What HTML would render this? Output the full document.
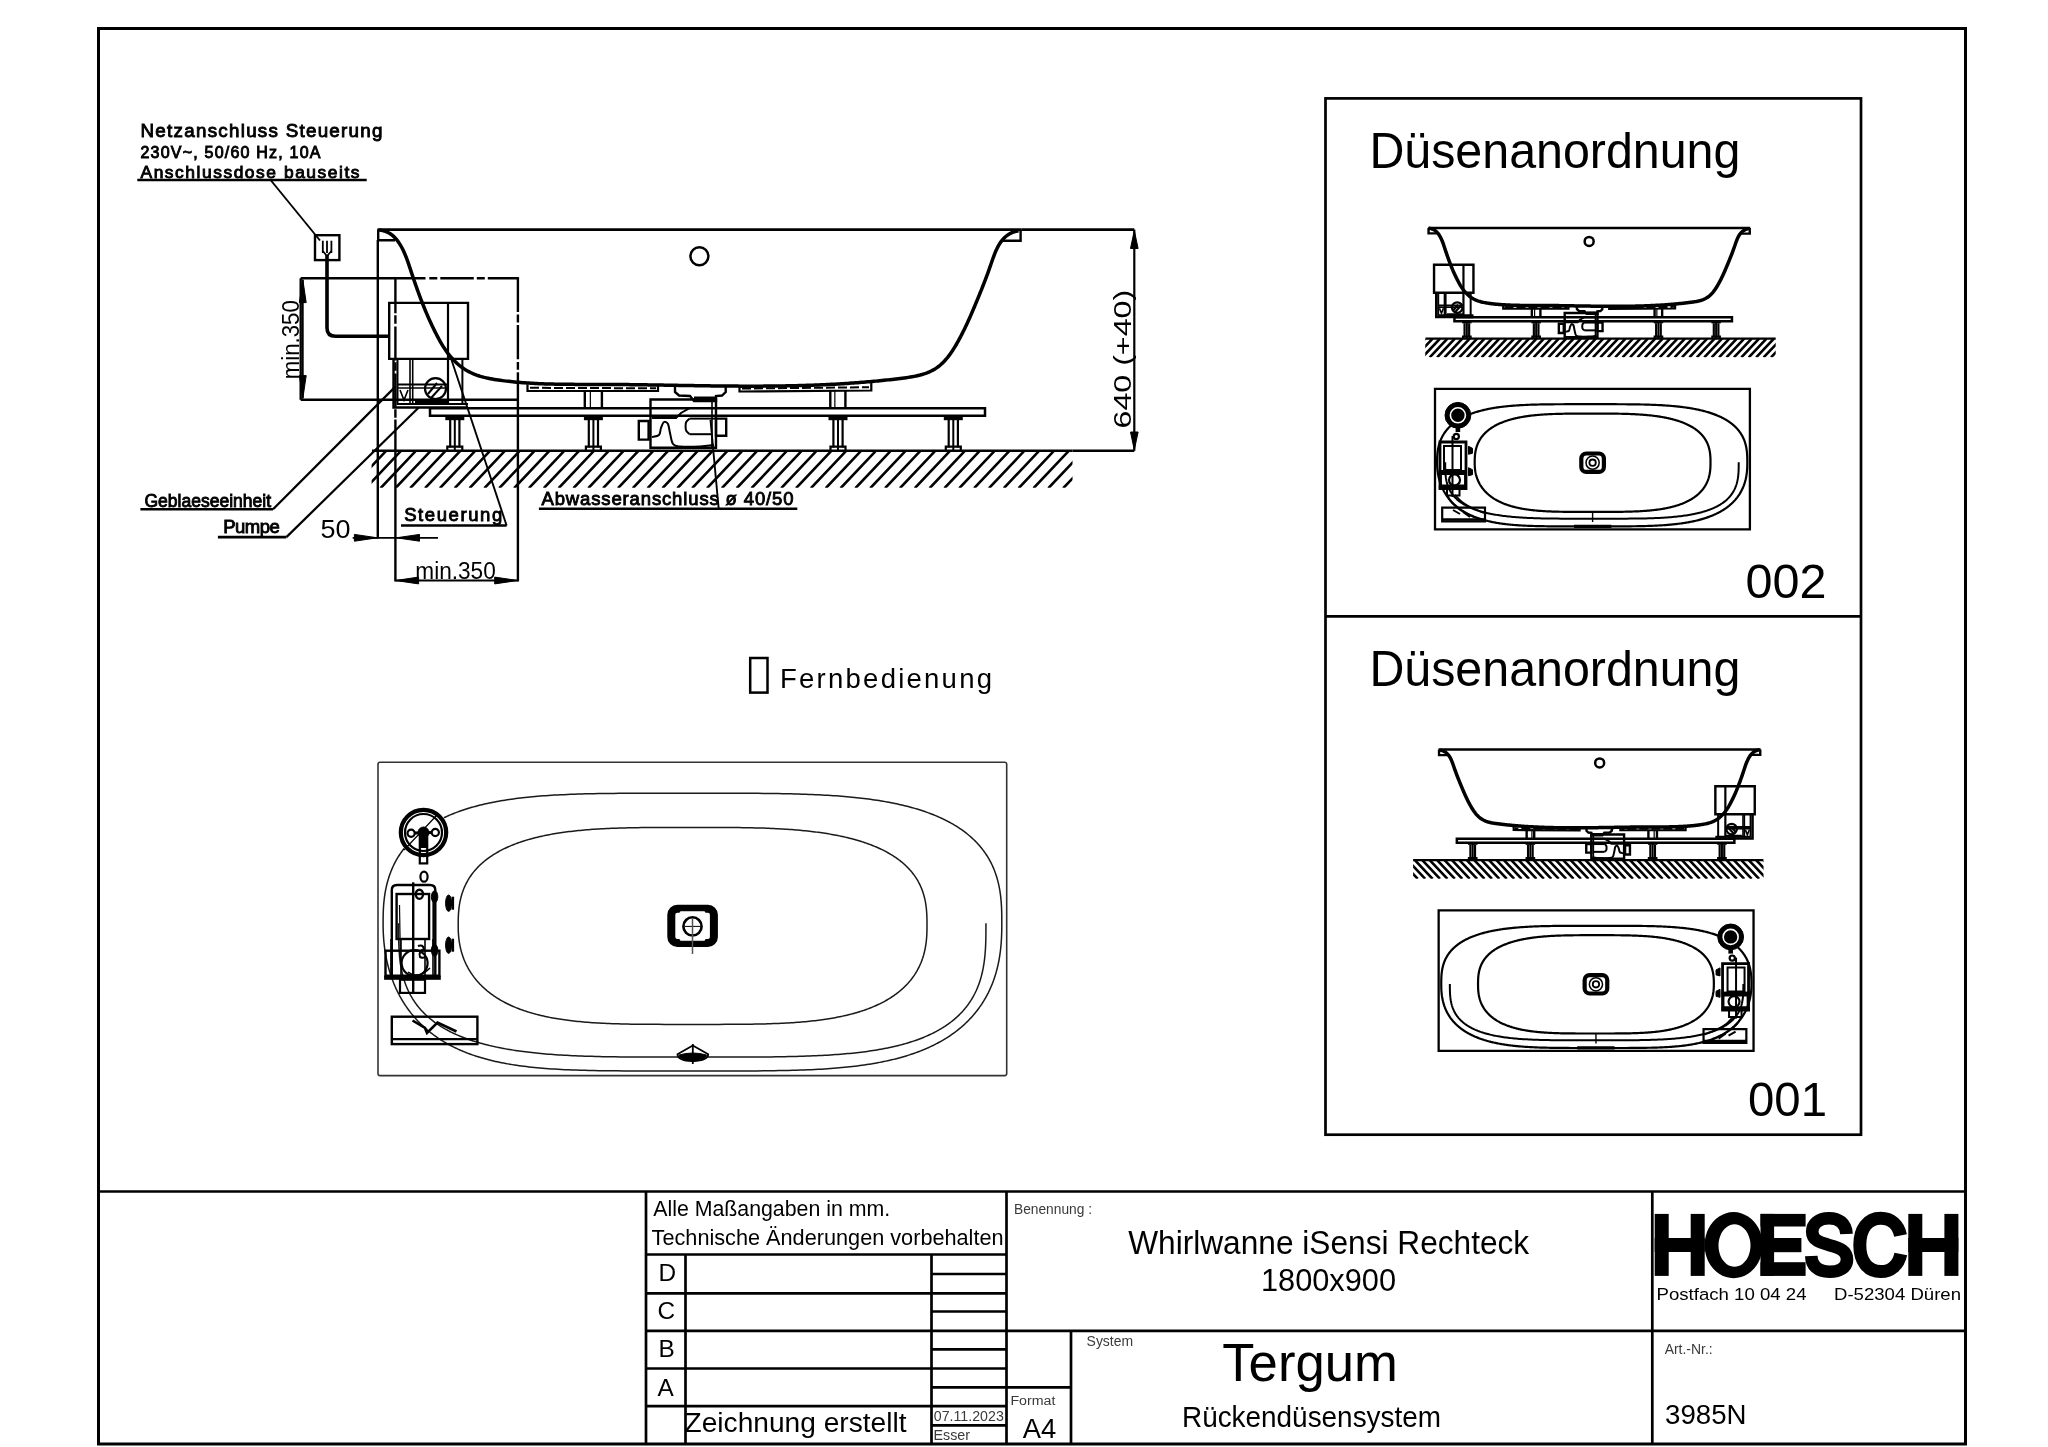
<!DOCTYPE html>
<html><head><meta charset="utf-8"><style>
html,body{margin:0;padding:0;background:#fff;width:2048px;height:1447px;overflow:hidden}
svg{display:block;will-change:transform}
</style></head><body>
<svg width="2048" height="1447" viewBox="0 0 2048 1447" stroke-linecap="butt">
<rect x="0" y="0" width="2048" height="1447" fill="#fff"/>
<rect x="98.5" y="28.5" width="1867" height="1415.5" fill="none" stroke="#000" stroke-width="3" />
<line x1="97" y1="1191.5" x2="1967" y2="1191.5" stroke="#000" stroke-width="2.7" />
<line x1="646" y1="1191.5" x2="646" y2="1444" stroke="#000" stroke-width="2.7" />
<line x1="1006.5" y1="1191.5" x2="1006.5" y2="1444" stroke="#000" stroke-width="2.7" />
<line x1="1652.3" y1="1191.5" x2="1652.3" y2="1444" stroke="#000" stroke-width="2.7" />
<line x1="646" y1="1254.5" x2="1006.5" y2="1254.5" stroke="#000" stroke-width="2.7" />
<line x1="685.5" y1="1254.5" x2="685.5" y2="1444" stroke="#000" stroke-width="2.7" />
<line x1="931.5" y1="1254.5" x2="931.5" y2="1444" stroke="#000" stroke-width="2.7" />
<line x1="646" y1="1293.4" x2="1006.5" y2="1293.4" stroke="#000" stroke-width="2.7" />
<line x1="646" y1="1330.8" x2="1006.5" y2="1330.8" stroke="#000" stroke-width="2.7" />
<line x1="646" y1="1368.5" x2="1006.5" y2="1368.5" stroke="#000" stroke-width="2.7" />
<line x1="646" y1="1406.2" x2="1006.5" y2="1406.2" stroke="#000" stroke-width="2.7" />
<line x1="931.5" y1="1274" x2="1006.5" y2="1274" stroke="#000" stroke-width="2.7" />
<line x1="931.5" y1="1311.5" x2="1006.5" y2="1311.5" stroke="#000" stroke-width="2.7" />
<line x1="931.5" y1="1349.4" x2="1006.5" y2="1349.4" stroke="#000" stroke-width="2.7" />
<line x1="931.5" y1="1387.4" x2="1006.5" y2="1387.4" stroke="#000" stroke-width="2.7" />
<line x1="931.5" y1="1425.3" x2="1006.5" y2="1425.3" stroke="#000" stroke-width="2.7" />
<line x1="1006.5" y1="1330.8" x2="1967" y2="1330.8" stroke="#000" stroke-width="2.7" />
<line x1="1071" y1="1330.8" x2="1071" y2="1444" stroke="#000" stroke-width="2.7" />
<line x1="1006.5" y1="1387.4" x2="1071" y2="1387.4" stroke="#000" stroke-width="2.7" />
<text x="653.2" y="1216" style="font-family:&quot;Liberation Sans&quot;" font-size="22.19" fill="#000" textLength="237" lengthAdjust="spacingAndGlyphs" >Alle Maßangaben in mm.</text>
<text x="651.6" y="1244.6" style="font-family:&quot;Liberation Sans&quot;" font-size="22.4" fill="#000" textLength="352" lengthAdjust="spacingAndGlyphs" >Technische Änderungen vorbehalten</text>
<text x="658.5" y="1281.2" style="font-family:&quot;Liberation Sans&quot;" font-size="24.37" fill="#000" >D</text>
<text x="657.5" y="1318.6" style="font-family:&quot;Liberation Sans&quot;" font-size="24.37" fill="#000" >C</text>
<text x="658.5" y="1357.4" style="font-family:&quot;Liberation Sans&quot;" font-size="24.37" fill="#000" >B</text>
<text x="657.6" y="1395.5" style="font-family:&quot;Liberation Sans&quot;" font-size="24.37" fill="#000" >A</text>
<text x="684.5" y="1432" style="font-family:&quot;Liberation Sans&quot;" font-size="27.48" fill="#000" textLength="222" lengthAdjust="spacingAndGlyphs" >Zeichnung erstellt</text>
<text x="933.8" y="1421" style="font-family:&quot;Liberation Sans&quot;" font-size="14.1" fill="#3a3a3a" textLength="70" lengthAdjust="spacingAndGlyphs" >07.11.2023</text>
<text x="933.5" y="1440.3" style="font-family:&quot;Liberation Sans&quot;" font-size="14.1" fill="#3a3a3a" textLength="36.5" lengthAdjust="spacingAndGlyphs" >Esser</text>
<text x="1010.4" y="1405.2" style="font-family:&quot;Liberation Sans&quot;" font-size="13.69" fill="#3a3a3a" textLength="45" lengthAdjust="spacingAndGlyphs" >Format</text>
<text x="1022.8" y="1438" style="font-family:&quot;Liberation Sans&quot;" font-size="26.96" fill="#000" textLength="33.5" lengthAdjust="spacingAndGlyphs" >A4</text>
<text x="1014" y="1213.7" style="font-family:&quot;Liberation Sans&quot;" font-size="14" fill="#3a3a3a" textLength="78" lengthAdjust="spacingAndGlyphs" >Benennung :</text>
<text x="1128.2" y="1254.3" style="font-family:&quot;Liberation Sans&quot;" font-size="32.77" fill="#000" textLength="401" lengthAdjust="spacingAndGlyphs" >Whirlwanne iSensi Rechteck</text>
<text x="1261" y="1291.3" style="font-family:&quot;Liberation Sans&quot;" font-size="31.63" fill="#000" textLength="135" lengthAdjust="spacingAndGlyphs" >1800x900</text>
<text x="1086.6" y="1345.6" style="font-family:&quot;Liberation Sans&quot;" font-size="14" fill="#3a3a3a" textLength="46.5" lengthAdjust="spacingAndGlyphs" >System</text>
<text x="1222.3" y="1381.2" style="font-family:&quot;Liberation Sans&quot;" font-size="53.92" fill="#000" textLength="175.5" lengthAdjust="spacingAndGlyphs" >Tergum</text>
<text x="1182" y="1426.7" style="font-family:&quot;Liberation Sans&quot;" font-size="28.72" fill="#000" textLength="259" lengthAdjust="spacingAndGlyphs" >Rückendüsensystem</text>
<text x="1656.5" y="1300.3" style="font-family:&quot;Liberation Sans&quot;" font-size="16.59" fill="#000" textLength="150" lengthAdjust="spacingAndGlyphs" >Postfach 10 04 24</text>
<text x="1834" y="1300.3" style="font-family:&quot;Liberation Sans&quot;" font-size="16.59" fill="#000" textLength="127" lengthAdjust="spacingAndGlyphs" >D-52304 Düren</text>
<text x="1664.7" y="1354.1" style="font-family:&quot;Liberation Sans&quot;" font-size="14" fill="#3a3a3a" textLength="48" lengthAdjust="spacingAndGlyphs" >Art.-Nr.:</text>
<text x="1665" y="1423.7" style="font-family:&quot;Liberation Sans&quot;" font-size="28" fill="#000" textLength="81.5" lengthAdjust="spacingAndGlyphs" >3985N</text>
<rect x="1654.7" y="1213.9" width="14" height="62" fill="#000"/>
<rect x="1690.7" y="1213.9" width="14" height="62" fill="#000"/>
<rect x="1654.7" y="1238" width="50" height="14" fill="#000"/>
<path fill-rule="evenodd" d="M1733.6,1212 A29,33.1 0 1 0 1733.61,1212 Z M1734.5,1224.3 A16,21.25 0 1 1 1734.49,1224.3 Z" fill="#000"/>
<rect x="1760.5" y="1213.9" width="13.6" height="62" fill="#000"/>
<rect x="1760.5" y="1213.9" width="45.1" height="12.6" fill="#000"/>
<rect x="1760.5" y="1238" width="40.9" height="14.2" fill="#000"/>
<rect x="1760.5" y="1262.2" width="45.1" height="13.7" fill="#000"/>
<path d="M1846.5,1234 C1846,1223 1838.5,1218.2 1829,1218.2 C1818.5,1218.2 1812.2,1224 1812.2,1231.5 C1812.2,1240.5 1820,1242.5 1829.5,1245.2 C1840,1248 1847,1251 1847,1259.5 C1847,1267.5 1840,1271.8 1829.5,1271.8 C1817.5,1271.8 1811.5,1265.5 1811.3,1256" fill="none" stroke="#000" stroke-width="12.6" />
<path d="M1900.5,1235.5 C1898.5,1225 1891,1218.3 1880.8,1218.3 C1867.5,1218.3 1859.8,1229 1859.8,1245 C1859.8,1261 1867.5,1271.6 1880.8,1271.6 C1891,1271.6 1898.5,1265 1900.8,1254" fill="none" stroke="#000" stroke-width="13" />
<rect x="1908.3" y="1213.9" width="14" height="62" fill="#000"/>
<rect x="1944.4" y="1213.9" width="14" height="62" fill="#000"/>
<rect x="1908.3" y="1238" width="50" height="14" fill="#000"/>
<rect x="1325.5" y="98.4" width="535.5" height="1036.3" fill="none" stroke="#000" stroke-width="2.7" />
<line x1="1325.5" y1="616.4" x2="1861" y2="616.4" stroke="#000" stroke-width="2.7" />
<text x="1369.4" y="168.1" style="font-family:&quot;Liberation Sans&quot;" font-size="50.29" fill="#000" textLength="371" lengthAdjust="spacingAndGlyphs" >Düsenanordnung</text>
<text x="1369.4" y="685.9" style="font-family:&quot;Liberation Sans&quot;" font-size="50.29" fill="#000" textLength="371" lengthAdjust="spacingAndGlyphs" >Düsenanordnung</text>
<text x="1745.5" y="597.5" style="font-family:&quot;Liberation Sans&quot;" font-size="48.74" fill="#000" textLength="81" lengthAdjust="spacingAndGlyphs" >002</text>
<text x="1748" y="1116" style="font-family:&quot;Liberation Sans&quot;" font-size="48.74" fill="#000" textLength="79" lengthAdjust="spacingAndGlyphs" >001</text>
<line x1="377.5" y1="229.6" x2="1021.5" y2="229.6" stroke="#000" stroke-width="2.6" />
<polyline points="378.2,229.6 378.2,240.2 395,240.2" fill="none" stroke="#000" stroke-width="2.4" />
<polyline points="1002,240.8 1020.6,240.8 1020.6,229.6" fill="none" stroke="#000" stroke-width="2.4" />
<path d="M379.19,230.10 L381.39,230.38 L383.46,230.83 L385.42,231.43 L387.25,232.17 L388.98,233.05 L390.61,234.06 L392.14,235.18 L393.58,236.41 L394.93,237.74 L396.21,239.16 L397.42,240.65 L398.56,242.22 L399.64,243.84 L400.67,245.52 L401.64,247.26 L402.57,249.04 L403.45,250.86 L404.30,252.72 L405.10,254.61 L405.88,256.53 L406.63,258.47 L407.35,260.44 L408.05,262.42 L408.74,264.41 L409.41,266.40 L410.07,268.40 L410.73,270.39 L411.39,272.38 L412.05,274.36 L412.71,276.33 L413.37,278.28 L414.03,280.23 L414.70,282.17 L415.37,284.11 L416.05,286.03 L416.72,287.95 L417.41,289.86 L418.10,291.76 L418.79,293.66 L419.49,295.55 L420.19,297.43 L420.91,299.31 L421.63,301.18 L422.36,303.05 L423.09,304.91 L423.84,306.76 L424.59,308.62 L425.35,310.47 L426.13,312.31 L426.91,314.15 L427.71,315.99 L428.51,317.83 L429.33,319.66 L430.16,321.49 L431.00,323.32 L431.86,325.15 L432.73,326.98 L433.61,328.80 L434.51,330.63 L435.42,332.45 L436.35,334.27 L437.30,336.10 L438.26,337.92 L439.25,339.73 L440.25,341.53 L441.29,343.32 L442.34,345.09 L443.43,346.84 L444.55,348.57 L445.70,350.27 L446.88,351.94 L448.10,353.59 L449.36,355.20 L450.67,356.77 L452.01,358.30 L453.39,359.79 L454.81,361.23 L456.27,362.63 L457.77,363.98 L459.31,365.28 L460.89,366.52 L462.50,367.71 L464.15,368.85 L465.83,369.93 L467.54,370.94 L469.29,371.89 L471.08,372.78 L472.89,373.61 L474.73,374.37 L476.60,375.08 L478.50,375.73 L480.42,376.34 L482.36,376.89 L484.31,377.41 L486.29,377.88 L488.28,378.32 L490.28,378.72 L492.29,379.09 L494.31,379.44 L496.34,379.76 L498.37,380.06 L500.41,380.35 L502.44,380.62 L504.48,380.88 L506.51,381.12 L508.55,381.36 L510.58,381.58 L512.61,381.79 L514.65,381.99 L516.68,382.18 L518.71,382.36 L520.74,382.53 L522.78,382.69 L524.81,382.84 L526.84,382.99 L528.87,383.12 L530.90,383.24 L532.93,383.36 L534.97,383.47 L537.00,383.57 L539.03,383.66 L541.06,383.74 L543.09,383.82 L545.12,383.89 L547.15,383.96 L549.18,384.02 L551.21,384.07 L553.24,384.12 L555.26,384.16 L557.29,384.20 L559.32,384.24 L561.35,384.26 L563.38,384.29 L565.41,384.31 L567.44,384.33 L569.47,384.35 L571.49,384.36 L573.52,384.37 L575.55,384.38 L577.58,384.38 L579.61,384.39 L581.63,384.39 L583.66,384.39 L585.69,384.40 L587.72,384.40 L589.75,384.40 L591.77,384.40 L593.80,384.40 L595.83,384.40 L597.86,384.40 L599.88,384.41 L601.91,384.41 L603.94,384.42 L605.97,384.43 L608.00,384.44 L610.02,384.45 L612.05,384.47 L614.08,384.48 L616.11,384.50 L618.14,384.51 L620.16,384.53 L622.19,384.55 L624.22,384.57 L626.25,384.59 L628.27,384.62 L630.30,384.64 L632.33,384.67 L634.36,384.69 L636.39,384.72 L638.41,384.75 L640.44,384.77 L642.47,384.80 L644.50,384.83 L646.53,384.86 L648.55,384.89 L650.58,384.92 L652.61,384.95 L654.64,384.99 L656.67,385.02 L658.70,385.05 L660.72,385.08 L662.75,385.12 L664.78,385.15 L666.81,385.19 L668.84,385.22 L670.86,385.25 L672.89,385.29 L674.92,385.32 L676.95,385.35 L678.98,385.39 L681.01,385.42 L683.03,385.46 L685.06,385.49 L687.09,385.52 L689.12,385.55 L691.15,385.59 L693.18,385.62 L695.20,385.65 L697.23,385.68 L699.26,385.71 L701.29,385.74 L703.32,385.77 L705.35,385.80 L707.38,385.83 L709.40,385.85 L711.43,385.88 L713.46,385.90 L715.49,385.93 L717.52,385.95 L719.55,385.97 L721.58,386.00 L723.61,386.02 L725.63,386.03 L727.66,386.05 L729.69,386.07 L731.72,386.08 L733.75,386.10 L735.78,386.11 L737.81,386.12 L739.84,386.13 L741.86,386.14 L743.89,386.15 L745.92,386.15 L747.95,386.16 L749.98,386.16 L752.01,386.16 L754.04,386.16 L756.07,386.15 L758.10,386.15 L760.13,386.14 L762.15,386.13 L764.18,386.12 L766.21,386.11 L768.24,386.09 L770.27,386.08 L772.30,386.06 L774.33,386.03 L776.36,386.01 L778.39,385.98 L780.42,385.96 L782.45,385.92 L784.48,385.89 L786.51,385.85 L788.54,385.82 L790.56,385.77 L792.59,385.73 L794.62,385.68 L796.65,385.64 L798.68,385.58 L800.71,385.53 L802.74,385.47 L804.77,385.41 L806.80,385.35 L808.83,385.28 L810.86,385.21 L812.89,385.14 L814.92,385.06 L816.95,384.98 L818.98,384.90 L821.01,384.82 L823.04,384.73 L825.07,384.64 L827.10,384.54 L829.13,384.44 L831.16,384.34 L833.19,384.24 L835.22,384.13 L837.25,384.01 L839.28,383.90 L841.31,383.78 L843.34,383.65 L845.37,383.52 L847.40,383.39 L849.43,383.26 L851.46,383.12 L853.49,382.97 L855.52,382.83 L857.55,382.67 L859.58,382.52 L861.61,382.36 L863.64,382.20 L865.67,382.03 L867.70,381.85 L869.73,381.68 L871.76,381.50 L873.79,381.31 L875.83,381.12 L877.86,380.93 L879.89,380.73 L881.92,380.52 L883.95,380.31 L885.98,380.10 L888.01,379.88 L890.04,379.66 L892.07,379.43 L894.10,379.20 L896.13,378.96 L898.16,378.72 L900.20,378.47 L902.23,378.22 L904.25,377.96 L906.28,377.68 L908.30,377.39 L910.30,377.07 L912.30,376.73 L914.28,376.36 L916.25,375.96 L918.20,375.52 L920.13,375.04 L922.04,374.51 L923.92,373.93 L925.77,373.30 L927.60,372.60 L929.39,371.85 L931.15,371.03 L932.87,370.14 L934.56,369.17 L936.20,368.13 L937.80,367.00 L939.36,365.79 L940.88,364.50 L942.35,363.14 L943.78,361.71 L945.17,360.21 L946.52,358.65 L947.84,357.04 L949.12,355.39 L950.37,353.69 L951.58,351.95 L952.76,350.18 L953.91,348.39 L955.03,346.57 L956.13,344.74 L957.19,342.89 L958.23,341.04 L959.25,339.19 L960.24,337.35 L961.21,335.50 L962.16,333.66 L963.08,331.82 L963.99,329.99 L964.89,328.16 L965.76,326.32 L966.62,324.50 L967.47,322.67 L968.31,320.84 L969.13,319.01 L969.94,317.18 L970.74,315.36 L971.54,313.53 L972.32,311.70 L973.10,309.87 L973.88,308.03 L974.65,306.20 L975.42,304.36 L976.19,302.52 L976.96,300.68 L977.72,298.83 L978.48,296.98 L979.24,295.13 L980.00,293.26 L980.76,291.40 L981.51,289.53 L982.26,287.65 L983.00,285.76 L983.74,283.87 L984.48,281.97 L985.21,280.07 L985.93,278.15 L986.65,276.22 L987.37,274.29 L988.08,272.35 L988.78,270.39 L989.48,268.43 L990.17,266.45 L990.85,264.46 L991.53,262.47 L992.22,260.48 L992.92,258.50 L993.64,256.54 L994.38,254.59 L995.15,252.67 L995.95,250.79 L996.80,248.95 L997.69,247.16 L998.64,245.42 L999.65,243.74 L1000.72,242.13 L1001.86,240.59 L1003.08,239.14 L1004.38,237.77 L1005.77,236.49 L1007.26,235.32 L1008.85,234.25 L1010.54,233.30 L1012.35,232.46 L1014.28,231.76 L1016.34,231.18 L1018.52,230.75" fill="none" stroke="#000" stroke-width="3.5" />
<polyline points="527.5,384.5 527.5,391 658,391 658,385.5" fill="none" stroke="#000" stroke-width="2.2" />
<polyline points="739.5,385.5 739.5,391.5 871.3,390.5 871.3,383" fill="none" stroke="#000" stroke-width="2.2" />
<line x1="530" y1="387.8" x2="656" y2="388.3" stroke="#000" stroke-width="2" stroke-dasharray="9 3"/>
<line x1="742" y1="388.6" x2="869" y2="387.2" stroke="#000" stroke-width="2" stroke-dasharray="9 3"/>
<polyline points="675,386.5 675,392 679,395.5 690,396 694,401 716,401 716,396 722,395.5 725.7,392 725.7,386.5" fill="none" stroke="#000" stroke-width="2.4" />
<polygon points="694,396.5 715,396.5 715,402 694,402" fill="#000"/>
<line x1="584.8" y1="391" x2="584.8" y2="408" stroke="#000" stroke-width="2.4" />
<line x1="601.9" y1="391" x2="601.9" y2="408" stroke="#000" stroke-width="2.4" />
<line x1="590.35" y1="391" x2="590.35" y2="408" stroke="#000" stroke-width="1.2" />
<line x1="830.3" y1="391" x2="830.3" y2="408" stroke="#000" stroke-width="2.4" />
<line x1="845.4" y1="391" x2="845.4" y2="408" stroke="#000" stroke-width="2.4" />
<line x1="834.85" y1="391" x2="834.85" y2="408" stroke="#000" stroke-width="1.2" />
<polygon points="430,408.2 985,408.2 985,415.8 430,415.8" fill="none" stroke="#000" stroke-width="2.5" />
<polygon points="445.3,416 464.3,416 464.3,420.2 445.3,420.2" fill="#000"/>
<line x1="450.2" y1="420" x2="450.2" y2="447.5" stroke="#000" stroke-width="2.2" />
<line x1="459.4" y1="420" x2="459.4" y2="447.5" stroke="#000" stroke-width="2.2" />
<line x1="454.8" y1="416" x2="454.8" y2="452" stroke="#000" stroke-width="2" />
<polyline points="447.3,450.8 447.3,446.6 462.3,446.6 462.3,450.8" fill="none" stroke="#000" stroke-width="2.2" />
<polygon points="583.9,416 602.9,416 602.9,420.2 583.9,420.2" fill="#000"/>
<line x1="588.8" y1="420" x2="588.8" y2="447.5" stroke="#000" stroke-width="2.2" />
<line x1="598" y1="420" x2="598" y2="447.5" stroke="#000" stroke-width="2.2" />
<line x1="593.4" y1="416" x2="593.4" y2="452" stroke="#000" stroke-width="2" />
<polyline points="585.9,450.8 585.9,446.6 600.9,446.6 600.9,450.8" fill="none" stroke="#000" stroke-width="2.2" />
<polygon points="828.5,416 847.5,416 847.5,420.2 828.5,420.2" fill="#000"/>
<line x1="833.4" y1="420" x2="833.4" y2="447.5" stroke="#000" stroke-width="2.2" />
<line x1="842.6" y1="420" x2="842.6" y2="447.5" stroke="#000" stroke-width="2.2" />
<line x1="838" y1="416" x2="838" y2="452" stroke="#000" stroke-width="2" />
<polyline points="830.5,450.8 830.5,446.6 845.5,446.6 845.5,450.8" fill="none" stroke="#000" stroke-width="2.2" />
<polygon points="943.8,416 962.8,416 962.8,420.2 943.8,420.2" fill="#000"/>
<line x1="948.7" y1="420" x2="948.7" y2="447.5" stroke="#000" stroke-width="2.2" />
<line x1="957.9" y1="420" x2="957.9" y2="447.5" stroke="#000" stroke-width="2.2" />
<line x1="953.3" y1="416" x2="953.3" y2="452" stroke="#000" stroke-width="2" />
<polyline points="945.8,450.8 945.8,446.6 960.8,446.6 960.8,450.8" fill="none" stroke="#000" stroke-width="2.2" />
<polygon points="650.5,399.5 716,399.5 716,447.7 650.5,447.7" fill="none" stroke="#000" stroke-width="2.4" />
<polygon points="638.8,421 648.6,421 648.6,439.6 638.8,439.6" fill="none" stroke="#000" stroke-width="2.4" />
<polygon points="716,418.6 726.2,418.6 726.2,435.7 716,435.7" fill="none" stroke="#000" stroke-width="2.4" />
<path d="M652,437 C653.17,436.67 657.5,436.5 659,435 C660.5,433.5 660.17,430.17 661,428 C661.83,425.83 662.83,422.67 664,422 C665.17,421.33 667,422.17 668,424 C669,425.83 669.17,429.67 670,433 C670.83,436.33 671.33,441.75 673,444 C674.67,446.25 675.5,446.08 680,446.5 C684.5,446.92 694.33,446.75 700,446.5 C705.67,446.25 711.67,445.25 714,445" fill="none" stroke="#000" stroke-width="2" />
<polyline points="652,418 676,418 681,413 690,408 712,408" fill="none" stroke="#000" stroke-width="2" />
<polyline points="716,418.6 689.5,418.6" fill="none" stroke="#000" stroke-width="2" />
<path d="M689.5,418.6 C688.95,419.17 686.85,420.7 686.2,422 C685.55,423.3 685.6,424.93 685.6,426.4 C685.6,427.87 685.55,429.5 686.2,430.8 C686.85,432.1 688.95,433.63 689.5,434.2" fill="none" stroke="#000" stroke-width="2" />
<polyline points="689.5,434.2 711,434.2" fill="none" stroke="#000" stroke-width="2" />
<line x1="712" y1="401" x2="712" y2="447" stroke="#000" stroke-width="1.6" />
<polygon points="389.2,302.9 468,302.9 468,358.9 389.2,358.9" fill="none" stroke="#000" stroke-width="2.4" />
<line x1="448" y1="303" x2="448" y2="359" stroke="#000" stroke-width="2.2" />
<polyline points="393.5,359 393.5,407.5 468,407.5" fill="none" stroke="#000" stroke-width="2.4" />
<line x1="397.5" y1="359" x2="397.5" y2="405" stroke="#000" stroke-width="2" />
<line x1="410" y1="359" x2="410" y2="405" stroke="#000" stroke-width="1.6" />
<line x1="412.7" y1="359" x2="412.7" y2="405" stroke="#000" stroke-width="1.6" />
<line x1="448" y1="359" x2="448" y2="404" stroke="#000" stroke-width="2.2" />
<line x1="462.4" y1="359" x2="462.4" y2="405" stroke="#000" stroke-width="2" />
<line x1="397.5" y1="384.5" x2="448" y2="384.5" stroke="#000" stroke-width="2" />
<line x1="397.5" y1="388" x2="448" y2="388" stroke="#000" stroke-width="1.6" />
<line x1="397.5" y1="404" x2="468" y2="404" stroke="#000" stroke-width="2.2" />
<circle cx="435.5" cy="388.6" r="10.5" fill="none" stroke="#000" stroke-width="2.2"/>
<line x1="428" y1="394" x2="437" y2="383" stroke="#000" stroke-width="2" />
<line x1="431" y1="398" x2="442" y2="386" stroke="#000" stroke-width="2" />
<polyline points="400,390 404,400 408,390" fill="none" stroke="#000" stroke-width="1.6" />
<polygon points="415,400 448,400 448,404 415,404" fill="#000"/>
<line x1="372" y1="450.8" x2="1072.5" y2="450.8" stroke="#000" stroke-width="2.4" />
<clipPath id="hcmain"><rect x="371.6" y="451.7" width="700.9" height="36.1"/></clipPath>
<path clip-path="url(#hcmain)" d="M356.68,450.7L321.18,488.2M371.52,450.7L336.02,488.2M386.36,450.7L350.86,488.2M401.2,450.7L365.7,488.2M416.04,450.7L380.54,488.2M430.88,450.7L395.38,488.2M445.72,450.7L410.22,488.2M460.56,450.7L425.06,488.2M475.4,450.7L439.9,488.2M490.24,450.7L454.74,488.2M505.08,450.7L469.58,488.2M519.92,450.7L484.42,488.2M534.76,450.7L499.26,488.2M549.6,450.7L514.1,488.2M564.44,450.7L528.94,488.2M579.28,450.7L543.78,488.2M594.12,450.7L558.62,488.2M608.96,450.7L573.46,488.2M623.8,450.7L588.3,488.2M638.64,450.7L603.14,488.2M653.48,450.7L617.98,488.2M668.32,450.7L632.82,488.2M683.16,450.7L647.66,488.2M698,450.7L662.5,488.2M712.84,450.7L677.34,488.2M727.68,450.7L692.18,488.2M742.52,450.7L707.02,488.2M757.36,450.7L721.86,488.2M772.2,450.7L736.7,488.2M787.04,450.7L751.54,488.2M801.88,450.7L766.38,488.2M816.72,450.7L781.22,488.2M831.56,450.7L796.06,488.2M846.4,450.7L810.9,488.2M861.24,450.7L825.74,488.2M876.08,450.7L840.58,488.2M890.92,450.7L855.42,488.2M905.76,450.7L870.26,488.2M920.6,450.7L885.1,488.2M935.44,450.7L899.94,488.2M950.28,450.7L914.78,488.2M965.12,450.7L929.62,488.2M979.96,450.7L944.46,488.2M994.8,450.7L959.3,488.2M1009.64,450.7L974.14,488.2M1024.48,450.7L988.98,488.2M1039.32,450.7L1003.82,488.2M1054.16,450.7L1018.66,488.2M1069,450.7L1033.5,488.2M1083.84,450.7L1048.34,488.2M1098.68,450.7L1063.18,488.2" stroke="#000" stroke-width="2.6" fill="none"/>
<circle cx="699.4" cy="256.3" r="9" fill="none" stroke="#000" stroke-width="2.5"/>
<line x1="1021.5" y1="229.6" x2="1134.3" y2="229.6" stroke="#000" stroke-width="2.6" />
<line x1="1072.5" y1="450.8" x2="1134.3" y2="450.8" stroke="#000" stroke-width="2.4" />
<line x1="1134.3" y1="229.6" x2="1134.3" y2="450.8" stroke="#000" stroke-width="2.2" />
<polygon points="1134.3,230.5 1138.1,248.5 1130.5,248.5" fill="#000" stroke="#000" stroke-width="1"/>
<polygon points="1134.3,450 1130.5,432 1138.1,432" fill="#000" stroke="#000" stroke-width="1"/>
<text transform="translate(1131.2,428.4) rotate(-90)" font-family="Liberation Sans" font-size="23.5" textLength="138.5" lengthAdjust="spacingAndGlyphs">640 (+40)</text>
<line x1="377.8" y1="240" x2="377.8" y2="538.5" stroke="#000" stroke-width="2.4" />
<line x1="300.7" y1="278.3" x2="425.5" y2="278.3" stroke="#000" stroke-width="2.4" />
<line x1="429.3" y1="278.3" x2="517.9" y2="278.3" stroke="#000" stroke-width="2.4" stroke-dasharray="8 3 33.5 3"/>
<line x1="300.7" y1="278.3" x2="300.7" y2="399.8" stroke="#000" stroke-width="2.4" />
<line x1="300.7" y1="399.8" x2="517.7" y2="399.8" stroke="#000" stroke-width="2.4" />
<line x1="395.4" y1="277.1" x2="395.4" y2="313.3" stroke="#000" stroke-width="2.4" />
<line x1="395.4" y1="315.2" x2="395.4" y2="417.8" stroke="#000" stroke-width="2.4" stroke-dasharray="8.6 2.6 34 1.8"/>
<line x1="395.4" y1="419.5" x2="395.4" y2="581.5" stroke="#000" stroke-width="2.4" />
<line x1="517.9" y1="277.1" x2="517.9" y2="312" stroke="#000" stroke-width="2.4" />
<line x1="517.9" y1="314.6" x2="517.9" y2="369.7" stroke="#000" stroke-width="2.4" stroke-dasharray="8 2.5 34.2 2.6"/>
<line x1="517.9" y1="372.3" x2="517.9" y2="581.5" stroke="#000" stroke-width="2.4" />
<line x1="302.8" y1="280" x2="302.8" y2="398" stroke="#000" stroke-width="1.8" />
<polygon points="302.8,279.6 306.2,302.6 299.4,302.6" fill="#000" stroke="#000" stroke-width="1"/>
<polygon points="302.8,398.6 299.4,375.6 306.2,375.6" fill="#000" stroke="#000" stroke-width="1"/>
<text transform="translate(299.4,379.2) rotate(-90)" font-family="Liberation Sans" font-size="23.5" textLength="79" lengthAdjust="spacingAndGlyphs">min.350</text>
<rect x="315" y="235.2" width="24.4" height="24.9" fill="none" stroke="#000" stroke-width="2.4" />
<line x1="322.8" y1="240.7" x2="322.8" y2="253" stroke="#000" stroke-width="1.8" />
<line x1="327" y1="240.7" x2="327" y2="253" stroke="#000" stroke-width="1.8" />
<line x1="331.4" y1="240.7" x2="331.4" y2="253" stroke="#000" stroke-width="1.8" />
<polyline points="322.8,251 327,256 331.4,251" fill="none" stroke="#000" stroke-width="1.8" />
<path d="M327,255 L327,328 Q327,336.2 335.5,336.2 L388,336.2" fill="none" stroke="#000" stroke-width="3.6" />
<line x1="271" y1="180.5" x2="320" y2="240.5" stroke="#000" stroke-width="1.9" />
<text x="140.5" y="137" style="font-family:&quot;Liberation Sans&quot;" font-size="18.8" fill="#000" textLength="242" stroke="#000" stroke-width="0.9" lengthAdjust="spacing">Netzanschluss Steuerung</text>
<text x="140.5" y="157.7" style="font-family:&quot;Liberation Sans&quot;" font-size="16" fill="#000" textLength="180" stroke="#000" stroke-width="0.9" lengthAdjust="spacing">230V~, 50/60 Hz, 10A</text>
<text x="140.5" y="178.4" style="font-family:&quot;Liberation Sans&quot;" font-size="17.4" fill="#000" textLength="219" stroke="#000" stroke-width="0.9" lengthAdjust="spacing">Anschlussdose bauseits</text>
<line x1="137.3" y1="180" x2="366.7" y2="180" stroke="#000" stroke-width="2.6" />
<text x="144.5" y="506.9" style="font-family:&quot;Liberation Sans&quot;" font-size="18.5" fill="#000" textLength="126.5" lengthAdjust="spacingAndGlyphs" stroke="#000" stroke-width="0.9">Geblaeseeinheit</text>
<line x1="140.4" y1="509.3" x2="273" y2="509.3" stroke="#000" stroke-width="2.6" />
<line x1="273" y1="509.3" x2="395.4" y2="386.6" stroke="#000" stroke-width="2.2" />
<text x="223.2" y="533.2" style="font-family:&quot;Liberation Sans&quot;" font-size="18.5" fill="#000" textLength="56.5" stroke="#000" stroke-width="0.9" lengthAdjust="spacing">Pumpe</text>
<line x1="217.9" y1="537.1" x2="286.4" y2="537.1" stroke="#000" stroke-width="2.6" />
<line x1="286.4" y1="537.1" x2="419" y2="407.3" stroke="#000" stroke-width="2.2" />
<text x="320.6" y="537.7" style="font-family:&quot;Liberation Sans&quot;" font-size="25" fill="#000" textLength="30" lengthAdjust="spacingAndGlyphs" >50</text>
<line x1="352.7" y1="537.8" x2="438" y2="537.8" stroke="#000" stroke-width="1.8" />
<polygon points="377.4,537.8 354.4,541.2 354.4,534.4" fill="#000" stroke="#000" stroke-width="1"/>
<polygon points="396.5,537.8 419.5,534.4 419.5,541.2" fill="#000" stroke="#000" stroke-width="1"/>
<text x="404.2" y="520.9" style="font-family:&quot;Liberation Sans&quot;" font-size="18.5" fill="#000" textLength="98" stroke="#000" stroke-width="0.9" lengthAdjust="spacing">Steuerung</text>
<line x1="401" y1="525.5" x2="506.6" y2="525.5" stroke="#000" stroke-width="2.6" />
<line x1="506.6" y1="525.5" x2="450.7" y2="357.5" stroke="#000" stroke-width="1.9" />
<text x="415.3" y="579.3" style="font-family:&quot;Liberation Sans&quot;" font-size="23.5" fill="#000" textLength="80.5" lengthAdjust="spacingAndGlyphs" >min.350</text>
<line x1="395.4" y1="580.5" x2="517.9" y2="580.5" stroke="#000" stroke-width="1.8" />
<polygon points="395.6,580.5 418.6,577.1 418.6,583.9" fill="#000" stroke="#000" stroke-width="1"/>
<polygon points="517.7,580.5 494.7,583.9 494.7,577.1" fill="#000" stroke="#000" stroke-width="1"/>
<text x="541.5" y="505.3" style="font-family:&quot;Liberation Sans&quot;" font-size="18.5" fill="#000" textLength="252" stroke="#000" stroke-width="0.9" lengthAdjust="spacing">Abwasseranschluss ø 40/50</text>
<line x1="538.9" y1="508.8" x2="797.3" y2="508.8" stroke="#000" stroke-width="2.6" />
<line x1="718.7" y1="508.8" x2="710.5" y2="420" stroke="#000" stroke-width="1.9" />
<rect x="378" y="762.3" width="628.7" height="313.3" rx="2" fill="none" stroke="#333" stroke-width="1.6" />
<path d="M383.10,923.20 L383.11,920.27 L383.12,918.10 L383.15,916.15 L383.19,914.32 L383.24,912.59 L383.31,910.93 L383.38,909.32 L383.47,907.75 L383.57,906.23 L383.67,904.74 L383.80,903.28 L383.93,901.85 L384.07,900.45 L384.23,899.06 L384.39,897.70 L384.57,896.36 L384.76,895.04 L384.96,893.73 L385.18,892.44 L385.40,891.16 L385.64,889.90 L385.89,888.65 L386.15,887.42 L386.42,886.20 L386.70,884.99 L386.99,883.79 L387.30,882.60 L387.62,881.43 L387.95,880.26 L388.29,879.11 L388.64,877.97 L389.00,876.83 L389.38,875.71 L389.77,874.59 L390.17,873.49 L390.58,872.39 L391.00,871.31 L391.44,870.23 L391.89,869.16 L392.35,868.10 L392.82,867.04 L393.30,866.00 L393.79,864.96 L394.30,863.93 L394.82,862.91 L395.35,861.90 L395.89,860.90 L396.45,859.90 L397.02,858.91 L397.59,857.93 L398.19,856.96 L398.79,855.99 L399.41,855.03 L400.03,854.08 L400.67,853.14 L401.33,852.20 L401.99,851.28 L402.67,850.35 L403.36,849.44 L404.06,848.53 L404.78,847.64 L405.50,846.74 L406.24,845.86 L407.00,844.98 L407.76,844.11 L408.54,843.25 L409.33,842.39 L410.14,841.54 L410.95,840.70 L411.78,839.87 L412.63,839.04 L413.48,838.22 L414.35,837.41 L415.24,836.60 L416.13,835.80 L417.04,835.01 L417.96,834.23 L418.90,833.45 L419.85,832.68 L420.81,831.92 L421.79,831.16 L422.78,830.41 L423.79,829.67 L424.81,828.93 L425.84,828.21 L426.89,827.49 L427.95,826.77 L429.02,826.07 L430.11,825.37 L431.22,824.68 L432.34,823.99 L433.47,823.32 L434.62,822.65 L435.78,821.98 L436.96,821.33 L438.16,820.68 L439.37,820.04 L440.59,819.41 L441.83,818.78 L443.09,818.16 L444.36,817.55 L445.65,816.95 L446.96,816.35 L448.28,815.76 L449.62,815.18 L450.98,814.60 L452.35,814.03 L453.74,813.47 L455.15,812.92 L456.57,812.38 L458.01,811.84 L459.47,811.31 L460.95,810.78 L462.45,810.27 L463.97,809.76 L465.51,809.26 L467.06,808.77 L468.64,808.28 L470.23,807.80 L471.85,807.33 L473.49,806.87 L475.14,806.41 L476.82,805.96 L478.53,805.52 L480.25,805.09 L482.00,804.66 L483.77,804.25 L485.56,803.84 L487.38,803.43 L489.22,803.04 L491.09,802.65 L492.98,802.27 L494.90,801.90 L496.85,801.54 L498.83,801.18 L500.83,800.83 L502.86,800.49 L504.93,800.15 L507.02,799.83 L509.15,799.51 L511.31,799.20 L513.51,798.90 L515.74,798.60 L518.00,798.32 L520.31,798.04 L522.65,797.76 L525.04,797.50 L527.47,797.24 L529.94,797.00 L532.45,796.76 L535.02,796.52 L537.64,796.30 L540.31,796.08 L543.03,795.87 L545.82,795.67 L548.67,795.48 L551.58,795.29 L554.56,795.11 L557.62,794.94 L560.76,794.78 L563.98,794.63 L567.30,794.48 L570.71,794.34 L574.24,794.21 L577.88,794.09 L581.65,793.98 L585.56,793.87 L589.64,793.77 L593.90,793.68 L598.36,793.60 L603.07,793.52 L608.05,793.45 L613.36,793.39 L619.09,793.34 L625.33,793.30 L632.25,793.26 L640.13,793.24 L649.51,793.22 L661.83,793.20 L692.45,793.20 L717.96,793.20 L729.19,793.21 L737.93,793.23 L745.36,793.26 L751.95,793.29 L757.93,793.33 L763.46,793.38 L768.62,793.43 L773.49,793.50 L778.10,793.57 L782.49,793.64 L786.69,793.73 L790.73,793.82 L794.62,793.92 L798.38,794.02 L802.02,794.14 L805.55,794.26 L808.97,794.39 L812.31,794.52 L815.56,794.67 L818.72,794.82 L821.82,794.97 L824.84,795.14 L827.79,795.31 L830.69,795.49 L833.52,795.68 L836.30,795.87 L839.03,796.07 L841.70,796.28 L844.33,796.50 L846.91,796.72 L849.45,796.95 L851.94,797.19 L854.39,797.43 L856.81,797.68 L859.18,797.94 L861.52,798.21 L863.82,798.48 L866.09,798.77 L868.33,799.05 L870.53,799.35 L872.70,799.65 L874.85,799.96 L876.96,800.28 L879.04,800.60 L881.10,800.94 L883.12,801.28 L885.13,801.62 L887.10,801.98 L889.05,802.34 L890.97,802.70 L892.87,803.08 L894.75,803.46 L896.60,803.85 L898.43,804.25 L900.23,804.65 L902.02,805.06 L903.78,805.48 L905.52,805.91 L907.24,806.34 L908.94,806.78 L910.62,807.23 L912.27,807.68 L913.91,808.14 L915.53,808.61 L917.13,809.08 L918.71,809.57 L920.27,810.06 L921.81,810.55 L923.33,811.06 L924.84,811.57 L926.33,812.09 L927.80,812.61 L929.25,813.15 L930.68,813.68 L932.10,814.23 L933.50,814.79 L934.88,815.35 L936.25,815.91 L937.60,816.49 L938.93,817.07 L940.25,817.66 L941.55,818.26 L942.84,818.86 L944.11,819.47 L945.36,820.09 L946.60,820.72 L947.82,821.35 L949.03,821.99 L950.22,822.63 L951.40,823.29 L952.56,823.95 L953.70,824.62 L954.83,825.29 L955.95,825.97 L957.05,826.66 L958.14,827.36 L959.21,828.06 L960.27,828.77 L961.31,829.49 L962.34,830.22 L963.36,830.95 L964.36,831.69 L965.34,832.44 L966.32,833.19 L967.27,833.96 L968.22,834.72 L969.15,835.50 L970.06,836.29 L970.97,837.08 L971.86,837.88 L972.73,838.68 L973.59,839.50 L974.44,840.32 L975.28,841.15 L976.10,841.98 L976.90,842.83 L977.70,843.68 L978.48,844.54 L979.24,845.40 L980.00,846.28 L980.74,847.16 L981.47,848.05 L982.18,848.95 L982.88,849.86 L983.57,850.77 L984.24,851.70 L984.91,852.63 L985.55,853.57 L986.19,854.51 L986.81,855.47 L987.42,856.44 L988.02,857.41 L988.60,858.39 L989.17,859.38 L989.73,860.38 L990.28,861.39 L990.81,862.41 L991.33,863.44 L991.84,864.48 L992.33,865.53 L992.81,866.58 L993.28,867.65 L993.74,868.73 L994.18,869.82 L994.61,870.92 L995.03,872.03 L995.43,873.15 L995.83,874.29 L996.21,875.43 L996.57,876.59 L996.93,877.76 L997.27,878.95 L997.60,880.15 L997.92,881.36 L998.22,882.59 L998.52,883.83 L998.80,885.09 L999.06,886.36 L999.32,887.66 L999.56,888.97 L999.79,890.30 L1000.01,891.66 L1000.21,893.03 L1000.40,894.43 L1000.58,895.86 L1000.75,897.31 L1000.91,898.80 L1001.05,900.31 L1001.18,901.87 L1001.30,903.47 L1001.40,905.11 L1001.50,906.82 L1001.58,908.58 L1001.65,910.43 L1001.70,912.37 L1001.74,914.45 L1001.78,916.72 L1001.79,919.32 L1001.80,923.20 L1001.79,926.04 L1001.78,928.26 L1001.75,930.30 L1001.71,932.22 L1001.65,934.07 L1001.59,935.85 L1001.51,937.58 L1001.42,939.27 L1001.32,940.92 L1001.21,942.55 L1001.09,944.14 L1000.95,945.71 L1000.80,947.26 L1000.64,948.78 L1000.47,950.29 L1000.29,951.77 L1000.10,953.24 L999.89,954.70 L999.67,956.14 L999.44,957.56 L999.20,958.97 L998.95,960.37 L998.68,961.75 L998.40,963.12 L998.11,964.48 L997.81,965.83 L997.50,967.17 L997.17,968.50 L996.83,969.81 L996.48,971.12 L996.12,972.41 L995.75,973.70 L995.36,974.98 L994.97,976.24 L994.56,977.50 L994.13,978.75 L993.70,979.99 L993.26,981.22 L992.80,982.44 L992.33,983.65 L991.84,984.85 L991.35,986.05 L990.84,987.23 L990.32,988.41 L989.79,989.58 L989.25,990.74 L988.69,991.89 L988.13,993.04 L987.54,994.18 L986.95,995.30 L986.35,996.43 L985.73,997.54 L985.10,998.64 L984.46,999.74 L983.80,1000.83 L983.13,1001.91 L982.45,1002.98 L981.76,1004.04 L981.05,1005.10 L980.33,1006.15 L979.60,1007.19 L978.86,1008.22 L978.10,1009.25 L977.33,1010.27 L976.55,1011.28 L975.75,1012.28 L974.94,1013.27 L974.12,1014.26 L973.28,1015.23 L972.43,1016.20 L971.57,1017.17 L970.70,1018.12 L969.81,1019.07 L968.90,1020.00 L967.99,1020.93 L967.06,1021.86 L966.12,1022.77 L965.16,1023.68 L964.19,1024.58 L963.21,1025.47 L962.21,1026.35 L961.19,1027.22 L960.17,1028.09 L959.13,1028.95 L958.07,1029.80 L957.00,1030.64 L955.92,1031.47 L954.82,1032.30 L953.71,1033.12 L952.58,1033.92 L951.44,1034.73 L950.28,1035.52 L949.11,1036.30 L947.92,1037.08 L946.72,1037.85 L945.50,1038.61 L944.27,1039.36 L943.02,1040.10 L941.75,1040.84 L940.47,1041.56 L939.17,1042.28 L937.86,1042.99 L936.53,1043.69 L935.18,1044.39 L933.81,1045.07 L932.43,1045.75 L931.04,1046.41 L929.62,1047.07 L928.19,1047.72 L926.74,1048.36 L925.27,1049.00 L923.78,1049.62 L922.27,1050.24 L920.75,1050.84 L919.21,1051.44 L917.64,1052.03 L916.06,1052.61 L914.46,1053.19 L912.84,1053.75 L911.19,1054.30 L909.53,1054.85 L907.85,1055.39 L906.14,1055.92 L904.41,1056.44 L902.66,1056.95 L900.89,1057.45 L899.09,1057.94 L897.27,1058.43 L895.42,1058.90 L893.56,1059.37 L891.66,1059.82 L889.74,1060.27 L887.79,1060.71 L885.82,1061.14 L883.82,1061.56 L881.79,1061.98 L879.73,1062.38 L877.64,1062.77 L875.52,1063.16 L873.37,1063.53 L871.18,1063.90 L868.96,1064.26 L866.71,1064.61 L864.42,1064.95 L862.09,1065.28 L859.72,1065.60 L857.31,1065.91 L854.86,1066.21 L852.37,1066.51 L849.83,1066.79 L847.24,1067.07 L844.61,1067.33 L841.92,1067.59 L839.17,1067.84 L836.37,1068.07 L833.51,1068.30 L830.58,1068.52 L827.58,1068.73 L824.51,1068.93 L821.36,1069.13 L818.13,1069.31 L814.80,1069.48 L811.38,1069.65 L807.86,1069.80 L804.21,1069.95 L800.44,1070.08 L796.53,1070.21 L792.47,1070.32 L788.22,1070.43 L783.78,1070.53 L779.10,1070.62 L774.15,1070.70 L768.88,1070.77 L763.22,1070.83 L757.06,1070.88 L750.24,1070.92 L742.50,1070.96 L733.32,1070.98 L721.35,1071.00 L692.45,1071.00 L655.72,1070.99 L642.30,1070.98 L632.28,1070.95 L623.97,1070.92 L616.75,1070.87 L610.30,1070.81 L604.41,1070.74 L598.97,1070.67 L593.90,1070.58 L589.13,1070.48 L584.62,1070.37 L580.34,1070.25 L576.25,1070.12 L572.33,1069.97 L568.57,1069.82 L564.94,1069.66 L561.45,1069.49 L558.06,1069.31 L554.79,1069.11 L551.61,1068.91 L548.52,1068.70 L545.52,1068.47 L542.59,1068.24 L539.74,1067.99 L536.95,1067.74 L534.23,1067.47 L531.58,1067.20 L528.98,1066.91 L526.43,1066.62 L523.94,1066.31 L521.50,1065.99 L519.10,1065.67 L516.75,1065.33 L514.45,1064.98 L512.19,1064.63 L509.96,1064.26 L507.78,1063.88 L505.63,1063.49 L503.52,1063.10 L501.45,1062.69 L499.41,1062.27 L497.40,1061.85 L495.42,1061.41 L493.47,1060.96 L491.56,1060.51 L489.67,1060.04 L487.81,1059.56 L485.98,1059.08 L484.17,1058.58 L482.39,1058.07 L480.64,1057.56 L478.91,1057.03 L477.20,1056.50 L475.52,1055.96 L473.86,1055.40 L472.23,1054.84 L470.62,1054.27 L469.02,1053.68 L467.45,1053.09 L465.90,1052.49 L464.38,1051.88 L462.87,1051.26 L461.38,1050.63 L459.91,1049.99 L458.46,1049.34 L457.03,1048.69 L455.62,1048.02 L454.22,1047.35 L452.84,1046.66 L451.49,1045.97 L450.15,1045.27 L448.82,1044.55 L447.51,1043.83 L446.22,1043.10 L444.95,1042.37 L443.69,1041.62 L442.45,1040.86 L441.23,1040.10 L440.02,1039.33 L438.83,1038.55 L437.65,1037.76 L436.49,1036.96 L435.34,1036.15 L434.21,1035.34 L433.09,1034.51 L431.99,1033.68 L430.90,1032.84 L429.82,1031.99 L428.77,1031.13 L427.72,1030.27 L426.69,1029.39 L425.67,1028.51 L424.67,1027.62 L423.68,1026.73 L422.70,1025.82 L421.74,1024.91 L420.79,1023.99 L419.85,1023.06 L418.93,1022.12 L418.02,1021.18 L417.12,1020.23 L416.24,1019.27 L415.37,1018.30 L414.51,1017.33 L413.67,1016.35 L412.83,1015.36 L412.01,1014.36 L411.21,1013.36 L410.41,1012.34 L409.63,1011.33 L408.86,1010.30 L408.10,1009.27 L407.35,1008.23 L406.62,1007.18 L405.90,1006.13 L405.19,1005.07 L404.49,1004.00 L403.80,1002.93 L403.13,1001.85 L402.47,1000.76 L401.82,999.67 L401.18,998.57 L400.55,997.46 L399.93,996.35 L399.33,995.23 L398.74,994.10 L398.15,992.97 L397.58,991.83 L397.03,990.68 L396.48,989.53 L395.94,988.37 L395.42,987.21 L394.91,986.04 L394.40,984.86 L393.91,983.68 L393.43,982.49 L392.97,981.30 L392.51,980.10 L392.06,978.89 L391.63,977.68 L391.20,976.46 L390.79,975.24 L390.39,974.01 L390.00,972.77 L389.62,971.53 L389.25,970.28 L388.89,969.03 L388.54,967.77 L388.21,966.51 L387.88,965.24 L387.57,963.96 L387.26,962.68 L386.97,961.39 L386.69,960.09 L386.42,958.79 L386.16,957.49 L385.91,956.18 L385.67,954.86 L385.44,953.53 L385.22,952.20 L385.01,950.86 L384.82,949.52 L384.63,948.16 L384.46,946.80 L384.29,945.44 L384.14,944.06 L384.00,942.68 L383.86,941.29 L383.74,939.88 L383.63,938.47 L383.53,937.05 L383.44,935.61 L383.36,934.17 L383.29,932.70 L383.23,931.22 L383.18,929.72 L383.15,928.19 L383.12,926.62 L383.11,925.00Z" fill="none" stroke="#1a1a1a" stroke-width="1.5" />
<path d="M985.95,923.20 L985.94,928.88 L985.93,932.21 L985.90,935.00 L985.86,937.50 L985.81,939.79 L985.75,941.93 L985.68,943.96 L985.60,945.89 L985.50,947.74 L985.40,949.52 L985.28,951.24 L985.15,952.91 L985.02,954.53 L984.87,956.11 L984.71,957.65 L984.54,959.16 L984.35,960.63 L984.16,962.07 L983.96,963.49 L983.74,964.88 L983.51,966.24 L983.27,967.58 L983.03,968.90 L982.77,970.19 L982.49,971.47 L982.21,972.73 L981.92,973.97 L981.61,975.19 L981.30,976.39 L980.97,977.58 L980.63,978.75 L980.28,979.91 L979.92,981.06 L979.55,982.18 L979.16,983.30 L978.77,984.40 L978.36,985.49 L977.94,986.57 L977.51,987.63 L977.07,988.69 L976.62,989.73 L976.16,990.76 L975.68,991.77 L975.19,992.78 L974.70,993.78 L974.19,994.76 L973.67,995.74 L973.13,996.71 L972.59,997.66 L972.03,998.61 L971.46,999.54 L970.89,1000.47 L970.29,1001.39 L969.69,1002.29 L969.08,1003.19 L968.45,1004.08 L967.81,1004.96 L967.16,1005.83 L966.50,1006.70 L965.83,1007.55 L965.14,1008.40 L964.44,1009.23 L963.73,1010.06 L963.01,1010.88 L962.27,1011.70 L961.53,1012.50 L960.77,1013.30 L960.00,1014.08 L959.21,1014.86 L958.42,1015.64 L957.61,1016.40 L956.79,1017.16 L955.95,1017.90 L955.10,1018.65 L954.25,1019.38 L953.37,1020.10 L952.49,1020.82 L951.59,1021.53 L950.68,1022.23 L949.76,1022.93 L948.82,1023.62 L947.87,1024.30 L946.91,1024.97 L945.93,1025.64 L944.94,1026.29 L943.93,1026.95 L942.92,1027.59 L941.89,1028.23 L940.84,1028.85 L939.78,1029.48 L938.71,1030.09 L937.62,1030.70 L936.52,1031.30 L935.40,1031.89 L934.27,1032.48 L933.13,1033.06 L931.97,1033.63 L930.80,1034.19 L929.61,1034.75 L928.40,1035.30 L927.18,1035.85 L925.95,1036.38 L924.70,1036.91 L923.43,1037.44 L922.15,1037.95 L920.85,1038.46 L919.54,1038.96 L918.21,1039.46 L916.86,1039.94 L915.50,1040.43 L914.11,1040.90 L912.72,1041.37 L911.30,1041.83 L909.87,1042.28 L908.41,1042.73 L906.94,1043.17 L905.46,1043.60 L903.95,1044.03 L902.42,1044.44 L900.88,1044.86 L899.31,1045.26 L897.72,1045.66 L896.12,1046.05 L894.49,1046.44 L892.84,1046.81 L891.17,1047.18 L889.48,1047.55 L887.77,1047.91 L886.03,1048.26 L884.27,1048.60 L882.48,1048.94 L880.67,1049.27 L878.84,1049.59 L876.98,1049.91 L875.09,1050.22 L873.18,1050.52 L871.24,1050.81 L869.27,1051.10 L867.27,1051.39 L865.24,1051.66 L863.17,1051.93 L861.08,1052.19 L858.95,1052.45 L856.79,1052.69 L854.59,1052.94 L852.36,1053.17 L850.09,1053.40 L847.77,1053.62 L845.42,1053.83 L843.02,1054.04 L840.57,1054.24 L838.08,1054.44 L835.54,1054.62 L832.94,1054.80 L830.29,1054.98 L827.58,1055.14 L824.81,1055.30 L821.97,1055.45 L819.07,1055.60 L816.08,1055.74 L813.02,1055.87 L809.87,1056.00 L806.63,1056.12 L803.28,1056.23 L799.83,1056.34 L796.25,1056.43 L792.54,1056.53 L788.67,1056.61 L784.64,1056.69 L780.41,1056.76 L775.96,1056.82 L771.25,1056.88 L766.23,1056.93 L760.83,1056.98 L754.94,1057.02 L748.43,1057.05 L741.02,1057.07 L732.20,1057.09 L720.68,1057.10 L692.45,1057.10 L668.22,1057.10 L657.55,1057.09 L649.25,1057.07 L642.19,1057.05 L635.92,1057.02 L630.24,1056.98 L624.98,1056.94 L620.08,1056.89 L615.46,1056.83 L611.08,1056.77 L606.91,1056.70 L602.91,1056.63 L599.08,1056.54 L595.38,1056.46 L591.81,1056.36 L588.35,1056.26 L585.00,1056.15 L581.75,1056.03 L578.58,1055.91 L575.49,1055.78 L572.48,1055.65 L569.55,1055.51 L566.67,1055.36 L563.87,1055.20 L561.12,1055.04 L558.42,1054.88 L555.78,1054.70 L553.19,1054.52 L550.65,1054.33 L548.16,1054.14 L545.70,1053.94 L543.29,1053.73 L540.92,1053.52 L538.59,1053.30 L536.30,1053.07 L534.04,1052.83 L531.82,1052.59 L529.63,1052.35 L527.48,1052.09 L525.35,1051.83 L523.26,1051.57 L521.20,1051.29 L519.16,1051.01 L517.16,1050.73 L515.18,1050.43 L513.23,1050.13 L511.30,1049.83 L509.40,1049.51 L507.52,1049.19 L505.67,1048.87 L503.84,1048.53 L502.04,1048.19 L500.26,1047.85 L498.50,1047.49 L496.76,1047.13 L495.04,1046.77 L493.35,1046.39 L491.67,1046.01 L490.02,1045.63 L488.39,1045.23 L486.77,1044.83 L485.18,1044.43 L483.61,1044.01 L482.05,1043.59 L480.51,1043.17 L478.99,1042.73 L477.49,1042.29 L476.01,1041.84 L474.55,1041.39 L473.10,1040.93 L471.67,1040.46 L470.25,1039.99 L468.86,1039.51 L467.48,1039.02 L466.12,1038.52 L464.77,1038.02 L463.44,1037.51 L462.12,1037.00 L460.83,1036.48 L459.54,1035.95 L458.28,1035.41 L457.02,1034.87 L455.79,1034.32 L454.57,1033.76 L453.36,1033.20 L452.17,1032.63 L450.99,1032.05 L449.83,1031.46 L448.69,1030.87 L447.55,1030.27 L446.44,1029.67 L445.33,1029.05 L444.24,1028.43 L443.17,1027.80 L442.11,1027.17 L441.06,1026.53 L440.03,1025.88 L439.01,1025.22 L438.01,1024.55 L437.01,1023.88 L436.04,1023.20 L435.07,1022.52 L434.12,1021.82 L433.19,1021.12 L432.26,1020.41 L431.35,1019.69 L430.45,1018.97 L429.57,1018.24 L428.70,1017.50 L427.84,1016.75 L427.00,1015.99 L426.17,1015.23 L425.35,1014.46 L424.54,1013.67 L423.75,1012.89 L422.97,1012.09 L422.20,1011.28 L421.45,1010.47 L420.71,1009.65 L419.98,1008.82 L419.26,1007.98 L418.56,1007.13 L417.87,1006.27 L417.19,1005.41 L416.52,1004.53 L415.87,1003.65 L415.23,1002.76 L414.60,1001.85 L413.98,1000.94 L413.38,1000.02 L412.79,999.08 L412.21,998.14 L411.64,997.19 L411.09,996.23 L410.55,995.25 L410.02,994.27 L409.50,993.27 L408.99,992.26 L408.50,991.25 L408.02,990.21 L407.55,989.17 L407.09,988.12 L406.64,987.05 L406.21,985.97 L405.79,984.87 L405.38,983.77 L404.98,982.64 L404.60,981.51 L404.23,980.35 L403.86,979.18 L403.51,978.00 L403.18,976.80 L402.85,975.58 L402.54,974.34 L402.24,973.08 L401.95,971.81 L401.67,970.51 L401.40,969.19 L401.15,967.84 L400.91,966.48 L400.68,965.08 L400.46,963.66 L400.25,962.20 L400.06,960.72 L399.88,959.20 L399.71,957.64 L399.55,956.04 L399.40,954.39 L399.26,952.69 L399.14,950.94 L399.03,949.12 L398.93,947.23 L398.84,945.25 L398.76,943.16 L398.70,940.95 L398.64,938.57 L398.60,935.97 L398.57,933.03 L398.56,929.48 L398.55,923.20" fill="none" stroke="#1a1a1a" stroke-width="1.5" />
<path d="M458.20,925.30 L458.21,922.92 L458.22,921.21 L458.25,919.68 L458.28,918.25 L458.33,916.91 L458.38,915.62 L458.45,914.38 L458.53,913.17 L458.61,912.00 L458.71,910.86 L458.82,909.74 L458.93,908.64 L459.06,907.57 L459.20,906.51 L459.35,905.48 L459.51,904.45 L459.67,903.44 L459.85,902.45 L460.04,901.47 L460.24,900.50 L460.45,899.54 L460.67,898.60 L460.90,897.66 L461.14,896.74 L461.39,895.82 L461.65,894.92 L461.92,894.02 L462.20,893.13 L462.50,892.26 L462.80,891.39 L463.11,890.52 L463.43,889.67 L463.77,888.82 L464.11,887.98 L464.46,887.15 L464.83,886.33 L465.20,885.51 L465.58,884.70 L465.98,883.89 L466.39,883.10 L466.80,882.31 L467.23,881.52 L467.66,880.75 L468.11,879.98 L468.57,879.21 L469.04,878.45 L469.51,877.70 L470.00,876.95 L470.50,876.21 L471.01,875.48 L471.53,874.75 L472.06,874.03 L472.61,873.31 L473.16,872.60 L473.72,871.90 L474.30,871.20 L474.88,870.50 L475.47,869.82 L476.08,869.13 L476.70,868.46 L477.32,867.79 L477.96,867.12 L478.61,866.46 L479.27,865.81 L479.94,865.16 L480.62,864.51 L481.31,863.88 L482.01,863.24 L482.73,862.62 L483.45,861.99 L484.19,861.38 L484.94,860.77 L485.69,860.16 L486.46,859.56 L487.24,858.97 L488.03,858.38 L488.84,857.80 L489.65,857.22 L490.48,856.64 L491.31,856.08 L492.16,855.52 L493.02,854.96 L493.89,854.41 L494.77,853.86 L495.67,853.32 L496.57,852.79 L497.49,852.26 L498.42,851.73 L499.36,851.21 L500.31,850.70 L501.28,850.19 L502.26,849.69 L503.24,849.19 L504.25,848.70 L505.26,848.22 L506.28,847.74 L507.32,847.26 L508.37,846.79 L509.44,846.33 L510.51,845.87 L511.60,845.41 L512.70,844.97 L513.82,844.52 L514.94,844.09 L516.08,843.65 L517.24,843.23 L518.40,842.81 L519.59,842.39 L520.78,841.98 L521.99,841.58 L523.21,841.18 L524.45,840.79 L525.70,840.40 L526.96,840.02 L528.24,839.64 L529.53,839.27 L530.84,838.91 L532.17,838.55 L533.51,838.19 L534.86,837.84 L536.23,837.50 L537.62,837.16 L539.02,836.83 L540.44,836.51 L541.87,836.19 L543.33,835.87 L544.80,835.56 L546.28,835.26 L547.79,834.96 L549.31,834.67 L550.85,834.38 L552.41,834.10 L553.99,833.83 L555.59,833.56 L557.21,833.29 L558.85,833.04 L560.51,832.78 L562.20,832.54 L563.90,832.30 L565.63,832.06 L567.38,831.83 L569.16,831.61 L570.96,831.39 L572.78,831.18 L574.64,830.97 L576.51,830.77 L578.42,830.58 L580.36,830.39 L582.33,830.20 L584.33,830.03 L586.36,829.85 L588.42,829.69 L590.52,829.53 L592.66,829.37 L594.84,829.22 L597.06,829.08 L599.33,828.94 L601.64,828.81 L603.99,828.69 L606.40,828.57 L608.87,828.45 L611.40,828.35 L613.99,828.24 L616.64,828.15 L619.38,828.06 L622.19,827.97 L625.10,827.89 L628.11,827.82 L631.22,827.75 L634.47,827.69 L637.86,827.64 L641.41,827.59 L645.17,827.54 L649.16,827.51 L653.46,827.47 L658.14,827.45 L663.36,827.43 L669.41,827.41 L676.99,827.40 L692.60,827.40 L705.84,827.40 L712.76,827.41 L718.37,827.43 L723.28,827.45 L727.72,827.47 L731.82,827.50 L735.65,827.54 L739.28,827.58 L742.72,827.63 L746.02,827.68 L749.19,827.74 L752.24,827.81 L755.19,827.88 L758.06,827.95 L760.84,828.03 L763.54,828.12 L766.18,828.21 L768.75,828.31 L771.26,828.42 L773.72,828.52 L776.13,828.64 L778.49,828.76 L780.81,828.89 L783.08,829.02 L785.31,829.16 L787.50,829.30 L789.66,829.45 L791.78,829.60 L793.87,829.76 L795.92,829.93 L797.95,830.10 L799.94,830.28 L801.91,830.46 L803.85,830.65 L805.76,830.84 L807.64,831.04 L809.50,831.24 L811.34,831.45 L813.15,831.67 L814.94,831.89 L816.71,832.12 L818.45,832.35 L820.17,832.59 L821.88,832.83 L823.56,833.08 L825.22,833.33 L826.86,833.59 L828.49,833.86 L830.09,834.13 L831.68,834.41 L833.25,834.69 L834.80,834.97 L836.33,835.27 L837.85,835.57 L839.35,835.87 L840.83,836.18 L842.30,836.49 L843.75,836.81 L845.18,837.14 L846.60,837.47 L848.00,837.81 L849.39,838.15 L850.76,838.50 L852.12,838.85 L853.46,839.21 L854.79,839.57 L856.10,839.94 L857.40,840.32 L858.69,840.70 L859.96,841.08 L861.22,841.47 L862.46,841.87 L863.69,842.27 L864.91,842.68 L866.11,843.09 L867.30,843.51 L868.47,843.93 L869.64,844.36 L870.79,844.80 L871.92,845.24 L873.05,845.68 L874.16,846.13 L875.26,846.59 L876.34,847.05 L877.41,847.52 L878.47,847.99 L879.52,848.47 L880.56,848.95 L881.58,849.44 L882.59,849.93 L883.59,850.43 L884.58,850.94 L885.55,851.45 L886.51,851.96 L887.47,852.48 L888.40,853.01 L889.33,853.54 L890.24,854.08 L891.15,854.62 L892.04,855.17 L892.92,855.72 L893.78,856.28 L894.64,856.84 L895.48,857.41 L896.32,857.99 L897.14,858.57 L897.95,859.15 L898.75,859.74 L899.53,860.34 L900.31,860.94 L901.07,861.55 L901.82,862.17 L902.56,862.79 L903.29,863.41 L904.01,864.04 L904.72,864.68 L905.41,865.32 L906.10,865.97 L906.77,866.62 L907.43,867.28 L908.08,867.94 L908.72,868.61 L909.35,869.29 L909.97,869.97 L910.57,870.66 L911.17,871.36 L911.75,872.06 L912.32,872.76 L912.88,873.47 L913.43,874.19 L913.97,874.92 L914.50,875.65 L915.02,876.39 L915.52,877.13 L916.02,877.88 L916.50,878.64 L916.98,879.40 L917.44,880.17 L917.89,880.95 L918.33,881.74 L918.76,882.53 L919.18,883.33 L919.58,884.13 L919.98,884.95 L920.36,885.77 L920.74,886.60 L921.10,887.44 L921.45,888.28 L921.80,889.14 L922.13,890.00 L922.45,890.87 L922.76,891.75 L923.05,892.65 L923.34,893.55 L923.62,894.46 L923.88,895.38 L924.14,896.31 L924.38,897.26 L924.61,898.21 L924.84,899.18 L925.05,900.16 L925.25,901.16 L925.44,902.17 L925.61,903.20 L925.78,904.24 L925.94,905.31 L926.09,906.39 L926.22,907.49 L926.35,908.62 L926.46,909.78 L926.56,910.96 L926.65,912.18 L926.73,913.43 L926.81,914.74 L926.86,916.09 L926.91,917.52 L926.95,919.04 L926.98,920.69 L926.99,922.57 L927.00,925.30 L927.00,927.37 L926.98,928.94 L926.96,930.36 L926.92,931.71 L926.88,932.98 L926.83,934.22 L926.76,935.41 L926.69,936.57 L926.61,937.71 L926.52,938.82 L926.42,939.91 L926.31,940.98 L926.18,942.04 L926.05,943.08 L925.91,944.10 L925.76,945.11 L925.60,946.11 L925.44,947.10 L925.26,948.07 L925.07,949.04 L924.87,949.99 L924.66,950.93 L924.44,951.87 L924.22,952.79 L923.98,953.71 L923.73,954.62 L923.48,955.52 L923.21,956.41 L922.93,957.30 L922.65,958.18 L922.35,959.05 L922.05,959.91 L921.73,960.77 L921.41,961.62 L921.07,962.46 L920.73,963.30 L920.37,964.13 L920.01,964.95 L919.63,965.77 L919.25,966.58 L918.86,967.38 L918.45,968.18 L918.04,968.97 L917.61,969.76 L917.18,970.54 L916.74,971.32 L916.28,972.09 L915.82,972.85 L915.34,973.61 L914.86,974.36 L914.37,975.11 L913.86,975.85 L913.35,976.58 L912.82,977.31 L912.29,978.04 L911.75,978.76 L911.19,979.47 L910.63,980.18 L910.05,980.88 L909.47,981.58 L908.87,982.27 L908.26,982.96 L907.65,983.64 L907.02,984.31 L906.38,984.98 L905.74,985.65 L905.08,986.31 L904.41,986.96 L903.73,987.61 L903.04,988.25 L902.34,988.89 L901.63,989.52 L900.91,990.15 L900.17,990.77 L899.43,991.39 L898.68,992.00 L897.91,992.60 L897.14,993.20 L896.35,993.80 L895.55,994.39 L894.74,994.97 L893.92,995.55 L893.09,996.12 L892.25,996.69 L891.40,997.25 L890.53,997.81 L889.65,998.36 L888.77,998.91 L887.87,999.45 L886.96,999.98 L886.03,1000.51 L885.10,1001.03 L884.15,1001.55 L883.19,1002.06 L882.22,1002.57 L881.24,1003.07 L880.25,1003.57 L879.24,1004.06 L878.22,1004.54 L877.19,1005.02 L876.15,1005.50 L875.09,1005.97 L874.02,1006.43 L872.94,1006.88 L871.84,1007.34 L870.73,1007.78 L869.61,1008.22 L868.48,1008.66 L867.33,1009.08 L866.17,1009.51 L864.99,1009.92 L863.80,1010.34 L862.60,1010.74 L861.38,1011.14 L860.14,1011.54 L858.90,1011.92 L857.63,1012.31 L856.36,1012.68 L855.06,1013.06 L853.75,1013.42 L852.43,1013.78 L851.09,1014.13 L849.73,1014.48 L848.36,1014.82 L846.97,1015.16 L845.56,1015.49 L844.14,1015.81 L842.69,1016.13 L841.23,1016.45 L839.75,1016.75 L838.25,1017.05 L836.74,1017.35 L835.20,1017.64 L833.64,1017.92 L832.07,1018.20 L830.47,1018.47 L828.85,1018.73 L827.20,1018.99 L825.54,1019.25 L823.85,1019.49 L822.14,1019.73 L820.40,1019.97 L818.63,1020.20 L816.84,1020.42 L815.03,1020.64 L813.18,1020.85 L811.30,1021.06 L809.40,1021.25 L807.46,1021.45 L805.49,1021.63 L803.49,1021.82 L801.45,1021.99 L799.37,1022.16 L797.25,1022.32 L795.09,1022.48 L792.89,1022.63 L790.64,1022.77 L788.34,1022.91 L785.99,1023.04 L783.58,1023.17 L781.12,1023.29 L778.59,1023.40 L776.00,1023.51 L773.33,1023.61 L770.58,1023.71 L767.74,1023.80 L764.80,1023.88 L761.75,1023.96 L758.59,1024.03 L755.28,1024.09 L751.82,1024.15 L748.17,1024.20 L744.31,1024.25 L740.18,1024.29 L735.72,1024.32 L730.82,1024.35 L725.32,1024.37 L718.88,1024.39 L710.67,1024.40 L692.60,1024.40 L673.27,1024.40 L664.76,1024.39 L658.14,1024.37 L652.51,1024.35 L647.52,1024.32 L642.98,1024.28 L638.79,1024.24 L634.88,1024.19 L631.20,1024.13 L627.70,1024.06 L624.38,1023.99 L621.19,1023.92 L618.13,1023.83 L615.18,1023.74 L612.33,1023.65 L609.58,1023.54 L606.90,1023.43 L604.31,1023.31 L601.78,1023.19 L599.32,1023.06 L596.92,1022.92 L594.58,1022.78 L592.29,1022.63 L590.05,1022.47 L587.85,1022.31 L585.71,1022.14 L583.60,1021.96 L581.54,1021.78 L579.51,1021.59 L577.52,1021.39 L575.56,1021.19 L573.64,1020.98 L571.75,1020.76 L569.89,1020.54 L568.06,1020.31 L566.26,1020.08 L564.49,1019.83 L562.75,1019.59 L561.03,1019.33 L559.33,1019.07 L557.66,1018.80 L556.02,1018.53 L554.40,1018.25 L552.79,1017.96 L551.22,1017.67 L549.66,1017.37 L548.12,1017.06 L546.61,1016.75 L545.11,1016.43 L543.63,1016.10 L542.18,1015.77 L540.74,1015.43 L539.32,1015.09 L537.91,1014.74 L536.53,1014.38 L535.16,1014.02 L533.81,1013.65 L532.47,1013.27 L531.15,1012.89 L529.85,1012.51 L528.56,1012.11 L527.29,1011.71 L526.04,1011.31 L524.80,1010.89 L523.57,1010.48 L522.36,1010.05 L521.16,1009.62 L519.98,1009.19 L518.81,1008.75 L517.66,1008.30 L516.51,1007.84 L515.39,1007.38 L514.27,1006.92 L513.17,1006.45 L512.09,1005.97 L511.01,1005.49 L509.95,1005.00 L508.90,1004.50 L507.87,1004.00 L506.85,1003.50 L505.83,1002.98 L504.84,1002.47 L503.85,1001.94 L502.88,1001.42 L501.91,1000.88 L500.96,1000.34 L500.03,999.80 L499.10,999.24 L498.19,998.69 L497.28,998.13 L496.39,997.56 L495.51,996.98 L494.64,996.41 L493.79,995.82 L492.94,995.23 L492.11,994.64 L491.28,994.04 L490.47,993.43 L489.67,992.82 L488.88,992.21 L488.10,991.59 L487.33,990.96 L486.57,990.33 L485.82,989.69 L485.09,989.05 L484.36,988.40 L483.65,987.75 L482.94,987.09 L482.25,986.43 L481.56,985.76 L480.89,985.09 L480.23,984.41 L479.57,983.73 L478.93,983.04 L478.30,982.35 L477.68,981.65 L477.06,980.95 L476.46,980.25 L475.87,979.53 L475.29,978.82 L474.72,978.10 L474.16,977.37 L473.61,976.64 L473.07,975.90 L472.53,975.16 L472.01,974.42 L471.50,973.67 L471.00,972.91 L470.51,972.15 L470.03,971.39 L469.56,970.62 L469.09,969.84 L468.64,969.07 L468.20,968.28 L467.77,967.50 L467.34,966.70 L466.93,965.91 L466.53,965.10 L466.13,964.30 L465.75,963.49 L465.38,962.67 L465.01,961.85 L464.66,961.02 L464.31,960.19 L463.97,959.36 L463.65,958.52 L463.33,957.67 L463.02,956.82 L462.73,955.97 L462.44,955.11 L462.16,954.24 L461.89,953.37 L461.63,952.49 L461.38,951.61 L461.14,950.73 L460.91,949.83 L460.69,948.93 L460.48,948.03 L460.27,947.12 L460.08,946.20 L459.90,945.28 L459.72,944.35 L459.56,943.41 L459.40,942.47 L459.26,941.52 L459.12,940.56 L458.99,939.59 L458.88,938.61 L458.77,937.63 L458.67,936.63 L458.58,935.62 L458.50,934.59 L458.43,933.55 L458.37,932.50 L458.32,931.42 L458.28,930.32 L458.24,929.19 L458.22,928.01 L458.20,926.76Z" fill="none" stroke="#1a1a1a" stroke-width="1.5" />
<rect x="671.3" y="908.7" width="42.6" height="34.3" rx="6" fill="none" stroke="#000" stroke-width="8" />
<polygon points="680.5,911.2 704.5,911.2 708.6,918 708.6,934 704.5,940.8 680.5,940.8 676.4,934 676.4,918" fill="#fff" stroke="#fff" stroke-width="0.1" />
<circle cx="692.5" cy="926.4" r="9.1" fill="none" stroke="#000" stroke-width="2.6"/>
<line x1="684.5" y1="926.4" x2="700.7" y2="926.4" stroke="#000" stroke-width="1" />
<line x1="692.5" y1="918.5" x2="692.5" y2="954" stroke="#555" stroke-width="1.5" />
<path d="M677.5,1054.2 L692.8,1045.5 L708.2,1054.2 Q708,1060.5 692.8,1061.2 Q677.5,1060.5 677.5,1054.2 Z" fill="none" stroke="#000" stroke-width="1.8" />
<path d="M679,1055 Q692.8,1051 706.5,1055 Q705,1060.5 692.8,1061 Q680,1060.5 679,1055 Z" fill="#000" stroke="#000" stroke-width="1" />
<line x1="692.8" y1="1044" x2="692.8" y2="1064" stroke="#000" stroke-width="1.8" />
<circle cx="423.5" cy="832.5" r="24.9" fill="#fff" stroke="#fff" stroke-width="1"/>
<circle cx="423.5" cy="832.5" r="22.7" fill="none" stroke="#000" stroke-width="4.2"/>
<circle cx="423.5" cy="832.5" r="18.5" fill="none" stroke="#000" stroke-width="2.2"/>
<circle cx="411.1" cy="833.2" r="3.6" fill="none" stroke="#000" stroke-width="2.2"/>
<circle cx="435.3" cy="832.5" r="3.6" fill="none" stroke="#000" stroke-width="2.2"/>
<circle cx="423.5" cy="832.5" r="5.5" fill="#000" stroke="#000" stroke-width="1"/>
<line x1="414.7" y1="833" x2="432" y2="832.6" stroke="#000" stroke-width="3" />
<rect x="419.8" y="836" width="7.4" height="27.4" fill="none" stroke="#000" stroke-width="2.2" />
<rect x="420" y="836" width="7" height="12" fill="#000"/>
<line x1="419.8" y1="855" x2="427.2" y2="855" stroke="#000" stroke-width="2" />
<line x1="404" y1="850" x2="437" y2="815" stroke="#000" stroke-width="1.2" />
<ellipse cx="424" cy="876.7" rx="3.6" ry="5" fill="none" stroke="#000" stroke-width="2.2"/>
<path d="M391.8,979 L391.8,890 Q391.8,885 397,885 L430,885 Q435.3,885 435.3,890 L435.3,979" fill="none" stroke="#000" stroke-width="2.4" />
<rect x="396.6" y="894" width="32.5" height="45" fill="none" stroke="#000" stroke-width="2.4" />
<line x1="413.2" y1="882.3" x2="413.2" y2="993.6" stroke="#000" stroke-width="2.4" />
<rect x="385.5" y="950.7" width="53.9" height="25" fill="none" stroke="#000" stroke-width="2.4" />
<line x1="391" y1="939" x2="391" y2="975" stroke="#000" stroke-width="1.6" />
<line x1="401" y1="939" x2="401" y2="975" stroke="#000" stroke-width="1.6" />
<line x1="425" y1="939" x2="425" y2="975" stroke="#000" stroke-width="1.6" />
<line x1="433" y1="939" x2="433" y2="975" stroke="#000" stroke-width="1.6" />
<rect x="384.1" y="975.6" width="56.7" height="4.2" fill="#000"/>
<rect x="400" y="979.7" width="25" height="13.2" fill="none" stroke="#000" stroke-width="2.2" />
<circle cx="414.6" cy="963.1" r="13" fill="none" stroke="#000" stroke-width="2.2"/>
<path d="M418,946 q5,-2 6,3 q-6,3 -4,8 q4,2 6,-1" fill="none" stroke="#000" stroke-width="2" />
<path d="M408,972 q10,8 22,-4" fill="none" stroke="#000" stroke-width="1.6" />
<ellipse cx="434.6" cy="896.8" rx="3.2" ry="6" fill="#000" stroke="#000" stroke-width="1"/>
<ellipse cx="434.6" cy="950.3" rx="3.2" ry="6" fill="#000" stroke="#000" stroke-width="1"/>
<line x1="433.5" y1="900" x2="433.5" y2="948" stroke="#000" stroke-width="2.2" />
<ellipse cx="419.4" cy="894.3" rx="3.6" ry="4.6" fill="none" stroke="#000" stroke-width="2.4"/>
<line x1="399.5" y1="905" x2="400.5" y2="965" stroke="#000" stroke-width="1.2" />
<ellipse cx="448.6" cy="903.2" rx="3" ry="8.2" fill="#000" stroke="#000" stroke-width="1"/>
<line x1="452.8" y1="896.7" x2="452.8" y2="909.7" stroke="#000" stroke-width="2.6" />
<ellipse cx="448.6" cy="945.2" rx="3" ry="8.2" fill="#000" stroke="#000" stroke-width="1"/>
<line x1="452.8" y1="938.7" x2="452.8" y2="951.7" stroke="#000" stroke-width="2.6" />
<rect x="391.8" y="1016.7" width="85.6" height="27.4" fill="none" stroke="#000" stroke-width="2.4" />
<line x1="391.8" y1="1039.2" x2="477.4" y2="1039.2" stroke="#000" stroke-width="2.2" />
<polyline points="412.5,1020.5 425,1028 427,1033 437.5,1022.5 456.5,1031.5" fill="none" stroke="#000" stroke-width="2.6" />
<rect x="750.2" y="658" width="17.3" height="34.6" fill="none" stroke="#000" stroke-width="2.5" />
<text x="780" y="688.2" style="font-family:&quot;Liberation Sans&quot;" font-size="27.5" fill="#000" textLength="212" lengthAdjust="spacing">Fernbedienung</text>
<line x1="1428.2" y1="228.05" x2="1750.2" y2="228.05" stroke="#000" stroke-width="2.6" />
<polyline points="1428.55,228.05 1428.55,233.35 1436.95,233.35" fill="none" stroke="#000" stroke-width="2.4" />
<polyline points="1740.45,233.65 1749.75,233.65 1749.75,228.05" fill="none" stroke="#000" stroke-width="2.4" />
<path d="M1429.05,228.30 L1430.15,228.44 L1431.18,228.66 L1432.16,228.96 L1433.08,229.34 L1433.94,229.78 L1434.75,230.28 L1435.52,230.84 L1436.24,231.46 L1436.92,232.12 L1437.56,232.83 L1438.16,233.58 L1438.73,234.36 L1439.27,235.17 L1439.78,236.01 L1440.27,236.88 L1440.73,237.77 L1441.18,238.68 L1441.60,239.61 L1442.00,240.55 L1442.39,241.51 L1442.76,242.49 L1443.12,243.47 L1443.48,244.46 L1443.82,245.45 L1444.16,246.45 L1444.49,247.45 L1444.82,248.45 L1445.15,249.44 L1445.47,250.43 L1445.80,251.41 L1446.14,252.39 L1446.47,253.37 L1446.80,254.34 L1447.14,255.30 L1447.47,256.27 L1447.81,257.22 L1448.15,258.18 L1448.50,259.13 L1448.84,260.08 L1449.19,261.02 L1449.55,261.96 L1449.90,262.90 L1450.26,263.84 L1450.63,264.77 L1451.00,265.70 L1451.37,266.63 L1451.75,267.56 L1452.13,268.48 L1452.51,269.41 L1452.91,270.33 L1453.30,271.25 L1453.71,272.16 L1454.11,273.08 L1454.53,274.00 L1454.95,274.91 L1455.38,275.82 L1455.81,276.74 L1456.26,277.65 L1456.71,278.56 L1457.16,279.48 L1457.63,280.39 L1458.10,281.30 L1458.58,282.21 L1459.07,283.11 L1459.58,284.01 L1460.09,284.91 L1460.62,285.79 L1461.17,286.67 L1461.72,287.53 L1462.30,288.38 L1462.89,289.22 L1463.50,290.04 L1464.13,290.85 L1464.78,291.63 L1465.45,292.40 L1466.14,293.14 L1466.86,293.87 L1467.59,294.56 L1468.34,295.24 L1469.11,295.89 L1469.89,296.51 L1470.70,297.11 L1471.52,297.67 L1472.36,298.21 L1473.22,298.72 L1474.10,299.20 L1474.99,299.64 L1475.90,300.05 L1476.82,300.44 L1477.75,300.79 L1478.70,301.12 L1479.66,301.42 L1480.63,301.70 L1481.61,301.95 L1482.59,302.19 L1483.59,302.41 L1484.59,302.61 L1485.60,302.80 L1486.61,302.97 L1487.62,303.13 L1488.64,303.28 L1489.65,303.42 L1490.67,303.56 L1491.69,303.69 L1492.71,303.81 L1493.72,303.93 L1494.74,304.04 L1495.76,304.15 L1496.77,304.25 L1497.79,304.34 L1498.81,304.43 L1499.82,304.52 L1500.84,304.60 L1501.85,304.67 L1502.87,304.74 L1503.89,304.81 L1504.90,304.87 L1505.92,304.93 L1506.93,304.98 L1507.95,305.03 L1508.96,305.08 L1509.98,305.12 L1510.99,305.16 L1512.01,305.20 L1513.02,305.23 L1514.04,305.26 L1515.05,305.29 L1516.07,305.31 L1517.08,305.33 L1518.10,305.35 L1519.11,305.37 L1520.13,305.38 L1521.14,305.40 L1522.15,305.41 L1523.17,305.42 L1524.18,305.42 L1525.20,305.43 L1526.21,305.43 L1527.23,305.44 L1528.24,305.44 L1529.25,305.44 L1530.27,305.45 L1531.28,305.45 L1532.30,305.45 L1533.31,305.45 L1534.32,305.45 L1535.34,305.45 L1536.35,305.45 L1537.36,305.45 L1538.38,305.45 L1539.39,305.45 L1540.41,305.46 L1541.42,305.46 L1542.43,305.47 L1543.45,305.47 L1544.46,305.48 L1545.48,305.48 L1546.49,305.49 L1547.50,305.50 L1548.52,305.51 L1549.53,305.52 L1550.55,305.53 L1551.56,305.54 L1552.57,305.55 L1553.59,305.56 L1554.60,305.57 L1555.62,305.58 L1556.63,305.60 L1557.64,305.61 L1558.66,305.62 L1559.67,305.64 L1560.69,305.65 L1561.70,305.67 L1562.71,305.68 L1563.73,305.70 L1564.74,305.71 L1565.76,305.73 L1566.77,305.74 L1567.78,305.76 L1568.80,305.78 L1569.81,305.79 L1570.83,305.81 L1571.84,305.83 L1572.85,305.84 L1573.87,305.86 L1574.88,305.88 L1575.90,305.89 L1576.91,305.91 L1577.92,305.93 L1578.94,305.94 L1579.95,305.96 L1580.97,305.98 L1581.98,305.99 L1583.00,306.01 L1584.01,306.03 L1585.02,306.04 L1586.04,306.06 L1587.05,306.08 L1588.07,306.09 L1589.08,306.11 L1590.10,306.12 L1591.11,306.14 L1592.12,306.15 L1593.14,306.16 L1594.15,306.18 L1595.17,306.19 L1596.18,306.20 L1597.20,306.21 L1598.21,306.23 L1599.22,306.24 L1600.24,306.25 L1601.25,306.26 L1602.27,306.27 L1603.28,306.28 L1604.30,306.28 L1605.31,306.29 L1606.32,306.30 L1607.34,306.31 L1608.35,306.31 L1609.37,306.32 L1610.38,306.32 L1611.40,306.32 L1612.41,306.33 L1613.43,306.33 L1614.44,306.33 L1615.45,306.33 L1616.47,306.33 L1617.48,306.33 L1618.50,306.32 L1619.51,306.32 L1620.53,306.32 L1621.54,306.31 L1622.56,306.30 L1623.57,306.30 L1624.59,306.29 L1625.60,306.28 L1626.61,306.27 L1627.63,306.26 L1628.64,306.24 L1629.66,306.23 L1630.67,306.21 L1631.69,306.20 L1632.70,306.18 L1633.72,306.16 L1634.73,306.14 L1635.75,306.12 L1636.76,306.09 L1637.78,306.07 L1638.79,306.04 L1639.81,306.01 L1640.82,305.99 L1641.84,305.96 L1642.85,305.92 L1643.87,305.89 L1644.88,305.86 L1645.90,305.82 L1646.91,305.78 L1647.92,305.74 L1648.94,305.70 L1649.95,305.66 L1650.97,305.61 L1651.98,305.57 L1653.00,305.52 L1654.01,305.47 L1655.03,305.42 L1656.04,305.37 L1657.06,305.31 L1658.07,305.26 L1659.09,305.20 L1660.10,305.14 L1661.12,305.08 L1662.13,305.01 L1663.15,304.95 L1664.16,304.88 L1665.18,304.81 L1666.20,304.74 L1667.21,304.66 L1668.23,304.59 L1669.24,304.51 L1670.26,304.43 L1671.27,304.35 L1672.29,304.26 L1673.30,304.18 L1674.32,304.09 L1675.33,304.00 L1676.35,303.91 L1677.36,303.81 L1678.38,303.71 L1679.39,303.61 L1680.41,303.51 L1681.42,303.41 L1682.44,303.30 L1683.45,303.19 L1684.47,303.08 L1685.49,302.97 L1686.50,302.85 L1687.52,302.73 L1688.53,302.61 L1689.55,302.49 L1690.56,302.36 L1691.58,302.23 L1692.59,302.09 L1693.60,301.94 L1694.60,301.79 L1695.60,301.62 L1696.59,301.43 L1697.58,301.23 L1698.55,301.01 L1699.51,300.77 L1700.47,300.50 L1701.41,300.21 L1702.34,299.90 L1703.25,299.55 L1704.15,299.18 L1705.02,298.77 L1705.89,298.32 L1706.73,297.84 L1707.55,297.32 L1708.35,296.75 L1709.13,296.15 L1709.89,295.50 L1710.62,294.82 L1711.34,294.10 L1712.04,293.35 L1712.71,292.58 L1713.37,291.77 L1714.01,290.94 L1714.63,290.09 L1715.24,289.23 L1715.83,288.34 L1716.41,287.44 L1716.97,286.54 L1717.51,285.62 L1718.05,284.70 L1718.57,283.77 L1719.07,282.85 L1719.57,281.92 L1720.05,281.00 L1720.53,280.08 L1720.99,279.16 L1721.45,278.24 L1721.89,277.33 L1722.33,276.41 L1722.76,275.50 L1723.19,274.58 L1723.60,273.67 L1724.01,272.76 L1724.42,271.84 L1724.82,270.93 L1725.22,270.01 L1725.61,269.10 L1726.00,268.18 L1726.39,267.27 L1726.78,266.35 L1727.16,265.43 L1727.54,264.51 L1727.93,263.59 L1728.31,262.67 L1728.69,261.74 L1729.07,260.81 L1729.45,259.88 L1729.83,258.95 L1730.20,258.01 L1730.58,257.07 L1730.95,256.13 L1731.32,255.19 L1731.69,254.24 L1732.05,253.28 L1732.42,252.32 L1732.78,251.36 L1733.13,250.39 L1733.49,249.42 L1733.84,248.45 L1734.19,247.46 L1734.53,246.48 L1734.88,245.48 L1735.22,244.49 L1735.56,243.49 L1735.91,242.50 L1736.27,241.52 L1736.64,240.55 L1737.02,239.59 L1737.43,238.65 L1737.85,237.73 L1738.30,236.83 L1738.77,235.96 L1739.27,235.12 L1739.81,234.32 L1740.38,233.55 L1740.99,232.82 L1741.64,232.13 L1742.34,231.50 L1743.08,230.91 L1743.87,230.38 L1744.72,229.90 L1745.63,229.48 L1746.59,229.13 L1747.62,228.84 L1748.71,228.62" fill="none" stroke="#000" stroke-width="3.5" />
<polyline points="1503.2,305.5 1503.2,308.75 1568.45,308.75 1568.45,306" fill="none" stroke="#000" stroke-width="2.2" />
<polyline points="1609.2,306 1609.2,309 1675.1,308.5 1675.1,304.75" fill="none" stroke="#000" stroke-width="2.2" />
<line x1="1504.45" y1="307.15" x2="1567.45" y2="307.4" stroke="#000" stroke-width="2" stroke-dasharray="9 3"/>
<line x1="1610.45" y1="307.55" x2="1673.95" y2="306.85" stroke="#000" stroke-width="2" stroke-dasharray="9 3"/>
<polyline points="1576.95,306.5 1576.95,309.25 1578.95,311 1584.45,311.25 1586.45,313.75 1597.45,313.75 1597.45,311.25 1600.45,311 1602.3,309.25 1602.3,306.5" fill="none" stroke="#000" stroke-width="2.4" />
<polygon points="1586.45,311.5 1596.95,311.5 1596.95,314.25 1586.45,314.25" fill="#000"/>
<line x1="1531.85" y1="308.75" x2="1531.85" y2="317.25" stroke="#000" stroke-width="2.4" />
<line x1="1540.4" y1="308.75" x2="1540.4" y2="317.25" stroke="#000" stroke-width="2.4" />
<line x1="1534.62" y1="308.75" x2="1534.62" y2="317.25" stroke="#000" stroke-width="1.2" />
<line x1="1654.6" y1="308.75" x2="1654.6" y2="317.25" stroke="#000" stroke-width="2.4" />
<line x1="1662.15" y1="308.75" x2="1662.15" y2="317.25" stroke="#000" stroke-width="2.4" />
<line x1="1656.88" y1="308.75" x2="1656.88" y2="317.25" stroke="#000" stroke-width="1.2" />
<polygon points="1454.45,317.35 1731.95,317.35 1731.95,321.15 1454.45,321.15" fill="none" stroke="#000" stroke-width="2.5" />
<polygon points="1462.1,321.25 1471.6,321.25 1471.6,323.35 1462.1,323.35" fill="#000"/>
<line x1="1464.55" y1="323.25" x2="1464.55" y2="337" stroke="#000" stroke-width="2.2" />
<line x1="1469.15" y1="323.25" x2="1469.15" y2="337" stroke="#000" stroke-width="2.2" />
<line x1="1466.85" y1="321.25" x2="1466.85" y2="339.25" stroke="#000" stroke-width="2" />
<polyline points="1463.1,338.65 1463.1,336.55 1470.6,336.55 1470.6,338.65" fill="none" stroke="#000" stroke-width="2.2" />
<polygon points="1531.4,321.25 1540.9,321.25 1540.9,323.35 1531.4,323.35" fill="#000"/>
<line x1="1533.85" y1="323.25" x2="1533.85" y2="337" stroke="#000" stroke-width="2.2" />
<line x1="1538.45" y1="323.25" x2="1538.45" y2="337" stroke="#000" stroke-width="2.2" />
<line x1="1536.15" y1="321.25" x2="1536.15" y2="339.25" stroke="#000" stroke-width="2" />
<polyline points="1532.4,338.65 1532.4,336.55 1539.9,336.55 1539.9,338.65" fill="none" stroke="#000" stroke-width="2.2" />
<polygon points="1653.7,321.25 1663.2,321.25 1663.2,323.35 1653.7,323.35" fill="#000"/>
<line x1="1656.15" y1="323.25" x2="1656.15" y2="337" stroke="#000" stroke-width="2.2" />
<line x1="1660.75" y1="323.25" x2="1660.75" y2="337" stroke="#000" stroke-width="2.2" />
<line x1="1658.45" y1="321.25" x2="1658.45" y2="339.25" stroke="#000" stroke-width="2" />
<polyline points="1654.7,338.65 1654.7,336.55 1662.2,336.55 1662.2,338.65" fill="none" stroke="#000" stroke-width="2.2" />
<polygon points="1711.35,321.25 1720.85,321.25 1720.85,323.35 1711.35,323.35" fill="#000"/>
<line x1="1713.8" y1="323.25" x2="1713.8" y2="337" stroke="#000" stroke-width="2.2" />
<line x1="1718.4" y1="323.25" x2="1718.4" y2="337" stroke="#000" stroke-width="2.2" />
<line x1="1716.1" y1="321.25" x2="1716.1" y2="339.25" stroke="#000" stroke-width="2" />
<polyline points="1712.35,338.65 1712.35,336.55 1719.85,336.55 1719.85,338.65" fill="none" stroke="#000" stroke-width="2.2" />
<polygon points="1564.7,313 1597.45,313 1597.45,337.1 1564.7,337.1" fill="none" stroke="#000" stroke-width="2.4" />
<polygon points="1558.85,323.75 1563.75,323.75 1563.75,333.05 1558.85,333.05" fill="none" stroke="#000" stroke-width="2.4" />
<polygon points="1597.45,322.55 1602.55,322.55 1602.55,331.1 1597.45,331.1" fill="none" stroke="#000" stroke-width="2.4" />
<path d="M1565.45,331.75 C1566.03,331.58 1568.2,331.5 1568.95,330.75 C1569.7,330 1569.53,328.33 1569.95,327.25 C1570.37,326.17 1570.87,324.58 1571.45,324.25 C1572.03,323.92 1572.95,324.33 1573.45,325.25 C1573.95,326.17 1574.03,328.08 1574.45,329.75 C1574.87,331.42 1575.12,334.12 1575.95,335.25 C1576.78,336.38 1577.2,336.29 1579.45,336.5 C1581.7,336.71 1586.62,336.62 1589.45,336.5 C1592.28,336.38 1595.28,335.88 1596.45,335.75" fill="none" stroke="#000" stroke-width="2" />
<polyline points="1565.45,322.25 1577.45,322.25 1579.95,319.75 1584.45,317.25 1595.45,317.25" fill="none" stroke="#000" stroke-width="2" />
<polyline points="1597.45,322.55 1584.2,322.55" fill="none" stroke="#000" stroke-width="2" />
<path d="M1584.2,322.55 C1583.93,322.83 1582.88,323.6 1582.55,324.25 C1582.23,324.9 1582.25,325.72 1582.25,326.45 C1582.25,327.18 1582.23,328 1582.55,328.65 C1582.88,329.3 1583.93,330.07 1584.2,330.35" fill="none" stroke="#000" stroke-width="2" />
<polyline points="1584.2,330.35 1594.95,330.35" fill="none" stroke="#000" stroke-width="2" />
<line x1="1595.45" y1="313.75" x2="1595.45" y2="336.75" stroke="#000" stroke-width="1.6" />
<polygon points="1434.05,264.7 1473.45,264.7 1473.45,292.7 1434.05,292.7" fill="none" stroke="#000" stroke-width="2.4" />
<line x1="1463.45" y1="264.75" x2="1463.45" y2="292.75" stroke="#000" stroke-width="2.2" />
<polyline points="1436.2,292.75 1436.2,317 1473.45,317" fill="none" stroke="#000" stroke-width="2.4" />
<line x1="1438.2" y1="292.75" x2="1438.2" y2="315.75" stroke="#000" stroke-width="2" />
<line x1="1444.45" y1="292.75" x2="1444.45" y2="315.75" stroke="#000" stroke-width="1.6" />
<line x1="1445.8" y1="292.75" x2="1445.8" y2="315.75" stroke="#000" stroke-width="1.6" />
<line x1="1463.45" y1="292.75" x2="1463.45" y2="315.25" stroke="#000" stroke-width="2.2" />
<line x1="1470.65" y1="292.75" x2="1470.65" y2="315.75" stroke="#000" stroke-width="2" />
<line x1="1438.2" y1="305.5" x2="1463.45" y2="305.5" stroke="#000" stroke-width="2" />
<line x1="1438.2" y1="307.25" x2="1463.45" y2="307.25" stroke="#000" stroke-width="1.6" />
<line x1="1438.2" y1="315.25" x2="1473.45" y2="315.25" stroke="#000" stroke-width="2.2" />
<circle cx="1457.2" cy="307.55" r="5.25" fill="none" stroke="#000" stroke-width="2.2"/>
<line x1="1453.45" y1="310.25" x2="1457.95" y2="304.75" stroke="#000" stroke-width="2" />
<line x1="1454.95" y1="312.25" x2="1460.45" y2="306.25" stroke="#000" stroke-width="2" />
<polyline points="1439.45,308.25 1441.45,313.25 1443.45,308.25" fill="none" stroke="#000" stroke-width="1.6" />
<polygon points="1446.95,313.25 1463.45,313.25 1463.45,315.25 1446.95,315.25" fill="#000"/>
<line x1="1425.45" y1="338.65" x2="1775.7" y2="338.65" stroke="#000" stroke-width="2.4" />
<clipPath id="hc002"><rect x="1425.25" y="339.1" width="350.45" height="18.05"/></clipPath>
<path clip-path="url(#hc002)" d="M1417.79,338.6L1400.04,357.35M1425.21,338.6L1407.46,357.35M1432.63,338.6L1414.88,357.35M1440.05,338.6L1422.3,357.35M1447.47,338.6L1429.72,357.35M1454.89,338.6L1437.14,357.35M1462.31,338.6L1444.56,357.35M1469.73,338.6L1451.98,357.35M1477.15,338.6L1459.4,357.35M1484.57,338.6L1466.82,357.35M1491.99,338.6L1474.24,357.35M1499.41,338.6L1481.66,357.35M1506.83,338.6L1489.08,357.35M1514.25,338.6L1496.5,357.35M1521.67,338.6L1503.92,357.35M1529.09,338.6L1511.34,357.35M1536.51,338.6L1518.76,357.35M1543.93,338.6L1526.18,357.35M1551.35,338.6L1533.6,357.35M1558.77,338.6L1541.02,357.35M1566.19,338.6L1548.44,357.35M1573.61,338.6L1555.86,357.35M1581.03,338.6L1563.28,357.35M1588.45,338.6L1570.7,357.35M1595.87,338.6L1578.12,357.35M1603.29,338.6L1585.54,357.35M1610.71,338.6L1592.96,357.35M1618.13,338.6L1600.38,357.35M1625.55,338.6L1607.8,357.35M1632.97,338.6L1615.22,357.35M1640.39,338.6L1622.64,357.35M1647.81,338.6L1630.06,357.35M1655.23,338.6L1637.48,357.35M1662.65,338.6L1644.9,357.35M1670.07,338.6L1652.32,357.35M1677.49,338.6L1659.74,357.35M1684.91,338.6L1667.16,357.35M1692.33,338.6L1674.58,357.35M1699.75,338.6L1682,357.35M1707.17,338.6L1689.42,357.35M1714.59,338.6L1696.84,357.35M1722.01,338.6L1704.26,357.35M1729.43,338.6L1711.68,357.35M1736.85,338.6L1719.1,357.35M1744.27,338.6L1726.52,357.35M1751.69,338.6L1733.94,357.35M1759.11,338.6L1741.36,357.35M1766.53,338.6L1748.78,357.35M1773.95,338.6L1756.2,357.35M1781.37,338.6L1763.62,357.35M1788.79,338.6L1771.04,357.35" stroke="#000" stroke-width="2.6" fill="none"/>
<circle cx="1589.15" cy="241.4" r="4.5" fill="none" stroke="#000" stroke-width="2.5"/>
<line x1="1760.6" y1="749.55" x2="1438.6" y2="749.55" stroke="#000" stroke-width="2.6" />
<polyline points="1760.25,749.55 1760.25,754.85 1751.85,754.85" fill="none" stroke="#000" stroke-width="2.4" />
<polyline points="1448.35,755.15 1439.05,755.15 1439.05,749.55" fill="none" stroke="#000" stroke-width="2.4" />
<path d="M1759.75,749.80 L1758.65,749.94 L1757.62,750.16 L1756.64,750.46 L1755.72,750.84 L1754.86,751.28 L1754.05,751.78 L1753.28,752.34 L1752.56,752.96 L1751.88,753.62 L1751.24,754.33 L1750.64,755.08 L1750.07,755.86 L1749.53,756.67 L1749.02,757.51 L1748.53,758.38 L1748.07,759.27 L1747.62,760.18 L1747.20,761.11 L1746.80,762.05 L1746.41,763.01 L1746.04,763.99 L1745.68,764.97 L1745.32,765.96 L1744.98,766.95 L1744.64,767.95 L1744.31,768.95 L1743.98,769.95 L1743.65,770.94 L1743.33,771.93 L1743.00,772.91 L1742.66,773.89 L1742.33,774.87 L1742.00,775.84 L1741.66,776.80 L1741.33,777.77 L1740.99,778.72 L1740.65,779.68 L1740.30,780.63 L1739.96,781.58 L1739.61,782.52 L1739.25,783.46 L1738.90,784.40 L1738.54,785.34 L1738.17,786.27 L1737.80,787.20 L1737.43,788.13 L1737.05,789.06 L1736.67,789.98 L1736.29,790.91 L1735.89,791.83 L1735.50,792.75 L1735.09,793.66 L1734.69,794.58 L1734.27,795.50 L1733.85,796.41 L1733.42,797.32 L1732.99,798.24 L1732.54,799.15 L1732.09,800.06 L1731.64,800.98 L1731.17,801.89 L1730.70,802.80 L1730.22,803.71 L1729.73,804.61 L1729.22,805.51 L1728.71,806.41 L1728.18,807.29 L1727.63,808.17 L1727.08,809.03 L1726.50,809.88 L1725.91,810.72 L1725.30,811.54 L1724.67,812.35 L1724.02,813.13 L1723.35,813.90 L1722.66,814.64 L1721.94,815.37 L1721.21,816.06 L1720.46,816.74 L1719.69,817.39 L1718.91,818.01 L1718.10,818.61 L1717.28,819.17 L1716.44,819.71 L1715.58,820.22 L1714.70,820.70 L1713.81,821.14 L1712.90,821.55 L1711.98,821.94 L1711.05,822.29 L1710.10,822.62 L1709.14,822.92 L1708.17,823.20 L1707.19,823.45 L1706.21,823.69 L1705.21,823.91 L1704.21,824.11 L1703.20,824.30 L1702.19,824.47 L1701.18,824.63 L1700.16,824.78 L1699.15,824.92 L1698.13,825.06 L1697.11,825.19 L1696.09,825.31 L1695.08,825.43 L1694.06,825.54 L1693.04,825.65 L1692.03,825.75 L1691.01,825.84 L1689.99,825.93 L1688.98,826.02 L1687.96,826.10 L1686.95,826.17 L1685.93,826.24 L1684.91,826.31 L1683.90,826.37 L1682.88,826.43 L1681.87,826.48 L1680.85,826.53 L1679.84,826.58 L1678.82,826.62 L1677.81,826.66 L1676.79,826.70 L1675.78,826.73 L1674.76,826.76 L1673.75,826.79 L1672.73,826.81 L1671.72,826.83 L1670.70,826.85 L1669.69,826.87 L1668.67,826.88 L1667.66,826.90 L1666.65,826.91 L1665.63,826.92 L1664.62,826.92 L1663.60,826.93 L1662.59,826.93 L1661.57,826.94 L1660.56,826.94 L1659.55,826.94 L1658.53,826.95 L1657.52,826.95 L1656.50,826.95 L1655.49,826.95 L1654.48,826.95 L1653.46,826.95 L1652.45,826.95 L1651.44,826.95 L1650.42,826.95 L1649.41,826.95 L1648.39,826.96 L1647.38,826.96 L1646.37,826.97 L1645.35,826.97 L1644.34,826.98 L1643.32,826.98 L1642.31,826.99 L1641.30,827.00 L1640.28,827.01 L1639.27,827.02 L1638.25,827.03 L1637.24,827.04 L1636.23,827.05 L1635.21,827.06 L1634.20,827.07 L1633.18,827.08 L1632.17,827.10 L1631.16,827.11 L1630.14,827.12 L1629.13,827.14 L1628.11,827.15 L1627.10,827.17 L1626.09,827.18 L1625.07,827.20 L1624.06,827.21 L1623.04,827.23 L1622.03,827.24 L1621.02,827.26 L1620.00,827.28 L1618.99,827.29 L1617.97,827.31 L1616.96,827.33 L1615.95,827.34 L1614.93,827.36 L1613.92,827.38 L1612.90,827.39 L1611.89,827.41 L1610.88,827.43 L1609.86,827.44 L1608.85,827.46 L1607.83,827.48 L1606.82,827.49 L1605.80,827.51 L1604.79,827.53 L1603.78,827.54 L1602.76,827.56 L1601.75,827.58 L1600.73,827.59 L1599.72,827.61 L1598.70,827.62 L1597.69,827.64 L1596.68,827.65 L1595.66,827.66 L1594.65,827.68 L1593.63,827.69 L1592.62,827.70 L1591.60,827.71 L1590.59,827.73 L1589.58,827.74 L1588.56,827.75 L1587.55,827.76 L1586.53,827.77 L1585.52,827.78 L1584.50,827.78 L1583.49,827.79 L1582.48,827.80 L1581.46,827.81 L1580.45,827.81 L1579.43,827.82 L1578.42,827.82 L1577.40,827.82 L1576.39,827.83 L1575.37,827.83 L1574.36,827.83 L1573.35,827.83 L1572.33,827.83 L1571.32,827.83 L1570.30,827.82 L1569.29,827.82 L1568.27,827.82 L1567.26,827.81 L1566.24,827.80 L1565.23,827.80 L1564.21,827.79 L1563.20,827.78 L1562.19,827.77 L1561.17,827.76 L1560.16,827.74 L1559.14,827.73 L1558.13,827.71 L1557.11,827.70 L1556.10,827.68 L1555.08,827.66 L1554.07,827.64 L1553.05,827.62 L1552.04,827.59 L1551.02,827.57 L1550.01,827.54 L1548.99,827.51 L1547.98,827.49 L1546.96,827.46 L1545.95,827.42 L1544.93,827.39 L1543.92,827.36 L1542.90,827.32 L1541.89,827.28 L1540.88,827.24 L1539.86,827.20 L1538.85,827.16 L1537.83,827.11 L1536.82,827.07 L1535.80,827.02 L1534.79,826.97 L1533.77,826.92 L1532.76,826.87 L1531.74,826.81 L1530.73,826.76 L1529.71,826.70 L1528.70,826.64 L1527.68,826.58 L1526.67,826.51 L1525.65,826.45 L1524.64,826.38 L1523.62,826.31 L1522.60,826.24 L1521.59,826.16 L1520.57,826.09 L1519.56,826.01 L1518.54,825.93 L1517.53,825.85 L1516.51,825.76 L1515.50,825.68 L1514.48,825.59 L1513.47,825.50 L1512.45,825.41 L1511.44,825.31 L1510.42,825.21 L1509.41,825.11 L1508.39,825.01 L1507.38,824.91 L1506.36,824.80 L1505.35,824.69 L1504.33,824.58 L1503.31,824.47 L1502.30,824.35 L1501.28,824.23 L1500.27,824.11 L1499.25,823.99 L1498.24,823.86 L1497.22,823.73 L1496.21,823.59 L1495.20,823.44 L1494.20,823.29 L1493.20,823.12 L1492.21,822.93 L1491.22,822.73 L1490.25,822.51 L1489.29,822.27 L1488.33,822.00 L1487.39,821.71 L1486.46,821.40 L1485.55,821.05 L1484.65,820.68 L1483.78,820.27 L1482.91,819.82 L1482.07,819.34 L1481.25,818.82 L1480.45,818.25 L1479.67,817.65 L1478.91,817.00 L1478.18,816.32 L1477.46,815.60 L1476.76,814.85 L1476.09,814.08 L1475.43,813.27 L1474.79,812.44 L1474.17,811.59 L1473.56,810.73 L1472.97,809.84 L1472.39,808.94 L1471.83,808.04 L1471.29,807.12 L1470.75,806.20 L1470.23,805.27 L1469.73,804.35 L1469.23,803.42 L1468.75,802.50 L1468.27,801.58 L1467.81,800.66 L1467.35,799.74 L1466.91,798.83 L1466.47,797.91 L1466.04,797.00 L1465.61,796.08 L1465.20,795.17 L1464.79,794.26 L1464.38,793.34 L1463.98,792.43 L1463.58,791.51 L1463.19,790.60 L1462.80,789.68 L1462.41,788.77 L1462.02,787.85 L1461.64,786.93 L1461.26,786.01 L1460.87,785.09 L1460.49,784.17 L1460.11,783.24 L1459.73,782.31 L1459.35,781.38 L1458.97,780.45 L1458.60,779.51 L1458.22,778.57 L1457.85,777.63 L1457.48,776.69 L1457.11,775.74 L1456.75,774.78 L1456.38,773.82 L1456.02,772.86 L1455.67,771.89 L1455.31,770.92 L1454.96,769.95 L1454.61,768.96 L1454.27,767.98 L1453.92,766.98 L1453.58,765.99 L1453.24,764.99 L1452.89,764.00 L1452.53,763.02 L1452.16,762.05 L1451.78,761.09 L1451.37,760.15 L1450.95,759.23 L1450.50,758.33 L1450.03,757.46 L1449.53,756.62 L1448.99,755.82 L1448.42,755.05 L1447.81,754.32 L1447.16,753.63 L1446.46,753.00 L1445.72,752.41 L1444.93,751.88 L1444.08,751.40 L1443.17,750.98 L1442.21,750.63 L1441.18,750.34 L1440.09,750.12" fill="none" stroke="#000" stroke-width="3.5" />
<polyline points="1685.6,827 1685.6,830.25 1620.35,830.25 1620.35,827.5" fill="none" stroke="#000" stroke-width="2.2" />
<polyline points="1579.6,827.5 1579.6,830.5 1513.7,830 1513.7,826.25" fill="none" stroke="#000" stroke-width="2.2" />
<line x1="1684.35" y1="828.65" x2="1621.35" y2="828.9" stroke="#000" stroke-width="2" stroke-dasharray="9 3"/>
<line x1="1578.35" y1="829.05" x2="1514.85" y2="828.35" stroke="#000" stroke-width="2" stroke-dasharray="9 3"/>
<polyline points="1611.85,828 1611.85,830.75 1609.85,832.5 1604.35,832.75 1602.35,835.25 1591.35,835.25 1591.35,832.75 1588.35,832.5 1586.5,830.75 1586.5,828" fill="none" stroke="#000" stroke-width="2.4" />
<polygon points="1602.35,833 1591.85,833 1591.85,835.75 1602.35,835.75" fill="#000"/>
<line x1="1656.95" y1="830.25" x2="1656.95" y2="838.75" stroke="#000" stroke-width="2.4" />
<line x1="1648.4" y1="830.25" x2="1648.4" y2="838.75" stroke="#000" stroke-width="2.4" />
<line x1="1654.17" y1="830.25" x2="1654.17" y2="838.75" stroke="#000" stroke-width="1.2" />
<line x1="1534.2" y1="830.25" x2="1534.2" y2="838.75" stroke="#000" stroke-width="2.4" />
<line x1="1526.65" y1="830.25" x2="1526.65" y2="838.75" stroke="#000" stroke-width="2.4" />
<line x1="1531.92" y1="830.25" x2="1531.92" y2="838.75" stroke="#000" stroke-width="1.2" />
<polygon points="1734.35,838.85 1456.85,838.85 1456.85,842.65 1734.35,842.65" fill="none" stroke="#000" stroke-width="2.5" />
<polygon points="1726.7,842.75 1717.2,842.75 1717.2,844.85 1726.7,844.85" fill="#000"/>
<line x1="1724.25" y1="844.75" x2="1724.25" y2="858.5" stroke="#000" stroke-width="2.2" />
<line x1="1719.65" y1="844.75" x2="1719.65" y2="858.5" stroke="#000" stroke-width="2.2" />
<line x1="1721.95" y1="842.75" x2="1721.95" y2="860.75" stroke="#000" stroke-width="2" />
<polyline points="1725.7,860.15 1725.7,858.05 1718.2,858.05 1718.2,860.15" fill="none" stroke="#000" stroke-width="2.2" />
<polygon points="1657.4,842.75 1647.9,842.75 1647.9,844.85 1657.4,844.85" fill="#000"/>
<line x1="1654.95" y1="844.75" x2="1654.95" y2="858.5" stroke="#000" stroke-width="2.2" />
<line x1="1650.35" y1="844.75" x2="1650.35" y2="858.5" stroke="#000" stroke-width="2.2" />
<line x1="1652.65" y1="842.75" x2="1652.65" y2="860.75" stroke="#000" stroke-width="2" />
<polyline points="1656.4,860.15 1656.4,858.05 1648.9,858.05 1648.9,860.15" fill="none" stroke="#000" stroke-width="2.2" />
<polygon points="1535.1,842.75 1525.6,842.75 1525.6,844.85 1535.1,844.85" fill="#000"/>
<line x1="1532.65" y1="844.75" x2="1532.65" y2="858.5" stroke="#000" stroke-width="2.2" />
<line x1="1528.05" y1="844.75" x2="1528.05" y2="858.5" stroke="#000" stroke-width="2.2" />
<line x1="1530.35" y1="842.75" x2="1530.35" y2="860.75" stroke="#000" stroke-width="2" />
<polyline points="1534.1,860.15 1534.1,858.05 1526.6,858.05 1526.6,860.15" fill="none" stroke="#000" stroke-width="2.2" />
<polygon points="1477.45,842.75 1467.95,842.75 1467.95,844.85 1477.45,844.85" fill="#000"/>
<line x1="1475" y1="844.75" x2="1475" y2="858.5" stroke="#000" stroke-width="2.2" />
<line x1="1470.4" y1="844.75" x2="1470.4" y2="858.5" stroke="#000" stroke-width="2.2" />
<line x1="1472.7" y1="842.75" x2="1472.7" y2="860.75" stroke="#000" stroke-width="2" />
<polyline points="1476.45,860.15 1476.45,858.05 1468.95,858.05 1468.95,860.15" fill="none" stroke="#000" stroke-width="2.2" />
<polygon points="1624.1,834.5 1591.35,834.5 1591.35,858.6 1624.1,858.6" fill="none" stroke="#000" stroke-width="2.4" />
<polygon points="1629.95,845.25 1625.05,845.25 1625.05,854.55 1629.95,854.55" fill="none" stroke="#000" stroke-width="2.4" />
<polygon points="1591.35,844.05 1586.25,844.05 1586.25,852.6 1591.35,852.6" fill="none" stroke="#000" stroke-width="2.4" />
<path d="M1623.35,853.25 C1622.77,853.08 1620.6,853 1619.85,852.25 C1619.1,851.5 1619.27,849.83 1618.85,848.75 C1618.43,847.67 1617.93,846.08 1617.35,845.75 C1616.77,845.42 1615.85,845.83 1615.35,846.75 C1614.85,847.67 1614.77,849.58 1614.35,851.25 C1613.93,852.92 1613.68,855.62 1612.85,856.75 C1612.02,857.88 1611.6,857.79 1609.35,858 C1607.1,858.21 1602.18,858.12 1599.35,858 C1596.52,857.88 1593.52,857.38 1592.35,857.25" fill="none" stroke="#000" stroke-width="2" />
<polyline points="1623.35,843.75 1611.35,843.75 1608.85,841.25 1604.35,838.75 1593.35,838.75" fill="none" stroke="#000" stroke-width="2" />
<polyline points="1591.35,844.05 1604.6,844.05" fill="none" stroke="#000" stroke-width="2" />
<path d="M1604.6,844.05 C1604.88,844.33 1605.92,845.1 1606.25,845.75 C1606.58,846.4 1606.55,847.22 1606.55,847.95 C1606.55,848.68 1606.58,849.5 1606.25,850.15 C1605.92,850.8 1604.88,851.57 1604.6,851.85" fill="none" stroke="#000" stroke-width="2" />
<polyline points="1604.6,851.85 1593.85,851.85" fill="none" stroke="#000" stroke-width="2" />
<line x1="1593.35" y1="835.25" x2="1593.35" y2="858.25" stroke="#000" stroke-width="1.6" />
<polygon points="1754.75,786.2 1715.35,786.2 1715.35,814.2 1754.75,814.2" fill="none" stroke="#000" stroke-width="2.4" />
<line x1="1725.35" y1="786.25" x2="1725.35" y2="814.25" stroke="#000" stroke-width="2.2" />
<polyline points="1752.6,814.25 1752.6,838.5 1715.35,838.5" fill="none" stroke="#000" stroke-width="2.4" />
<line x1="1750.6" y1="814.25" x2="1750.6" y2="837.25" stroke="#000" stroke-width="2" />
<line x1="1744.35" y1="814.25" x2="1744.35" y2="837.25" stroke="#000" stroke-width="1.6" />
<line x1="1743" y1="814.25" x2="1743" y2="837.25" stroke="#000" stroke-width="1.6" />
<line x1="1725.35" y1="814.25" x2="1725.35" y2="836.75" stroke="#000" stroke-width="2.2" />
<line x1="1718.15" y1="814.25" x2="1718.15" y2="837.25" stroke="#000" stroke-width="2" />
<line x1="1750.6" y1="827" x2="1725.35" y2="827" stroke="#000" stroke-width="2" />
<line x1="1750.6" y1="828.75" x2="1725.35" y2="828.75" stroke="#000" stroke-width="1.6" />
<line x1="1750.6" y1="836.75" x2="1715.35" y2="836.75" stroke="#000" stroke-width="2.2" />
<circle cx="1731.6" cy="829.05" r="5.25" fill="none" stroke="#000" stroke-width="2.2"/>
<line x1="1735.35" y1="831.75" x2="1730.85" y2="826.25" stroke="#000" stroke-width="2" />
<line x1="1733.85" y1="833.75" x2="1728.35" y2="827.75" stroke="#000" stroke-width="2" />
<polyline points="1749.35,829.75 1747.35,834.75 1745.35,829.75" fill="none" stroke="#000" stroke-width="1.6" />
<polygon points="1741.85,834.75 1725.35,834.75 1725.35,836.75 1741.85,836.75" fill="#000"/>
<line x1="1763.35" y1="860.15" x2="1413.1" y2="860.15" stroke="#000" stroke-width="2.4" />
<clipPath id="hc001"><rect x="1413.1" y="860.6" width="350.45" height="18.05"/></clipPath>
<path clip-path="url(#hc001)" d="M1771.01,860.1L1788.76,878.85M1763.59,860.1L1781.34,878.85M1756.17,860.1L1773.92,878.85M1748.75,860.1L1766.5,878.85M1741.33,860.1L1759.08,878.85M1733.91,860.1L1751.66,878.85M1726.49,860.1L1744.24,878.85M1719.07,860.1L1736.82,878.85M1711.65,860.1L1729.4,878.85M1704.23,860.1L1721.98,878.85M1696.81,860.1L1714.56,878.85M1689.39,860.1L1707.14,878.85M1681.97,860.1L1699.72,878.85M1674.55,860.1L1692.3,878.85M1667.13,860.1L1684.88,878.85M1659.71,860.1L1677.46,878.85M1652.29,860.1L1670.04,878.85M1644.87,860.1L1662.62,878.85M1637.45,860.1L1655.2,878.85M1630.03,860.1L1647.78,878.85M1622.61,860.1L1640.36,878.85M1615.19,860.1L1632.94,878.85M1607.77,860.1L1625.52,878.85M1600.35,860.1L1618.1,878.85M1592.93,860.1L1610.68,878.85M1585.51,860.1L1603.26,878.85M1578.09,860.1L1595.84,878.85M1570.67,860.1L1588.42,878.85M1563.25,860.1L1581,878.85M1555.83,860.1L1573.58,878.85M1548.41,860.1L1566.16,878.85M1540.99,860.1L1558.74,878.85M1533.57,860.1L1551.32,878.85M1526.15,860.1L1543.9,878.85M1518.73,860.1L1536.48,878.85M1511.31,860.1L1529.06,878.85M1503.89,860.1L1521.64,878.85M1496.47,860.1L1514.22,878.85M1489.05,860.1L1506.8,878.85M1481.63,860.1L1499.38,878.85M1474.21,860.1L1491.96,878.85M1466.79,860.1L1484.54,878.85M1459.37,860.1L1477.12,878.85M1451.95,860.1L1469.7,878.85M1444.53,860.1L1462.28,878.85M1437.11,860.1L1454.86,878.85M1429.69,860.1L1447.44,878.85M1422.27,860.1L1440.02,878.85M1414.85,860.1L1432.6,878.85M1407.43,860.1L1425.18,878.85M1400.01,860.1L1417.76,878.85" stroke="#000" stroke-width="2.6" fill="none"/>
<circle cx="1599.65" cy="762.9" r="4.5" fill="none" stroke="#000" stroke-width="2.5"/>
<polygon points="1435,388.8 1749.9,388.8 1749.9,529.3 1435,529.3" fill="none" stroke="#000" stroke-width="2.3" />
<path d="M1437.10,462.30 L1437.10,460.99 L1437.11,460.02 L1437.13,459.15 L1437.15,458.33 L1437.17,457.56 L1437.20,456.81 L1437.24,456.10 L1437.28,455.40 L1437.33,454.72 L1437.39,454.05 L1437.45,453.40 L1437.52,452.76 L1437.59,452.13 L1437.67,451.51 L1437.75,450.90 L1437.84,450.30 L1437.93,449.71 L1438.03,449.13 L1438.14,448.55 L1438.25,447.98 L1438.37,447.42 L1438.50,446.86 L1438.63,446.31 L1438.76,445.76 L1438.90,445.22 L1439.05,444.69 L1439.21,444.16 L1439.36,443.63 L1439.53,443.11 L1439.70,442.60 L1439.88,442.08 L1440.06,441.58 L1440.25,441.07 L1440.44,440.58 L1440.64,440.08 L1440.85,439.59 L1441.06,439.11 L1441.28,438.63 L1441.51,438.15 L1441.74,437.67 L1441.97,437.20 L1442.21,436.74 L1442.46,436.27 L1442.72,435.81 L1442.98,435.36 L1443.24,434.90 L1443.51,434.46 L1443.79,434.01 L1444.08,433.57 L1444.37,433.13 L1444.66,432.70 L1444.97,432.26 L1445.28,431.84 L1445.59,431.41 L1445.91,430.99 L1446.24,430.57 L1446.57,430.16 L1446.91,429.74 L1447.26,429.34 L1447.61,428.93 L1447.97,428.53 L1448.33,428.13 L1448.70,427.73 L1449.08,427.34 L1449.47,426.95 L1449.86,426.57 L1450.25,426.18 L1450.66,425.81 L1451.07,425.43 L1451.48,425.06 L1451.90,424.69 L1452.33,424.32 L1452.77,423.96 L1453.21,423.60 L1453.66,423.24 L1454.12,422.89 L1454.58,422.54 L1455.05,422.19 L1455.53,421.84 L1456.01,421.50 L1456.50,421.16 L1457.00,420.83 L1457.50,420.50 L1458.01,420.17 L1458.53,419.85 L1459.05,419.52 L1459.58,419.21 L1460.12,418.89 L1460.67,418.58 L1461.22,418.27 L1461.79,417.96 L1462.35,417.66 L1462.93,417.36 L1463.51,417.06 L1464.11,416.77 L1464.70,416.48 L1465.31,416.20 L1465.93,415.91 L1466.55,415.63 L1467.18,415.36 L1467.82,415.08 L1468.46,414.81 L1469.12,414.55 L1469.78,414.28 L1470.45,414.02 L1471.13,413.77 L1471.82,413.51 L1472.52,413.26 L1473.22,413.01 L1473.94,412.77 L1474.66,412.53 L1475.39,412.29 L1476.13,412.06 L1476.89,411.83 L1477.65,411.60 L1478.42,411.38 L1479.20,411.16 L1479.99,410.94 L1480.79,410.73 L1481.60,410.52 L1482.42,410.31 L1483.25,410.10 L1484.09,409.90 L1484.94,409.71 L1485.81,409.51 L1486.68,409.32 L1487.57,409.14 L1488.47,408.95 L1489.38,408.77 L1490.31,408.60 L1491.24,408.42 L1492.19,408.25 L1493.16,408.09 L1494.13,407.93 L1495.12,407.77 L1496.13,407.61 L1497.15,407.46 L1498.18,407.31 L1499.23,407.16 L1500.30,407.02 L1501.38,406.88 L1502.48,406.75 L1503.60,406.61 L1504.74,406.49 L1505.89,406.36 L1507.07,406.24 L1508.26,406.12 L1509.48,406.01 L1510.72,405.90 L1511.98,405.79 L1513.27,405.69 L1514.58,405.58 L1515.92,405.49 L1517.29,405.39 L1518.68,405.30 L1520.11,405.22 L1521.57,405.13 L1523.07,405.06 L1524.60,404.98 L1526.17,404.91 L1527.79,404.84 L1529.45,404.77 L1531.16,404.71 L1532.93,404.65 L1534.76,404.60 L1536.65,404.55 L1538.61,404.50 L1540.65,404.45 L1542.79,404.41 L1545.03,404.38 L1547.39,404.34 L1549.88,404.31 L1552.55,404.29 L1555.42,404.26 L1558.55,404.24 L1562.01,404.23 L1565.97,404.22 L1570.67,404.21 L1576.85,404.20 L1592.20,404.20 L1604.99,404.20 L1610.62,404.21 L1615.00,404.21 L1618.73,404.23 L1622.03,404.24 L1625.03,404.26 L1627.80,404.28 L1630.39,404.30 L1632.83,404.33 L1635.14,404.36 L1637.34,404.40 L1639.45,404.44 L1641.48,404.48 L1643.43,404.52 L1645.31,404.57 L1647.14,404.62 L1648.90,404.67 L1650.62,404.73 L1652.29,404.79 L1653.92,404.86 L1655.51,404.92 L1657.06,404.99 L1658.58,405.07 L1660.06,405.14 L1661.51,405.22 L1662.93,405.31 L1664.32,405.39 L1665.69,405.48 L1667.03,405.58 L1668.35,405.67 L1669.64,405.77 L1670.91,405.88 L1672.16,405.98 L1673.39,406.09 L1674.60,406.20 L1675.80,406.32 L1676.97,406.44 L1678.12,406.56 L1679.26,406.69 L1680.38,406.82 L1681.49,406.95 L1682.57,407.08 L1683.65,407.22 L1684.71,407.36 L1685.75,407.51 L1686.78,407.66 L1687.80,407.81 L1688.80,407.96 L1689.79,408.12 L1690.77,408.28 L1691.73,408.45 L1692.69,408.62 L1693.63,408.79 L1694.56,408.96 L1695.47,409.14 L1696.38,409.32 L1697.27,409.50 L1698.16,409.69 L1699.03,409.88 L1699.89,410.07 L1700.74,410.27 L1701.58,410.47 L1702.41,410.67 L1703.23,410.88 L1704.05,411.09 L1704.85,411.30 L1705.64,411.51 L1706.42,411.73 L1707.20,411.96 L1707.96,412.18 L1708.71,412.41 L1709.46,412.64 L1710.20,412.88 L1710.92,413.11 L1711.64,413.36 L1712.35,413.60 L1713.06,413.85 L1713.75,414.10 L1714.44,414.35 L1715.11,414.61 L1715.78,414.87 L1716.44,415.13 L1717.09,415.40 L1717.74,415.67 L1718.37,415.94 L1719.00,416.22 L1719.62,416.50 L1720.24,416.78 L1720.84,417.07 L1721.44,417.35 L1722.03,417.65 L1722.61,417.94 L1723.19,418.24 L1723.75,418.54 L1724.31,418.85 L1724.86,419.16 L1725.41,419.47 L1725.95,419.78 L1726.48,420.10 L1727.00,420.42 L1727.52,420.74 L1728.03,421.07 L1728.53,421.40 L1729.02,421.74 L1729.51,422.07 L1729.99,422.41 L1730.46,422.76 L1730.93,423.11 L1731.39,423.46 L1731.84,423.81 L1732.29,424.17 L1732.73,424.53 L1733.16,424.89 L1733.58,425.26 L1734.00,425.63 L1734.41,426.00 L1734.82,426.38 L1735.22,426.76 L1735.61,427.14 L1735.99,427.53 L1736.37,427.92 L1736.74,428.32 L1737.11,428.71 L1737.46,429.12 L1737.81,429.52 L1738.16,429.93 L1738.50,430.34 L1738.83,430.76 L1739.16,431.18 L1739.47,431.60 L1739.79,432.03 L1740.09,432.46 L1740.39,432.90 L1740.68,433.34 L1740.97,433.78 L1741.25,434.23 L1741.52,434.68 L1741.79,435.13 L1742.05,435.59 L1742.30,436.06 L1742.55,436.52 L1742.79,437.00 L1743.03,437.47 L1743.26,437.96 L1743.48,438.44 L1743.70,438.93 L1743.90,439.43 L1744.11,439.93 L1744.31,440.44 L1744.50,440.95 L1744.68,441.47 L1744.86,441.99 L1745.03,442.52 L1745.19,443.06 L1745.35,443.60 L1745.51,444.15 L1745.65,444.70 L1745.79,445.27 L1745.93,445.84 L1746.06,446.42 L1746.18,447.00 L1746.29,447.60 L1746.40,448.20 L1746.50,448.82 L1746.60,449.44 L1746.69,450.08 L1746.77,450.73 L1746.85,451.39 L1746.92,452.07 L1746.99,452.77 L1747.05,453.48 L1747.10,454.22 L1747.15,454.98 L1747.19,455.77 L1747.22,456.59 L1747.25,457.46 L1747.27,458.39 L1747.29,459.40 L1747.30,460.57 L1747.30,462.30 L1747.30,463.53 L1747.29,464.50 L1747.27,465.38 L1747.25,466.21 L1747.23,467.01 L1747.19,467.79 L1747.16,468.54 L1747.11,469.27 L1747.06,469.99 L1747.00,470.69 L1746.94,471.38 L1746.87,472.06 L1746.80,472.73 L1746.72,473.39 L1746.64,474.05 L1746.54,474.69 L1746.45,475.33 L1746.34,475.96 L1746.23,476.58 L1746.12,477.20 L1746.00,477.81 L1745.87,478.42 L1745.74,479.02 L1745.60,479.62 L1745.45,480.20 L1745.30,480.79 L1745.14,481.37 L1744.98,481.95 L1744.81,482.52 L1744.63,483.08 L1744.45,483.64 L1744.27,484.20 L1744.07,484.75 L1743.87,485.30 L1743.67,485.85 L1743.46,486.39 L1743.24,486.93 L1743.02,487.46 L1742.79,487.99 L1742.55,488.52 L1742.31,489.04 L1742.06,489.56 L1741.81,490.07 L1741.55,490.58 L1741.28,491.09 L1741.01,491.59 L1740.73,492.09 L1740.44,492.59 L1740.15,493.08 L1739.86,493.57 L1739.55,494.06 L1739.24,494.54 L1738.93,495.02 L1738.60,495.49 L1738.28,495.97 L1737.94,496.43 L1737.60,496.90 L1737.25,497.36 L1736.90,497.82 L1736.54,498.27 L1736.17,498.73 L1735.80,499.17 L1735.42,499.62 L1735.03,500.06 L1734.64,500.50 L1734.24,500.93 L1733.83,501.36 L1733.42,501.79 L1733.00,502.21 L1732.58,502.64 L1732.14,503.05 L1731.71,503.47 L1731.26,503.88 L1730.81,504.28 L1730.35,504.69 L1729.88,505.09 L1729.41,505.48 L1728.93,505.88 L1728.44,506.27 L1727.95,506.65 L1727.45,507.03 L1726.94,507.41 L1726.43,507.79 L1725.91,508.16 L1725.38,508.53 L1724.84,508.90 L1724.30,509.26 L1723.75,509.62 L1723.19,509.97 L1722.62,510.32 L1722.05,510.67 L1721.47,511.01 L1720.88,511.35 L1720.29,511.69 L1719.68,512.02 L1719.07,512.35 L1718.45,512.68 L1717.83,513.00 L1717.19,513.32 L1716.55,513.63 L1715.90,513.95 L1715.24,514.25 L1714.57,514.56 L1713.90,514.86 L1713.21,515.15 L1712.52,515.45 L1711.82,515.74 L1711.11,516.02 L1710.39,516.30 L1709.66,516.58 L1708.93,516.86 L1708.18,517.13 L1707.43,517.40 L1706.66,517.66 L1705.89,517.92 L1705.11,518.17 L1704.31,518.43 L1703.51,518.67 L1702.70,518.92 L1701.87,519.16 L1701.04,519.40 L1700.19,519.63 L1699.34,519.86 L1698.47,520.08 L1697.59,520.31 L1696.70,520.52 L1695.80,520.74 L1694.89,520.95 L1693.97,521.15 L1693.03,521.35 L1692.08,521.55 L1691.12,521.75 L1690.14,521.94 L1689.15,522.12 L1688.15,522.31 L1687.13,522.49 L1686.10,522.66 L1685.05,522.83 L1683.99,523.00 L1682.91,523.16 L1681.81,523.32 L1680.70,523.48 L1679.57,523.63 L1678.42,523.77 L1677.25,523.92 L1676.06,524.06 L1674.86,524.19 L1673.63,524.32 L1672.38,524.45 L1671.11,524.57 L1669.81,524.69 L1668.49,524.81 L1667.14,524.92 L1665.76,525.03 L1664.36,525.13 L1662.92,525.23 L1661.45,525.33 L1659.95,525.42 L1658.41,525.50 L1656.83,525.59 L1655.21,525.67 L1653.54,525.74 L1651.83,525.81 L1650.06,525.88 L1648.24,525.94 L1646.35,526.00 L1644.38,526.06 L1642.35,526.11 L1640.22,526.15 L1637.99,526.20 L1635.64,526.24 L1633.16,526.27 L1630.52,526.30 L1627.68,526.33 L1624.59,526.35 L1621.17,526.37 L1617.29,526.38 L1612.69,526.39 L1606.69,526.40 L1592.20,526.40 L1573.79,526.40 L1567.06,526.39 L1562.03,526.38 L1557.87,526.36 L1554.25,526.34 L1551.01,526.32 L1548.06,526.29 L1545.33,526.25 L1542.79,526.22 L1540.40,526.17 L1538.14,526.13 L1535.99,526.07 L1533.94,526.02 L1531.97,525.96 L1530.09,525.89 L1528.27,525.82 L1526.52,525.74 L1524.82,525.67 L1523.18,525.58 L1521.59,525.49 L1520.04,525.40 L1518.53,525.30 L1517.06,525.20 L1515.63,525.10 L1514.24,524.99 L1512.87,524.87 L1511.54,524.75 L1510.24,524.63 L1508.96,524.50 L1507.71,524.37 L1506.49,524.23 L1505.29,524.09 L1504.11,523.94 L1502.96,523.79 L1501.82,523.64 L1500.71,523.48 L1499.61,523.31 L1498.54,523.15 L1497.48,522.97 L1496.44,522.80 L1495.41,522.62 L1494.41,522.43 L1493.42,522.24 L1492.44,522.05 L1491.48,521.85 L1490.53,521.65 L1489.60,521.44 L1488.68,521.23 L1487.78,521.01 L1486.88,520.79 L1486.00,520.57 L1485.14,520.34 L1484.28,520.11 L1483.44,519.88 L1482.61,519.64 L1481.79,519.39 L1480.98,519.14 L1480.18,518.89 L1479.39,518.63 L1478.62,518.37 L1477.85,518.11 L1477.09,517.84 L1476.35,517.57 L1475.61,517.29 L1474.88,517.01 L1474.17,516.72 L1473.46,516.43 L1472.76,516.14 L1472.07,515.84 L1471.39,515.54 L1470.71,515.24 L1470.05,514.93 L1469.40,514.62 L1468.75,514.30 L1468.11,513.98 L1467.48,513.66 L1466.86,513.33 L1466.24,513.00 L1465.64,512.66 L1465.04,512.33 L1464.45,511.98 L1463.87,511.64 L1463.29,511.29 L1462.72,510.93 L1462.16,510.58 L1461.61,510.21 L1461.07,509.85 L1460.53,509.48 L1460.00,509.11 L1459.47,508.73 L1458.95,508.36 L1458.44,507.97 L1457.94,507.59 L1457.44,507.20 L1456.96,506.81 L1456.47,506.41 L1456.00,506.01 L1455.53,505.61 L1455.06,505.20 L1454.61,504.79 L1454.16,504.38 L1453.72,503.96 L1453.28,503.54 L1452.85,503.12 L1452.43,502.70 L1452.01,502.27 L1451.60,501.84 L1451.19,501.40 L1450.79,500.96 L1450.40,500.52 L1450.01,500.08 L1449.63,499.63 L1449.26,499.18 L1448.89,498.72 L1448.53,498.27 L1448.17,497.81 L1447.82,497.34 L1447.48,496.88 L1447.14,496.41 L1446.81,495.94 L1446.48,495.46 L1446.16,494.99 L1445.85,494.51 L1445.54,494.02 L1445.24,493.54 L1444.94,493.05 L1444.65,492.56 L1444.36,492.06 L1444.08,491.57 L1443.81,491.07 L1443.54,490.57 L1443.28,490.06 L1443.02,489.55 L1442.77,489.04 L1442.52,488.53 L1442.28,488.01 L1442.05,487.50 L1441.82,486.98 L1441.59,486.45 L1441.38,485.93 L1441.16,485.40 L1440.96,484.87 L1440.75,484.34 L1440.56,483.80 L1440.37,483.26 L1440.18,482.72 L1440.00,482.18 L1439.83,481.63 L1439.66,481.08 L1439.50,480.53 L1439.34,479.98 L1439.19,479.42 L1439.04,478.86 L1438.90,478.30 L1438.76,477.74 L1438.63,477.17 L1438.51,476.60 L1438.39,476.03 L1438.27,475.45 L1438.16,474.88 L1438.06,474.30 L1437.96,473.71 L1437.87,473.13 L1437.78,472.54 L1437.70,471.94 L1437.62,471.35 L1437.55,470.75 L1437.48,470.14 L1437.42,469.54 L1437.37,468.92 L1437.32,468.31 L1437.27,467.68 L1437.23,467.06 L1437.20,466.42 L1437.17,465.78 L1437.14,465.13 L1437.12,464.46 L1437.11,463.78 L1437.10,463.08Z" fill="none" stroke="#000" stroke-width="2.2" />
<path d="M1738.70,462.30 L1738.69,465.43 L1738.68,467.27 L1738.64,468.81 L1738.60,470.19 L1738.55,471.46 L1738.48,472.64 L1738.40,473.75 L1738.30,474.82 L1738.20,475.83 L1738.08,476.81 L1737.95,477.76 L1737.81,478.67 L1737.65,479.56 L1737.48,480.43 L1737.30,481.27 L1737.11,482.09 L1736.90,482.90 L1736.69,483.68 L1736.46,484.45 L1736.21,485.21 L1735.96,485.94 L1735.69,486.67 L1735.41,487.38 L1735.11,488.08 L1734.81,488.77 L1734.49,489.44 L1734.16,490.10 L1733.81,490.76 L1733.45,491.40 L1733.08,492.03 L1732.70,492.65 L1732.30,493.26 L1731.89,493.86 L1731.47,494.46 L1731.03,495.04 L1730.58,495.62 L1730.12,496.18 L1729.65,496.74 L1729.16,497.29 L1728.65,497.83 L1728.14,498.36 L1727.61,498.89 L1727.07,499.40 L1726.51,499.91 L1725.94,500.42 L1725.35,500.91 L1724.76,501.40 L1724.14,501.88 L1723.52,502.35 L1722.87,502.81 L1722.22,503.27 L1721.55,503.72 L1720.87,504.16 L1720.17,504.60 L1719.45,505.03 L1718.72,505.45 L1717.98,505.86 L1717.22,506.27 L1716.45,506.67 L1715.66,507.06 L1714.85,507.45 L1714.03,507.83 L1713.19,508.21 L1712.34,508.57 L1711.46,508.93 L1710.58,509.29 L1709.67,509.63 L1708.75,509.97 L1707.81,510.31 L1706.85,510.63 L1705.88,510.95 L1704.89,511.27 L1703.87,511.58 L1702.84,511.88 L1701.79,512.17 L1700.72,512.46 L1699.63,512.74 L1698.52,513.01 L1697.39,513.28 L1696.24,513.54 L1695.06,513.80 L1693.86,514.05 L1692.64,514.29 L1691.39,514.52 L1690.12,514.75 L1688.82,514.98 L1687.50,515.19 L1686.15,515.40 L1684.77,515.60 L1683.37,515.80 L1681.93,515.99 L1680.46,516.17 L1678.95,516.35 L1677.42,516.52 L1675.84,516.69 L1674.23,516.84 L1672.58,517.00 L1670.88,517.14 L1669.14,517.28 L1667.36,517.41 L1665.52,517.54 L1663.62,517.66 L1661.67,517.77 L1659.65,517.88 L1657.56,517.98 L1655.40,518.07 L1653.15,518.16 L1650.81,518.24 L1648.36,518.31 L1645.80,518.38 L1643.09,518.44 L1640.23,518.49 L1637.17,518.54 L1633.89,518.58 L1630.30,518.62 L1626.33,518.65 L1621.81,518.67 L1616.44,518.69 L1609.42,518.70 L1592.20,518.70 L1577.20,518.70 L1570.59,518.69 L1565.45,518.67 L1561.08,518.65 L1557.21,518.62 L1553.69,518.59 L1550.45,518.55 L1547.42,518.50 L1544.56,518.45 L1541.86,518.39 L1539.29,518.32 L1536.83,518.25 L1534.47,518.17 L1532.20,518.09 L1530.00,518.00 L1527.89,517.90 L1525.83,517.80 L1523.84,517.69 L1521.91,517.57 L1520.03,517.45 L1518.20,517.32 L1516.41,517.19 L1514.67,517.05 L1512.97,516.90 L1511.31,516.75 L1509.69,516.59 L1508.10,516.43 L1506.54,516.25 L1505.02,516.08 L1503.53,515.89 L1502.07,515.70 L1500.64,515.50 L1499.24,515.30 L1497.86,515.09 L1496.51,514.88 L1495.19,514.65 L1493.89,514.42 L1492.62,514.19 L1491.36,513.95 L1490.13,513.70 L1488.93,513.45 L1487.74,513.19 L1486.58,512.92 L1485.44,512.65 L1484.31,512.37 L1483.21,512.08 L1482.13,511.79 L1481.06,511.49 L1480.02,511.19 L1478.99,510.88 L1477.99,510.56 L1477.00,510.23 L1476.03,509.90 L1475.07,509.56 L1474.14,509.22 L1473.22,508.87 L1472.32,508.51 L1471.43,508.15 L1470.56,507.78 L1469.71,507.40 L1468.87,507.02 L1468.06,506.62 L1467.25,506.23 L1466.46,505.82 L1465.69,505.41 L1464.93,504.99 L1464.19,504.57 L1463.47,504.13 L1462.76,503.69 L1462.06,503.25 L1461.38,502.79 L1460.72,502.33 L1460.06,501.86 L1459.43,501.38 L1458.81,500.90 L1458.20,500.41 L1457.61,499.91 L1457.03,499.40 L1456.47,498.89 L1455.92,498.36 L1455.38,497.83 L1454.86,497.29 L1454.36,496.74 L1453.86,496.19 L1453.38,495.62 L1452.92,495.04 L1452.47,494.46 L1452.03,493.87 L1451.61,493.26 L1451.20,492.65 L1450.80,492.02 L1450.42,491.39 L1450.05,490.74 L1449.70,490.09 L1449.36,489.42 L1449.03,488.74 L1448.72,488.04 L1448.42,487.34 L1448.13,486.62 L1447.86,485.88 L1447.60,485.13 L1447.35,484.36 L1447.12,483.58 L1446.90,482.77 L1446.69,481.95 L1446.50,481.10 L1446.32,480.24 L1446.16,479.34 L1446.00,478.42 L1445.86,477.46 L1445.74,476.47 L1445.62,475.44 L1445.52,474.36 L1445.44,473.22 L1445.37,472.01 L1445.31,470.71 L1445.26,469.28 L1445.23,467.68 L1445.21,465.74 L1445.20,462.30" fill="none" stroke="#000" stroke-width="2" />
<path d="M1474.70,462.75 L1474.70,461.56 L1474.71,460.70 L1474.72,459.93 L1474.74,459.21 L1474.76,458.54 L1474.79,457.89 L1474.83,457.27 L1474.86,456.66 L1474.91,456.07 L1474.96,455.50 L1475.01,454.94 L1475.07,454.39 L1475.13,453.85 L1475.20,453.32 L1475.28,452.80 L1475.36,452.28 L1475.44,451.78 L1475.53,451.28 L1475.63,450.79 L1475.73,450.30 L1475.83,449.82 L1475.94,449.34 L1476.06,448.87 L1476.18,448.41 L1476.31,447.95 L1476.44,447.50 L1476.57,447.05 L1476.71,446.60 L1476.86,446.16 L1477.01,445.72 L1477.17,445.29 L1477.33,444.86 L1477.50,444.44 L1477.67,444.02 L1477.85,443.60 L1478.03,443.18 L1478.22,442.77 L1478.41,442.37 L1478.61,441.96 L1478.82,441.56 L1479.03,441.17 L1479.24,440.77 L1479.46,440.38 L1479.69,440.00 L1479.92,439.61 L1480.15,439.23 L1480.39,438.85 L1480.64,438.48 L1480.89,438.11 L1481.14,437.74 L1481.41,437.37 L1481.67,437.01 L1481.95,436.65 L1482.22,436.29 L1482.51,435.94 L1482.80,435.59 L1483.09,435.24 L1483.39,434.89 L1483.69,434.55 L1484.00,434.21 L1484.32,433.88 L1484.64,433.54 L1484.97,433.21 L1485.30,432.88 L1485.63,432.56 L1485.98,432.23 L1486.32,431.91 L1486.68,431.59 L1487.04,431.28 L1487.40,430.97 L1487.77,430.66 L1488.15,430.35 L1488.53,430.05 L1488.92,429.75 L1489.31,429.45 L1489.71,429.15 L1490.11,428.86 L1490.52,428.57 L1490.93,428.28 L1491.36,428.00 L1491.78,427.72 L1492.21,427.44 L1492.65,427.16 L1493.10,426.89 L1493.55,426.61 L1494.00,426.35 L1494.46,426.08 L1494.93,425.82 L1495.40,425.56 L1495.88,425.30 L1496.37,425.04 L1496.86,424.79 L1497.36,424.54 L1497.86,424.29 L1498.37,424.05 L1498.89,423.81 L1499.41,423.57 L1499.94,423.33 L1500.47,423.10 L1501.01,422.87 L1501.56,422.64 L1502.11,422.42 L1502.67,422.20 L1503.24,421.98 L1503.81,421.76 L1504.40,421.55 L1504.98,421.34 L1505.58,421.13 L1506.18,420.92 L1506.78,420.72 L1507.40,420.52 L1508.02,420.32 L1508.65,420.13 L1509.29,419.94 L1509.93,419.75 L1510.58,419.56 L1511.24,419.38 L1511.90,419.20 L1512.58,419.02 L1513.26,418.84 L1513.95,418.67 L1514.65,418.50 L1515.35,418.34 L1516.06,418.17 L1516.79,418.01 L1517.52,417.85 L1518.26,417.70 L1519.00,417.55 L1519.76,417.40 L1520.53,417.25 L1521.30,417.11 L1522.09,416.96 L1522.88,416.83 L1523.69,416.69 L1524.50,416.56 L1525.33,416.43 L1526.16,416.30 L1527.01,416.18 L1527.87,416.06 L1528.74,415.94 L1529.62,415.83 L1530.51,415.71 L1531.42,415.60 L1532.33,415.50 L1533.27,415.39 L1534.21,415.29 L1535.17,415.19 L1536.14,415.10 L1537.13,415.01 L1538.14,414.92 L1539.16,414.83 L1540.20,414.75 L1541.26,414.67 L1542.33,414.59 L1543.43,414.52 L1544.55,414.44 L1545.68,414.38 L1546.85,414.31 L1548.03,414.25 L1549.24,414.19 L1550.49,414.13 L1551.76,414.08 L1553.06,414.02 L1554.40,413.98 L1555.77,413.93 L1557.19,413.89 L1558.65,413.85 L1560.16,413.81 L1561.73,413.78 L1563.36,413.75 L1565.07,413.72 L1566.85,413.69 L1568.74,413.67 L1570.75,413.65 L1572.91,413.64 L1575.27,413.62 L1577.89,413.61 L1580.94,413.61 L1584.75,413.60 L1592.60,413.60 L1599.26,413.60 L1602.74,413.61 L1605.56,413.61 L1608.03,413.62 L1610.26,413.64 L1612.33,413.65 L1614.26,413.67 L1616.08,413.69 L1617.81,413.71 L1619.47,413.74 L1621.06,413.77 L1622.60,413.80 L1624.08,413.84 L1625.52,413.88 L1626.92,413.92 L1628.28,413.96 L1629.61,414.01 L1630.90,414.06 L1632.17,414.11 L1633.40,414.16 L1634.62,414.22 L1635.80,414.28 L1636.97,414.35 L1638.11,414.41 L1639.23,414.48 L1640.34,414.55 L1641.42,414.63 L1642.49,414.71 L1643.54,414.79 L1644.57,414.87 L1645.59,414.96 L1646.59,415.04 L1647.58,415.14 L1648.55,415.23 L1649.52,415.33 L1650.46,415.43 L1651.40,415.53 L1652.32,415.63 L1653.23,415.74 L1654.13,415.85 L1655.02,415.97 L1655.90,416.08 L1656.77,416.20 L1657.62,416.33 L1658.47,416.45 L1659.31,416.58 L1660.13,416.71 L1660.95,416.84 L1661.76,416.98 L1662.55,417.12 L1663.34,417.26 L1664.12,417.40 L1664.89,417.55 L1665.66,417.70 L1666.41,417.85 L1667.16,418.01 L1667.89,418.17 L1668.62,418.33 L1669.35,418.49 L1670.06,418.66 L1670.76,418.83 L1671.46,419.00 L1672.15,419.17 L1672.84,419.35 L1673.51,419.53 L1674.18,419.71 L1674.84,419.90 L1675.49,420.09 L1676.14,420.28 L1676.78,420.47 L1677.41,420.67 L1678.04,420.87 L1678.66,421.07 L1679.27,421.27 L1679.87,421.48 L1680.47,421.69 L1681.06,421.90 L1681.65,422.12 L1682.23,422.33 L1682.80,422.56 L1683.36,422.78 L1683.92,423.01 L1684.47,423.23 L1685.02,423.47 L1685.56,423.70 L1686.09,423.94 L1686.62,424.18 L1687.14,424.42 L1687.66,424.66 L1688.16,424.91 L1688.67,425.16 L1689.16,425.42 L1689.65,425.67 L1690.14,425.93 L1690.61,426.19 L1691.09,426.46 L1691.55,426.72 L1692.01,426.99 L1692.47,427.26 L1692.91,427.54 L1693.36,427.82 L1693.79,428.10 L1694.22,428.38 L1694.65,428.67 L1695.07,428.96 L1695.48,429.25 L1695.89,429.54 L1696.29,429.84 L1696.68,430.14 L1697.07,430.44 L1697.46,430.75 L1697.84,431.05 L1698.21,431.36 L1698.58,431.68 L1698.94,432.00 L1699.29,432.31 L1699.64,432.64 L1699.99,432.96 L1700.32,433.29 L1700.66,433.62 L1700.98,433.95 L1701.31,434.29 L1701.62,434.63 L1701.93,434.97 L1702.24,435.32 L1702.54,435.67 L1702.83,436.02 L1703.12,436.37 L1703.40,436.73 L1703.68,437.09 L1703.95,437.46 L1704.21,437.82 L1704.47,438.19 L1704.73,438.57 L1704.98,438.94 L1705.22,439.32 L1705.46,439.71 L1705.69,440.09 L1705.92,440.49 L1706.14,440.88 L1706.35,441.28 L1706.56,441.68 L1706.77,442.08 L1706.97,442.49 L1707.16,442.90 L1707.35,443.32 L1707.53,443.74 L1707.71,444.17 L1707.88,444.60 L1708.05,445.03 L1708.21,445.47 L1708.36,445.91 L1708.51,446.36 L1708.66,446.81 L1708.80,447.27 L1708.93,447.73 L1709.06,448.20 L1709.18,448.67 L1709.30,449.15 L1709.41,449.64 L1709.52,450.13 L1709.62,450.63 L1709.71,451.14 L1709.80,451.65 L1709.89,452.18 L1709.97,452.71 L1710.04,453.26 L1710.11,453.81 L1710.17,454.38 L1710.23,454.96 L1710.28,455.55 L1710.33,456.16 L1710.37,456.79 L1710.40,457.45 L1710.43,458.13 L1710.46,458.84 L1710.48,459.61 L1710.49,460.43 L1710.50,461.38 L1710.50,462.75 L1710.50,463.77 L1710.49,464.55 L1710.48,465.26 L1710.46,465.93 L1710.44,466.56 L1710.41,467.17 L1710.38,467.76 L1710.34,468.34 L1710.30,468.90 L1710.26,469.46 L1710.21,470.00 L1710.15,470.53 L1710.09,471.05 L1710.02,471.57 L1709.95,472.07 L1709.88,472.58 L1709.80,473.07 L1709.71,473.56 L1709.62,474.04 L1709.53,474.52 L1709.43,474.99 L1709.32,475.46 L1709.21,475.93 L1709.10,476.39 L1708.98,476.84 L1708.86,477.29 L1708.73,477.74 L1708.59,478.18 L1708.45,478.62 L1708.31,479.06 L1708.16,479.49 L1708.01,479.92 L1707.85,480.34 L1707.69,480.76 L1707.52,481.18 L1707.34,481.59 L1707.17,482.01 L1706.98,482.41 L1706.79,482.82 L1706.60,483.22 L1706.40,483.62 L1706.20,484.02 L1705.99,484.41 L1705.78,484.80 L1705.56,485.19 L1705.34,485.57 L1705.11,485.95 L1704.88,486.33 L1704.64,486.71 L1704.39,487.08 L1704.15,487.45 L1703.89,487.82 L1703.63,488.18 L1703.37,488.55 L1703.10,488.91 L1702.83,489.26 L1702.55,489.62 L1702.26,489.97 L1701.97,490.32 L1701.68,490.66 L1701.38,491.00 L1701.08,491.35 L1700.77,491.68 L1700.45,492.02 L1700.13,492.35 L1699.80,492.68 L1699.47,493.01 L1699.14,493.33 L1698.80,493.65 L1698.45,493.97 L1698.10,494.29 L1697.74,494.60 L1697.38,494.91 L1697.01,495.22 L1696.63,495.53 L1696.25,495.83 L1695.87,496.13 L1695.48,496.43 L1695.08,496.72 L1694.68,497.01 L1694.27,497.30 L1693.86,497.59 L1693.44,497.88 L1693.02,498.16 L1692.59,498.44 L1692.16,498.71 L1691.72,498.98 L1691.27,499.26 L1690.82,499.52 L1690.36,499.79 L1689.89,500.05 L1689.42,500.31 L1688.95,500.57 L1688.47,500.82 L1687.98,501.07 L1687.48,501.32 L1686.98,501.57 L1686.48,501.81 L1685.97,502.05 L1685.45,502.29 L1684.92,502.52 L1684.39,502.76 L1683.85,502.99 L1683.31,503.21 L1682.76,503.44 L1682.20,503.66 L1681.64,503.88 L1681.06,504.09 L1680.49,504.30 L1679.90,504.51 L1679.31,504.72 L1678.71,504.92 L1678.11,505.13 L1677.49,505.32 L1676.87,505.52 L1676.24,505.71 L1675.61,505.90 L1674.97,506.09 L1674.32,506.27 L1673.66,506.45 L1672.99,506.63 L1672.32,506.81 L1671.63,506.98 L1670.94,507.15 L1670.24,507.32 L1669.54,507.48 L1668.82,507.64 L1668.09,507.80 L1667.36,507.96 L1666.62,508.11 L1665.86,508.26 L1665.10,508.40 L1664.33,508.55 L1663.54,508.69 L1662.75,508.82 L1661.94,508.96 L1661.13,509.09 L1660.30,509.22 L1659.47,509.34 L1658.62,509.47 L1657.75,509.59 L1656.88,509.70 L1655.99,509.82 L1655.09,509.93 L1654.18,510.03 L1653.25,510.14 L1652.31,510.24 L1651.35,510.34 L1650.37,510.44 L1649.38,510.53 L1648.37,510.62 L1647.35,510.70 L1646.30,510.79 L1645.24,510.87 L1644.15,510.95 L1643.04,511.02 L1641.91,511.09 L1640.76,511.16 L1639.57,511.23 L1638.36,511.29 L1637.12,511.35 L1635.85,511.41 L1634.55,511.46 L1633.20,511.51 L1631.82,511.56 L1630.39,511.60 L1628.92,511.64 L1627.38,511.68 L1625.79,511.72 L1624.13,511.75 L1622.39,511.78 L1620.55,511.80 L1618.61,511.83 L1616.53,511.85 L1614.29,511.86 L1611.82,511.88 L1609.06,511.89 L1605.82,511.89 L1601.69,511.90 L1592.60,511.90 L1582.88,511.90 L1578.60,511.89 L1575.27,511.89 L1572.44,511.87 L1569.92,511.86 L1567.64,511.84 L1565.54,511.82 L1563.57,511.79 L1561.72,511.77 L1559.96,511.73 L1558.28,511.70 L1556.68,511.66 L1555.14,511.62 L1553.66,511.57 L1552.23,511.53 L1550.84,511.47 L1549.50,511.42 L1548.19,511.36 L1546.92,511.30 L1545.68,511.24 L1544.47,511.17 L1543.30,511.10 L1542.14,511.02 L1541.02,510.94 L1539.91,510.86 L1538.83,510.78 L1537.77,510.69 L1536.74,510.60 L1535.72,510.51 L1534.72,510.41 L1533.73,510.31 L1532.77,510.20 L1531.81,510.10 L1530.88,509.99 L1529.96,509.87 L1529.05,509.76 L1528.16,509.64 L1527.29,509.51 L1526.42,509.39 L1525.57,509.26 L1524.73,509.12 L1523.90,508.99 L1523.08,508.85 L1522.28,508.71 L1521.49,508.56 L1520.70,508.41 L1519.93,508.26 L1519.17,508.10 L1518.41,507.95 L1517.67,507.78 L1516.94,507.62 L1516.21,507.45 L1515.50,507.28 L1514.79,507.11 L1514.10,506.93 L1513.41,506.75 L1512.73,506.57 L1512.06,506.38 L1511.39,506.19 L1510.74,506.00 L1510.09,505.81 L1509.45,505.61 L1508.82,505.41 L1508.20,505.20 L1507.58,504.99 L1506.97,504.78 L1506.37,504.57 L1505.77,504.35 L1505.19,504.14 L1504.61,503.91 L1504.03,503.69 L1503.46,503.46 L1502.90,503.23 L1502.35,503.00 L1501.80,502.76 L1501.26,502.52 L1500.73,502.28 L1500.20,502.03 L1499.68,501.78 L1499.17,501.53 L1498.66,501.28 L1498.16,501.02 L1497.66,500.76 L1497.17,500.50 L1496.69,500.24 L1496.21,499.97 L1495.74,499.70 L1495.27,499.42 L1494.81,499.15 L1494.36,498.87 L1493.91,498.59 L1493.47,498.30 L1493.03,498.02 L1492.60,497.73 L1492.17,497.43 L1491.75,497.14 L1491.34,496.84 L1490.93,496.54 L1490.53,496.24 L1490.13,495.93 L1489.74,495.63 L1489.35,495.31 L1488.97,495.00 L1488.59,494.69 L1488.22,494.37 L1487.86,494.05 L1487.50,493.72 L1487.14,493.40 L1486.79,493.07 L1486.45,492.74 L1486.11,492.40 L1485.78,492.07 L1485.45,491.73 L1485.13,491.39 L1484.81,491.05 L1484.50,490.70 L1484.19,490.35 L1483.89,490.00 L1483.59,489.65 L1483.30,489.29 L1483.01,488.93 L1482.73,488.57 L1482.45,488.21 L1482.18,487.85 L1481.91,487.48 L1481.65,487.11 L1481.39,486.74 L1481.14,486.36 L1480.89,485.99 L1480.65,485.61 L1480.41,485.23 L1480.18,484.84 L1479.95,484.46 L1479.73,484.07 L1479.51,483.68 L1479.30,483.28 L1479.09,482.89 L1478.89,482.49 L1478.69,482.09 L1478.50,481.69 L1478.31,481.28 L1478.13,480.88 L1477.95,480.47 L1477.77,480.06 L1477.60,479.64 L1477.44,479.22 L1477.28,478.80 L1477.13,478.38 L1476.98,477.96 L1476.83,477.53 L1476.69,477.10 L1476.56,476.67 L1476.43,476.24 L1476.30,475.80 L1476.18,475.36 L1476.06,474.92 L1475.95,474.47 L1475.85,474.02 L1475.74,473.57 L1475.65,473.12 L1475.55,472.66 L1475.47,472.20 L1475.38,471.73 L1475.31,471.27 L1475.23,470.79 L1475.16,470.32 L1475.10,469.84 L1475.04,469.35 L1474.99,468.86 L1474.94,468.37 L1474.89,467.87 L1474.85,467.36 L1474.82,466.84 L1474.79,466.32 L1474.76,465.79 L1474.74,465.24 L1474.72,464.68 L1474.71,464.10 L1474.70,463.48Z" fill="none" stroke="#000" stroke-width="2.2" />
<rect x="1581.3" y="453.5" width="22.6" height="18.4" rx="5" fill="none" stroke="#000" stroke-width="4.2" />
<circle cx="1592.6" cy="462.7" r="6.6" fill="none" stroke="#000" stroke-width="1.5"/>
<circle cx="1592.6" cy="462.7" r="3.2" fill="none" stroke="#000" stroke-width="1.8"/>
<line x1="1592.6" y1="511.5" x2="1592.6" y2="522" stroke="#000" stroke-width="1.4" />
<line x1="1574" y1="526.3" x2="1611.4" y2="526.3" stroke="#000" stroke-width="3.2" />
<circle cx="1457.9" cy="415.3" r="12.9" fill="#000" stroke="#000" stroke-width="1"/>
<circle cx="1457.9" cy="415.3" r="7.5" fill="none" stroke="#fff" stroke-width="1.6"/>
<circle cx="1457.9" cy="415.3" r="2.6" fill="#000" stroke="#000" stroke-width="1"/>
<polygon points="1455.6,426 1460.2,426 1460.2,432 1455.6,432" fill="#000"/>
<polygon points="1440,442 1466,442 1466,488.5 1440,488.5" fill="none" stroke="#000" stroke-width="2.8" />
<polygon points="1444,446 1461,446 1461,470 1444,470" fill="none" stroke="#000" stroke-width="2" />
<line x1="1452.5" y1="436" x2="1452.5" y2="497" stroke="#000" stroke-width="2" />
<polygon points="1438.8,470 1467,470 1467,474 1438.8,474" fill="#000"/>
<polygon points="1438.8,485.5 1467,485.5 1467,489 1438.8,489" fill="#000"/>
<polygon points="1441,474 1465,474 1465,485.5 1441,485.5" fill="none" stroke="#000" stroke-width="1.8" />
<circle cx="1454.5" cy="480" r="5.5" fill="none" stroke="#000" stroke-width="2.2"/>
<circle cx="1456.3" cy="436.5" r="2.6" fill="none" stroke="#000" stroke-width="2.2"/>
<polygon points="1447,488.5 1459.5,488.5 1459.5,495.5 1447,495.5" fill="none" stroke="#000" stroke-width="2" />
<polygon points="1468.5,446.3 1472.5,448.3 1472.5,453.3 1468.5,454.3" fill="#000" stroke="#000" stroke-width="1" />
<polygon points="1468.5,467.7 1472.5,469.7 1472.5,474.7 1468.5,475.7" fill="#000" stroke="#000" stroke-width="1" />
<path d="M1447,495 C1447.83,496.33 1449.5,500.33 1452,503 C1454.5,505.67 1458,508.5 1462,511 C1466,513.5 1473.67,516.83 1476,518" fill="none" stroke="#000" stroke-width="1.8" />
<path d="M1455,495 C1456.17,496.17 1459.17,499.83 1462,502 C1464.83,504.17 1468.33,506.17 1472,508 C1475.67,509.83 1482,512.17 1484,513" fill="none" stroke="#000" stroke-width="1.8" />
<polygon points="1442.2,507.6 1485,507.6 1485,521.3 1442.2,521.3" fill="none" stroke="#000" stroke-width="2.2" />
<line x1="1442.2" y1="519.5" x2="1485" y2="519.5" stroke="#000" stroke-width="2.6" />
<line x1="1453" y1="510" x2="1460" y2="514" stroke="#000" stroke-width="2" />
<line x1="1463" y1="512" x2="1470" y2="517" stroke="#000" stroke-width="2" />
<polygon points="1753.55,910.4 1438.65,910.4 1438.65,1050.9 1753.55,1050.9" fill="none" stroke="#000" stroke-width="2.3" />
<path d="M1751.45,983.90 L1751.45,982.59 L1751.44,981.62 L1751.42,980.75 L1751.40,979.93 L1751.38,979.16 L1751.35,978.41 L1751.31,977.70 L1751.27,977.00 L1751.22,976.32 L1751.16,975.65 L1751.10,975.00 L1751.03,974.36 L1750.96,973.73 L1750.88,973.11 L1750.80,972.50 L1750.71,971.90 L1750.62,971.31 L1750.52,970.73 L1750.41,970.15 L1750.30,969.58 L1750.18,969.02 L1750.05,968.46 L1749.92,967.91 L1749.79,967.36 L1749.65,966.82 L1749.50,966.29 L1749.34,965.76 L1749.19,965.23 L1749.02,964.71 L1748.85,964.20 L1748.67,963.68 L1748.49,963.18 L1748.30,962.67 L1748.11,962.18 L1747.91,961.68 L1747.70,961.19 L1747.49,960.71 L1747.27,960.23 L1747.04,959.75 L1746.81,959.27 L1746.58,958.80 L1746.34,958.34 L1746.09,957.87 L1745.83,957.41 L1745.57,956.96 L1745.31,956.50 L1745.04,956.06 L1744.76,955.61 L1744.47,955.17 L1744.18,954.73 L1743.89,954.30 L1743.58,953.86 L1743.27,953.44 L1742.96,953.01 L1742.64,952.59 L1742.31,952.17 L1741.98,951.76 L1741.64,951.34 L1741.29,950.94 L1740.94,950.53 L1740.58,950.13 L1740.22,949.73 L1739.85,949.33 L1739.47,948.94 L1739.08,948.55 L1738.69,948.17 L1738.30,947.78 L1737.89,947.41 L1737.48,947.03 L1737.07,946.66 L1736.65,946.29 L1736.22,945.92 L1735.78,945.56 L1735.34,945.20 L1734.89,944.84 L1734.43,944.49 L1733.97,944.14 L1733.50,943.79 L1733.02,943.44 L1732.54,943.10 L1732.05,942.76 L1731.55,942.43 L1731.05,942.10 L1730.54,941.77 L1730.02,941.45 L1729.50,941.12 L1728.97,940.81 L1728.43,940.49 L1727.88,940.18 L1727.33,939.87 L1726.76,939.56 L1726.20,939.26 L1725.62,938.96 L1725.04,938.66 L1724.44,938.37 L1723.85,938.08 L1723.24,937.80 L1722.62,937.51 L1722.00,937.23 L1721.37,936.96 L1720.73,936.68 L1720.09,936.41 L1719.43,936.15 L1718.77,935.88 L1718.10,935.62 L1717.42,935.37 L1716.73,935.11 L1716.03,934.86 L1715.33,934.61 L1714.61,934.37 L1713.89,934.13 L1713.16,933.89 L1712.42,933.66 L1711.66,933.43 L1710.90,933.20 L1710.13,932.98 L1709.35,932.76 L1708.56,932.54 L1707.76,932.33 L1706.95,932.12 L1706.13,931.91 L1705.30,931.70 L1704.46,931.50 L1703.61,931.31 L1702.74,931.11 L1701.87,930.92 L1700.98,930.74 L1700.08,930.55 L1699.17,930.37 L1698.24,930.20 L1697.31,930.02 L1696.36,929.85 L1695.39,929.69 L1694.42,929.53 L1693.43,929.37 L1692.42,929.21 L1691.40,929.06 L1690.37,928.91 L1689.32,928.76 L1688.25,928.62 L1687.17,928.48 L1686.07,928.35 L1684.95,928.21 L1683.81,928.09 L1682.66,927.96 L1681.48,927.84 L1680.29,927.72 L1679.07,927.61 L1677.83,927.50 L1676.57,927.39 L1675.28,927.29 L1673.97,927.18 L1672.63,927.09 L1671.26,926.99 L1669.87,926.90 L1668.44,926.82 L1666.98,926.73 L1665.48,926.66 L1663.95,926.58 L1662.38,926.51 L1660.76,926.44 L1659.10,926.37 L1657.39,926.31 L1655.62,926.25 L1653.79,926.20 L1651.90,926.15 L1649.94,926.10 L1647.90,926.05 L1645.76,926.01 L1643.52,925.98 L1641.16,925.94 L1638.67,925.91 L1636.00,925.89 L1633.13,925.86 L1630.00,925.84 L1626.54,925.83 L1622.58,925.82 L1617.88,925.81 L1611.70,925.80 L1596.35,925.80 L1583.56,925.80 L1577.93,925.81 L1573.55,925.81 L1569.82,925.83 L1566.52,925.84 L1563.52,925.86 L1560.75,925.88 L1558.16,925.90 L1555.72,925.93 L1553.41,925.96 L1551.21,926.00 L1549.10,926.04 L1547.07,926.08 L1545.12,926.12 L1543.24,926.17 L1541.41,926.22 L1539.65,926.27 L1537.93,926.33 L1536.26,926.39 L1534.63,926.46 L1533.04,926.52 L1531.49,926.59 L1529.97,926.67 L1528.49,926.74 L1527.04,926.82 L1525.62,926.91 L1524.23,926.99 L1522.86,927.08 L1521.52,927.18 L1520.20,927.27 L1518.91,927.37 L1517.64,927.48 L1516.39,927.58 L1515.16,927.69 L1513.95,927.80 L1512.75,927.92 L1511.58,928.04 L1510.43,928.16 L1509.29,928.29 L1508.17,928.42 L1507.06,928.55 L1505.98,928.68 L1504.90,928.82 L1503.84,928.96 L1502.80,929.11 L1501.77,929.26 L1500.75,929.41 L1499.75,929.56 L1498.76,929.72 L1497.78,929.88 L1496.82,930.05 L1495.86,930.22 L1494.92,930.39 L1493.99,930.56 L1493.08,930.74 L1492.17,930.92 L1491.28,931.10 L1490.39,931.29 L1489.52,931.48 L1488.66,931.67 L1487.81,931.87 L1486.97,932.07 L1486.14,932.27 L1485.32,932.48 L1484.50,932.69 L1483.70,932.90 L1482.91,933.11 L1482.13,933.33 L1481.35,933.56 L1480.59,933.78 L1479.84,934.01 L1479.09,934.24 L1478.35,934.48 L1477.63,934.71 L1476.91,934.96 L1476.20,935.20 L1475.49,935.45 L1474.80,935.70 L1474.11,935.95 L1473.44,936.21 L1472.77,936.47 L1472.11,936.73 L1471.46,937.00 L1470.81,937.27 L1470.18,937.54 L1469.55,937.82 L1468.93,938.10 L1468.31,938.38 L1467.71,938.67 L1467.11,938.95 L1466.52,939.25 L1465.94,939.54 L1465.36,939.84 L1464.80,940.14 L1464.24,940.45 L1463.69,940.76 L1463.14,941.07 L1462.60,941.38 L1462.07,941.70 L1461.55,942.02 L1461.03,942.34 L1460.52,942.67 L1460.02,943.00 L1459.53,943.34 L1459.04,943.67 L1458.56,944.01 L1458.09,944.36 L1457.62,944.71 L1457.16,945.06 L1456.71,945.41 L1456.26,945.77 L1455.82,946.13 L1455.39,946.49 L1454.97,946.86 L1454.55,947.23 L1454.14,947.60 L1453.73,947.98 L1453.33,948.36 L1452.94,948.74 L1452.56,949.13 L1452.18,949.52 L1451.81,949.92 L1451.44,950.31 L1451.09,950.72 L1450.74,951.12 L1450.39,951.53 L1450.05,951.94 L1449.72,952.36 L1449.39,952.78 L1449.08,953.20 L1448.76,953.63 L1448.46,954.06 L1448.16,954.50 L1447.87,954.94 L1447.58,955.38 L1447.30,955.83 L1447.03,956.28 L1446.76,956.73 L1446.50,957.19 L1446.25,957.66 L1446.00,958.12 L1445.76,958.60 L1445.52,959.07 L1445.29,959.56 L1445.07,960.04 L1444.85,960.53 L1444.65,961.03 L1444.44,961.53 L1444.24,962.04 L1444.05,962.55 L1443.87,963.07 L1443.69,963.59 L1443.52,964.12 L1443.36,964.66 L1443.20,965.20 L1443.04,965.75 L1442.90,966.30 L1442.76,966.87 L1442.62,967.44 L1442.49,968.02 L1442.37,968.60 L1442.26,969.20 L1442.15,969.80 L1442.05,970.42 L1441.95,971.04 L1441.86,971.68 L1441.78,972.33 L1441.70,972.99 L1441.63,973.67 L1441.56,974.37 L1441.50,975.08 L1441.45,975.82 L1441.40,976.58 L1441.36,977.37 L1441.33,978.19 L1441.30,979.06 L1441.28,979.99 L1441.26,981.00 L1441.25,982.17 L1441.25,983.90 L1441.25,985.13 L1441.26,986.10 L1441.28,986.98 L1441.30,987.81 L1441.32,988.61 L1441.36,989.39 L1441.39,990.14 L1441.44,990.87 L1441.49,991.59 L1441.55,992.29 L1441.61,992.98 L1441.68,993.66 L1441.75,994.33 L1441.83,994.99 L1441.91,995.65 L1442.01,996.29 L1442.10,996.93 L1442.21,997.56 L1442.32,998.18 L1442.43,998.80 L1442.55,999.41 L1442.68,1000.02 L1442.81,1000.62 L1442.95,1001.22 L1443.10,1001.80 L1443.25,1002.39 L1443.41,1002.97 L1443.57,1003.55 L1443.74,1004.12 L1443.92,1004.68 L1444.10,1005.24 L1444.28,1005.80 L1444.48,1006.35 L1444.68,1006.90 L1444.88,1007.45 L1445.09,1007.99 L1445.31,1008.53 L1445.53,1009.06 L1445.76,1009.59 L1446.00,1010.12 L1446.24,1010.64 L1446.49,1011.16 L1446.74,1011.67 L1447.00,1012.18 L1447.27,1012.69 L1447.54,1013.19 L1447.82,1013.69 L1448.11,1014.19 L1448.40,1014.68 L1448.69,1015.17 L1449.00,1015.66 L1449.31,1016.14 L1449.62,1016.62 L1449.95,1017.09 L1450.27,1017.57 L1450.61,1018.03 L1450.95,1018.50 L1451.30,1018.96 L1451.65,1019.42 L1452.01,1019.87 L1452.38,1020.33 L1452.75,1020.77 L1453.13,1021.22 L1453.52,1021.66 L1453.91,1022.10 L1454.31,1022.53 L1454.72,1022.96 L1455.13,1023.39 L1455.55,1023.81 L1455.97,1024.24 L1456.41,1024.65 L1456.84,1025.07 L1457.29,1025.48 L1457.74,1025.88 L1458.20,1026.29 L1458.67,1026.69 L1459.14,1027.08 L1459.62,1027.48 L1460.11,1027.87 L1460.60,1028.25 L1461.10,1028.63 L1461.61,1029.01 L1462.12,1029.39 L1462.64,1029.76 L1463.17,1030.13 L1463.71,1030.50 L1464.25,1030.86 L1464.80,1031.22 L1465.36,1031.57 L1465.93,1031.92 L1466.50,1032.27 L1467.08,1032.61 L1467.67,1032.95 L1468.26,1033.29 L1468.87,1033.62 L1469.48,1033.95 L1470.10,1034.28 L1470.72,1034.60 L1471.36,1034.92 L1472.00,1035.23 L1472.65,1035.55 L1473.31,1035.85 L1473.98,1036.16 L1474.65,1036.46 L1475.34,1036.75 L1476.03,1037.05 L1476.73,1037.34 L1477.44,1037.62 L1478.16,1037.90 L1478.89,1038.18 L1479.62,1038.46 L1480.37,1038.73 L1481.12,1039.00 L1481.89,1039.26 L1482.66,1039.52 L1483.44,1039.77 L1484.24,1040.03 L1485.04,1040.27 L1485.85,1040.52 L1486.68,1040.76 L1487.51,1041.00 L1488.36,1041.23 L1489.21,1041.46 L1490.08,1041.68 L1490.96,1041.91 L1491.85,1042.12 L1492.75,1042.34 L1493.66,1042.55 L1494.58,1042.75 L1495.52,1042.95 L1496.47,1043.15 L1497.43,1043.35 L1498.41,1043.54 L1499.40,1043.72 L1500.40,1043.91 L1501.42,1044.09 L1502.45,1044.26 L1503.50,1044.43 L1504.56,1044.60 L1505.64,1044.76 L1506.74,1044.92 L1507.85,1045.08 L1508.98,1045.23 L1510.13,1045.37 L1511.30,1045.52 L1512.49,1045.66 L1513.69,1045.79 L1514.92,1045.92 L1516.17,1046.05 L1517.44,1046.17 L1518.74,1046.29 L1520.06,1046.41 L1521.41,1046.52 L1522.79,1046.63 L1524.19,1046.73 L1525.63,1046.83 L1527.10,1046.93 L1528.60,1047.02 L1530.14,1047.10 L1531.72,1047.19 L1533.34,1047.27 L1535.01,1047.34 L1536.72,1047.41 L1538.49,1047.48 L1540.31,1047.54 L1542.20,1047.60 L1544.17,1047.66 L1546.20,1047.71 L1548.33,1047.75 L1550.56,1047.80 L1552.91,1047.84 L1555.39,1047.87 L1558.03,1047.90 L1560.87,1047.93 L1563.96,1047.95 L1567.38,1047.97 L1571.26,1047.98 L1575.86,1047.99 L1581.86,1048.00 L1596.35,1048.00 L1614.76,1048.00 L1621.49,1047.99 L1626.52,1047.98 L1630.68,1047.96 L1634.30,1047.94 L1637.54,1047.92 L1640.49,1047.89 L1643.22,1047.85 L1645.76,1047.82 L1648.15,1047.77 L1650.41,1047.73 L1652.56,1047.67 L1654.61,1047.62 L1656.58,1047.56 L1658.46,1047.49 L1660.28,1047.42 L1662.03,1047.34 L1663.73,1047.27 L1665.37,1047.18 L1666.96,1047.09 L1668.51,1047.00 L1670.02,1046.90 L1671.49,1046.80 L1672.92,1046.70 L1674.31,1046.59 L1675.68,1046.47 L1677.01,1046.35 L1678.31,1046.23 L1679.59,1046.10 L1680.84,1045.97 L1682.06,1045.83 L1683.26,1045.69 L1684.44,1045.54 L1685.59,1045.39 L1686.73,1045.24 L1687.84,1045.08 L1688.94,1044.91 L1690.01,1044.75 L1691.07,1044.57 L1692.11,1044.40 L1693.14,1044.22 L1694.14,1044.03 L1695.13,1043.84 L1696.11,1043.65 L1697.07,1043.45 L1698.02,1043.25 L1698.95,1043.04 L1699.87,1042.83 L1700.77,1042.61 L1701.67,1042.39 L1702.55,1042.17 L1703.41,1041.94 L1704.27,1041.71 L1705.11,1041.48 L1705.94,1041.24 L1706.76,1040.99 L1707.57,1040.74 L1708.37,1040.49 L1709.16,1040.23 L1709.93,1039.97 L1710.70,1039.71 L1711.46,1039.44 L1712.20,1039.17 L1712.94,1038.89 L1713.67,1038.61 L1714.38,1038.32 L1715.09,1038.03 L1715.79,1037.74 L1716.48,1037.44 L1717.16,1037.14 L1717.84,1036.84 L1718.50,1036.53 L1719.15,1036.22 L1719.80,1035.90 L1720.44,1035.58 L1721.07,1035.26 L1721.69,1034.93 L1722.31,1034.60 L1722.91,1034.26 L1723.51,1033.93 L1724.10,1033.58 L1724.68,1033.24 L1725.26,1032.89 L1725.83,1032.53 L1726.39,1032.18 L1726.94,1031.81 L1727.48,1031.45 L1728.02,1031.08 L1728.55,1030.71 L1729.08,1030.33 L1729.60,1029.96 L1730.11,1029.57 L1730.61,1029.19 L1731.11,1028.80 L1731.59,1028.41 L1732.08,1028.01 L1732.55,1027.61 L1733.02,1027.21 L1733.49,1026.80 L1733.94,1026.39 L1734.39,1025.98 L1734.83,1025.56 L1735.27,1025.14 L1735.70,1024.72 L1736.12,1024.30 L1736.54,1023.87 L1736.95,1023.44 L1737.36,1023.00 L1737.76,1022.56 L1738.15,1022.12 L1738.54,1021.68 L1738.92,1021.23 L1739.29,1020.78 L1739.66,1020.32 L1740.02,1019.87 L1740.38,1019.41 L1740.73,1018.94 L1741.07,1018.48 L1741.41,1018.01 L1741.74,1017.54 L1742.07,1017.06 L1742.39,1016.59 L1742.70,1016.11 L1743.01,1015.62 L1743.31,1015.14 L1743.61,1014.65 L1743.90,1014.16 L1744.19,1013.66 L1744.47,1013.17 L1744.74,1012.67 L1745.01,1012.17 L1745.27,1011.66 L1745.53,1011.15 L1745.78,1010.64 L1746.03,1010.13 L1746.27,1009.61 L1746.50,1009.10 L1746.73,1008.58 L1746.96,1008.05 L1747.17,1007.53 L1747.39,1007.00 L1747.59,1006.47 L1747.80,1005.94 L1747.99,1005.40 L1748.18,1004.86 L1748.37,1004.32 L1748.55,1003.78 L1748.72,1003.23 L1748.89,1002.68 L1749.05,1002.13 L1749.21,1001.58 L1749.36,1001.02 L1749.51,1000.46 L1749.65,999.90 L1749.79,999.34 L1749.92,998.77 L1750.04,998.20 L1750.16,997.63 L1750.28,997.05 L1750.39,996.48 L1750.49,995.90 L1750.59,995.31 L1750.68,994.73 L1750.77,994.14 L1750.85,993.54 L1750.93,992.95 L1751.00,992.35 L1751.07,991.74 L1751.13,991.14 L1751.18,990.52 L1751.23,989.91 L1751.28,989.28 L1751.32,988.66 L1751.35,988.02 L1751.38,987.38 L1751.41,986.73 L1751.43,986.06 L1751.44,985.38 L1751.45,984.68Z" fill="none" stroke="#000" stroke-width="2.2" />
<path d="M1449.85,983.90 L1449.86,987.03 L1449.87,988.87 L1449.91,990.41 L1449.95,991.79 L1450.00,993.06 L1450.07,994.24 L1450.15,995.35 L1450.25,996.42 L1450.35,997.43 L1450.47,998.41 L1450.60,999.36 L1450.74,1000.27 L1450.90,1001.16 L1451.07,1002.03 L1451.25,1002.87 L1451.44,1003.69 L1451.65,1004.50 L1451.86,1005.28 L1452.09,1006.05 L1452.34,1006.81 L1452.59,1007.54 L1452.86,1008.27 L1453.14,1008.98 L1453.44,1009.68 L1453.74,1010.37 L1454.06,1011.04 L1454.39,1011.70 L1454.74,1012.36 L1455.10,1013.00 L1455.47,1013.63 L1455.85,1014.25 L1456.25,1014.86 L1456.66,1015.46 L1457.08,1016.06 L1457.52,1016.64 L1457.97,1017.22 L1458.43,1017.78 L1458.90,1018.34 L1459.39,1018.89 L1459.90,1019.43 L1460.41,1019.96 L1460.94,1020.49 L1461.48,1021.00 L1462.04,1021.51 L1462.61,1022.02 L1463.20,1022.51 L1463.79,1023.00 L1464.41,1023.48 L1465.03,1023.95 L1465.68,1024.41 L1466.33,1024.87 L1467.00,1025.32 L1467.68,1025.76 L1468.38,1026.20 L1469.10,1026.63 L1469.83,1027.05 L1470.57,1027.46 L1471.33,1027.87 L1472.10,1028.27 L1472.89,1028.66 L1473.70,1029.05 L1474.52,1029.43 L1475.36,1029.81 L1476.21,1030.17 L1477.09,1030.53 L1477.97,1030.89 L1478.88,1031.23 L1479.80,1031.57 L1480.74,1031.91 L1481.70,1032.23 L1482.67,1032.55 L1483.66,1032.87 L1484.68,1033.18 L1485.71,1033.48 L1486.76,1033.77 L1487.83,1034.06 L1488.92,1034.34 L1490.03,1034.61 L1491.16,1034.88 L1492.31,1035.14 L1493.49,1035.40 L1494.69,1035.65 L1495.91,1035.89 L1497.16,1036.12 L1498.43,1036.35 L1499.73,1036.58 L1501.05,1036.79 L1502.40,1037.00 L1503.78,1037.20 L1505.18,1037.40 L1506.62,1037.59 L1508.09,1037.77 L1509.60,1037.95 L1511.13,1038.12 L1512.71,1038.29 L1514.32,1038.44 L1515.97,1038.60 L1517.67,1038.74 L1519.41,1038.88 L1521.19,1039.01 L1523.03,1039.14 L1524.93,1039.26 L1526.88,1039.37 L1528.90,1039.48 L1530.99,1039.58 L1533.15,1039.67 L1535.40,1039.76 L1537.74,1039.84 L1540.19,1039.91 L1542.75,1039.98 L1545.46,1040.04 L1548.32,1040.09 L1551.38,1040.14 L1554.66,1040.18 L1558.25,1040.22 L1562.22,1040.25 L1566.74,1040.27 L1572.11,1040.29 L1579.13,1040.30 L1596.35,1040.30 L1611.35,1040.30 L1617.96,1040.29 L1623.10,1040.27 L1627.47,1040.25 L1631.34,1040.22 L1634.86,1040.19 L1638.10,1040.15 L1641.13,1040.10 L1643.99,1040.05 L1646.69,1039.99 L1649.26,1039.92 L1651.72,1039.85 L1654.08,1039.77 L1656.35,1039.69 L1658.55,1039.60 L1660.66,1039.50 L1662.72,1039.40 L1664.71,1039.29 L1666.64,1039.17 L1668.52,1039.05 L1670.35,1038.92 L1672.14,1038.79 L1673.88,1038.65 L1675.58,1038.50 L1677.24,1038.35 L1678.86,1038.19 L1680.45,1038.03 L1682.01,1037.85 L1683.53,1037.68 L1685.02,1037.49 L1686.48,1037.30 L1687.91,1037.10 L1689.31,1036.90 L1690.69,1036.69 L1692.04,1036.48 L1693.36,1036.25 L1694.66,1036.02 L1695.93,1035.79 L1697.19,1035.55 L1698.42,1035.30 L1699.62,1035.05 L1700.81,1034.79 L1701.97,1034.52 L1703.11,1034.25 L1704.24,1033.97 L1705.34,1033.68 L1706.42,1033.39 L1707.49,1033.09 L1708.53,1032.79 L1709.56,1032.48 L1710.56,1032.16 L1711.55,1031.83 L1712.52,1031.50 L1713.48,1031.16 L1714.41,1030.82 L1715.33,1030.47 L1716.23,1030.11 L1717.12,1029.75 L1717.99,1029.38 L1718.84,1029.00 L1719.68,1028.62 L1720.49,1028.22 L1721.30,1027.83 L1722.09,1027.42 L1722.86,1027.01 L1723.62,1026.59 L1724.36,1026.17 L1725.08,1025.73 L1725.79,1025.29 L1726.49,1024.85 L1727.17,1024.39 L1727.83,1023.93 L1728.49,1023.46 L1729.12,1022.98 L1729.74,1022.50 L1730.35,1022.01 L1730.94,1021.51 L1731.52,1021.00 L1732.08,1020.49 L1732.63,1019.96 L1733.17,1019.43 L1733.69,1018.89 L1734.19,1018.34 L1734.69,1017.79 L1735.17,1017.22 L1735.63,1016.64 L1736.08,1016.06 L1736.52,1015.47 L1736.94,1014.86 L1737.35,1014.25 L1737.75,1013.62 L1738.13,1012.99 L1738.50,1012.34 L1738.85,1011.69 L1739.19,1011.02 L1739.52,1010.34 L1739.83,1009.64 L1740.13,1008.94 L1740.42,1008.22 L1740.69,1007.48 L1740.95,1006.73 L1741.20,1005.96 L1741.43,1005.18 L1741.65,1004.37 L1741.86,1003.55 L1742.05,1002.70 L1742.23,1001.84 L1742.39,1000.94 L1742.55,1000.02 L1742.69,999.06 L1742.81,998.07 L1742.93,997.04 L1743.03,995.96 L1743.11,994.82 L1743.18,993.61 L1743.24,992.31 L1743.29,990.88 L1743.32,989.28 L1743.34,987.34 L1743.35,983.90" fill="none" stroke="#000" stroke-width="2" />
<path d="M1713.85,984.35 L1713.85,983.16 L1713.84,982.30 L1713.83,981.53 L1713.81,980.81 L1713.79,980.14 L1713.76,979.49 L1713.72,978.87 L1713.69,978.26 L1713.64,977.67 L1713.59,977.10 L1713.54,976.54 L1713.48,975.99 L1713.42,975.45 L1713.35,974.92 L1713.27,974.40 L1713.19,973.88 L1713.11,973.38 L1713.02,972.88 L1712.92,972.39 L1712.82,971.90 L1712.72,971.42 L1712.61,970.94 L1712.49,970.47 L1712.37,970.01 L1712.24,969.55 L1712.11,969.10 L1711.98,968.65 L1711.84,968.20 L1711.69,967.76 L1711.54,967.32 L1711.38,966.89 L1711.22,966.46 L1711.05,966.04 L1710.88,965.62 L1710.70,965.20 L1710.52,964.78 L1710.33,964.37 L1710.14,963.97 L1709.94,963.56 L1709.73,963.16 L1709.52,962.77 L1709.31,962.37 L1709.09,961.98 L1708.86,961.60 L1708.63,961.21 L1708.40,960.83 L1708.16,960.45 L1707.91,960.08 L1707.66,959.71 L1707.41,959.34 L1707.14,958.97 L1706.88,958.61 L1706.60,958.25 L1706.33,957.89 L1706.04,957.54 L1705.75,957.19 L1705.46,956.84 L1705.16,956.49 L1704.86,956.15 L1704.55,955.81 L1704.23,955.48 L1703.91,955.14 L1703.58,954.81 L1703.25,954.48 L1702.92,954.16 L1702.57,953.83 L1702.23,953.51 L1701.87,953.19 L1701.51,952.88 L1701.15,952.57 L1700.78,952.26 L1700.40,951.95 L1700.02,951.65 L1699.63,951.35 L1699.24,951.05 L1698.84,950.75 L1698.44,950.46 L1698.03,950.17 L1697.62,949.88 L1697.19,949.60 L1696.77,949.32 L1696.34,949.04 L1695.90,948.76 L1695.45,948.49 L1695.00,948.21 L1694.55,947.95 L1694.09,947.68 L1693.62,947.42 L1693.15,947.16 L1692.67,946.90 L1692.18,946.64 L1691.69,946.39 L1691.19,946.14 L1690.69,945.89 L1690.18,945.65 L1689.66,945.41 L1689.14,945.17 L1688.61,944.93 L1688.08,944.70 L1687.54,944.47 L1686.99,944.24 L1686.44,944.02 L1685.88,943.80 L1685.31,943.58 L1684.74,943.36 L1684.15,943.15 L1683.57,942.94 L1682.97,942.73 L1682.37,942.52 L1681.77,942.32 L1681.15,942.12 L1680.53,941.92 L1679.90,941.73 L1679.26,941.54 L1678.62,941.35 L1677.97,941.16 L1677.31,940.98 L1676.65,940.80 L1675.97,940.62 L1675.29,940.44 L1674.60,940.27 L1673.90,940.10 L1673.20,939.94 L1672.49,939.77 L1671.76,939.61 L1671.03,939.45 L1670.29,939.30 L1669.55,939.15 L1668.79,939.00 L1668.02,938.85 L1667.25,938.71 L1666.46,938.56 L1665.67,938.43 L1664.86,938.29 L1664.05,938.16 L1663.22,938.03 L1662.39,937.90 L1661.54,937.78 L1660.68,937.66 L1659.81,937.54 L1658.93,937.43 L1658.04,937.31 L1657.13,937.20 L1656.22,937.10 L1655.28,936.99 L1654.34,936.89 L1653.38,936.79 L1652.41,936.70 L1651.42,936.61 L1650.41,936.52 L1649.39,936.43 L1648.35,936.35 L1647.29,936.27 L1646.22,936.19 L1645.12,936.12 L1644.00,936.04 L1642.87,935.98 L1641.70,935.91 L1640.52,935.85 L1639.31,935.79 L1638.06,935.73 L1636.79,935.68 L1635.49,935.62 L1634.15,935.58 L1632.78,935.53 L1631.36,935.49 L1629.90,935.45 L1628.39,935.41 L1626.82,935.38 L1625.19,935.35 L1623.48,935.32 L1621.70,935.29 L1619.81,935.27 L1617.80,935.25 L1615.64,935.24 L1613.28,935.22 L1610.66,935.21 L1607.61,935.21 L1603.80,935.20 L1595.95,935.20 L1589.29,935.20 L1585.81,935.21 L1582.99,935.21 L1580.52,935.22 L1578.29,935.24 L1576.22,935.25 L1574.29,935.27 L1572.47,935.29 L1570.74,935.31 L1569.08,935.34 L1567.49,935.37 L1565.95,935.40 L1564.47,935.44 L1563.03,935.48 L1561.63,935.52 L1560.27,935.56 L1558.94,935.61 L1557.65,935.66 L1556.38,935.71 L1555.15,935.76 L1553.93,935.82 L1552.75,935.88 L1551.58,935.95 L1550.44,936.01 L1549.32,936.08 L1548.21,936.15 L1547.13,936.23 L1546.06,936.31 L1545.01,936.39 L1543.98,936.47 L1542.96,936.56 L1541.96,936.64 L1540.97,936.74 L1540.00,936.83 L1539.03,936.93 L1538.09,937.03 L1537.15,937.13 L1536.23,937.23 L1535.32,937.34 L1534.42,937.45 L1533.53,937.57 L1532.65,937.68 L1531.78,937.80 L1530.93,937.93 L1530.08,938.05 L1529.24,938.18 L1528.42,938.31 L1527.60,938.44 L1526.79,938.58 L1526.00,938.72 L1525.21,938.86 L1524.43,939.00 L1523.66,939.15 L1522.89,939.30 L1522.14,939.45 L1521.39,939.61 L1520.66,939.77 L1519.93,939.93 L1519.20,940.09 L1518.49,940.26 L1517.79,940.43 L1517.09,940.60 L1516.40,940.77 L1515.71,940.95 L1515.04,941.13 L1514.37,941.31 L1513.71,941.50 L1513.06,941.69 L1512.41,941.88 L1511.77,942.07 L1511.14,942.27 L1510.51,942.47 L1509.89,942.67 L1509.28,942.87 L1508.68,943.08 L1508.08,943.29 L1507.49,943.50 L1506.90,943.72 L1506.32,943.93 L1505.75,944.16 L1505.19,944.38 L1504.63,944.61 L1504.08,944.83 L1503.53,945.07 L1502.99,945.30 L1502.46,945.54 L1501.93,945.78 L1501.41,946.02 L1500.89,946.26 L1500.39,946.51 L1499.88,946.76 L1499.39,947.02 L1498.90,947.27 L1498.41,947.53 L1497.94,947.79 L1497.46,948.06 L1497.00,948.32 L1496.54,948.59 L1496.08,948.86 L1495.64,949.14 L1495.19,949.42 L1494.76,949.70 L1494.33,949.98 L1493.90,950.27 L1493.48,950.56 L1493.07,950.85 L1492.66,951.14 L1492.26,951.44 L1491.87,951.74 L1491.48,952.04 L1491.09,952.35 L1490.71,952.65 L1490.34,952.96 L1489.97,953.28 L1489.61,953.60 L1489.26,953.91 L1488.91,954.24 L1488.56,954.56 L1488.23,954.89 L1487.89,955.22 L1487.57,955.55 L1487.24,955.89 L1486.93,956.23 L1486.62,956.57 L1486.31,956.92 L1486.01,957.27 L1485.72,957.62 L1485.43,957.97 L1485.15,958.33 L1484.87,958.69 L1484.60,959.06 L1484.34,959.42 L1484.08,959.79 L1483.82,960.17 L1483.57,960.54 L1483.33,960.92 L1483.09,961.31 L1482.86,961.69 L1482.63,962.09 L1482.41,962.48 L1482.20,962.88 L1481.99,963.28 L1481.78,963.68 L1481.58,964.09 L1481.39,964.50 L1481.20,964.92 L1481.02,965.34 L1480.84,965.77 L1480.67,966.20 L1480.50,966.63 L1480.34,967.07 L1480.19,967.51 L1480.04,967.96 L1479.89,968.41 L1479.75,968.87 L1479.62,969.33 L1479.49,969.80 L1479.37,970.27 L1479.25,970.75 L1479.14,971.24 L1479.03,971.73 L1478.93,972.23 L1478.84,972.74 L1478.75,973.25 L1478.66,973.78 L1478.58,974.31 L1478.51,974.86 L1478.44,975.41 L1478.38,975.98 L1478.32,976.56 L1478.27,977.15 L1478.22,977.76 L1478.18,978.39 L1478.15,979.05 L1478.12,979.73 L1478.09,980.44 L1478.07,981.21 L1478.06,982.03 L1478.05,982.98 L1478.05,984.35 L1478.05,985.37 L1478.06,986.15 L1478.07,986.86 L1478.09,987.53 L1478.11,988.16 L1478.14,988.77 L1478.17,989.36 L1478.21,989.94 L1478.25,990.50 L1478.29,991.06 L1478.34,991.60 L1478.40,992.13 L1478.46,992.65 L1478.53,993.17 L1478.60,993.67 L1478.67,994.18 L1478.75,994.67 L1478.84,995.16 L1478.93,995.64 L1479.02,996.12 L1479.12,996.59 L1479.23,997.06 L1479.34,997.53 L1479.45,997.99 L1479.57,998.44 L1479.69,998.89 L1479.82,999.34 L1479.96,999.78 L1480.10,1000.22 L1480.24,1000.66 L1480.39,1001.09 L1480.54,1001.52 L1480.70,1001.94 L1480.86,1002.36 L1481.03,1002.78 L1481.21,1003.19 L1481.38,1003.61 L1481.57,1004.01 L1481.76,1004.42 L1481.95,1004.82 L1482.15,1005.22 L1482.35,1005.62 L1482.56,1006.01 L1482.77,1006.40 L1482.99,1006.79 L1483.21,1007.17 L1483.44,1007.55 L1483.67,1007.93 L1483.91,1008.31 L1484.16,1008.68 L1484.40,1009.05 L1484.66,1009.42 L1484.92,1009.78 L1485.18,1010.15 L1485.45,1010.51 L1485.72,1010.86 L1486.00,1011.22 L1486.29,1011.57 L1486.58,1011.92 L1486.87,1012.26 L1487.17,1012.60 L1487.47,1012.95 L1487.78,1013.28 L1488.10,1013.62 L1488.42,1013.95 L1488.75,1014.28 L1489.08,1014.61 L1489.41,1014.93 L1489.75,1015.25 L1490.10,1015.57 L1490.45,1015.89 L1490.81,1016.20 L1491.17,1016.51 L1491.54,1016.82 L1491.92,1017.13 L1492.30,1017.43 L1492.68,1017.73 L1493.07,1018.03 L1493.47,1018.32 L1493.87,1018.61 L1494.28,1018.90 L1494.69,1019.19 L1495.11,1019.48 L1495.53,1019.76 L1495.96,1020.04 L1496.39,1020.31 L1496.83,1020.58 L1497.28,1020.86 L1497.73,1021.12 L1498.19,1021.39 L1498.66,1021.65 L1499.13,1021.91 L1499.60,1022.17 L1500.08,1022.42 L1500.57,1022.67 L1501.07,1022.92 L1501.57,1023.17 L1502.07,1023.41 L1502.58,1023.65 L1503.10,1023.89 L1503.63,1024.12 L1504.16,1024.36 L1504.70,1024.59 L1505.24,1024.81 L1505.79,1025.04 L1506.35,1025.26 L1506.91,1025.48 L1507.49,1025.69 L1508.06,1025.90 L1508.65,1026.11 L1509.24,1026.32 L1509.84,1026.52 L1510.44,1026.73 L1511.06,1026.92 L1511.68,1027.12 L1512.31,1027.31 L1512.94,1027.50 L1513.58,1027.69 L1514.23,1027.87 L1514.89,1028.05 L1515.56,1028.23 L1516.23,1028.41 L1516.92,1028.58 L1517.61,1028.75 L1518.31,1028.92 L1519.01,1029.08 L1519.73,1029.24 L1520.46,1029.40 L1521.19,1029.56 L1521.93,1029.71 L1522.69,1029.86 L1523.45,1030.00 L1524.22,1030.15 L1525.01,1030.29 L1525.80,1030.42 L1526.61,1030.56 L1527.42,1030.69 L1528.25,1030.82 L1529.08,1030.94 L1529.93,1031.07 L1530.80,1031.19 L1531.67,1031.30 L1532.56,1031.42 L1533.46,1031.53 L1534.37,1031.63 L1535.30,1031.74 L1536.24,1031.84 L1537.20,1031.94 L1538.18,1032.04 L1539.17,1032.13 L1540.18,1032.22 L1541.20,1032.30 L1542.25,1032.39 L1543.31,1032.47 L1544.40,1032.55 L1545.51,1032.62 L1546.64,1032.69 L1547.79,1032.76 L1548.98,1032.83 L1550.19,1032.89 L1551.43,1032.95 L1552.70,1033.01 L1554.00,1033.06 L1555.35,1033.11 L1556.73,1033.16 L1558.16,1033.20 L1559.63,1033.24 L1561.17,1033.28 L1562.76,1033.32 L1564.42,1033.35 L1566.16,1033.38 L1568.00,1033.40 L1569.94,1033.43 L1572.02,1033.45 L1574.26,1033.46 L1576.73,1033.48 L1579.49,1033.49 L1582.73,1033.49 L1586.86,1033.50 L1595.95,1033.50 L1605.67,1033.50 L1609.95,1033.49 L1613.28,1033.49 L1616.11,1033.47 L1618.63,1033.46 L1620.91,1033.44 L1623.01,1033.42 L1624.98,1033.39 L1626.83,1033.37 L1628.59,1033.33 L1630.27,1033.30 L1631.87,1033.26 L1633.41,1033.22 L1634.89,1033.17 L1636.32,1033.13 L1637.71,1033.07 L1639.05,1033.02 L1640.36,1032.96 L1641.63,1032.90 L1642.87,1032.84 L1644.08,1032.77 L1645.25,1032.70 L1646.41,1032.62 L1647.53,1032.54 L1648.64,1032.46 L1649.72,1032.38 L1650.78,1032.29 L1651.81,1032.20 L1652.83,1032.11 L1653.83,1032.01 L1654.82,1031.91 L1655.78,1031.80 L1656.74,1031.70 L1657.67,1031.59 L1658.59,1031.47 L1659.50,1031.36 L1660.39,1031.24 L1661.26,1031.11 L1662.13,1030.99 L1662.98,1030.86 L1663.82,1030.72 L1664.65,1030.59 L1665.47,1030.45 L1666.27,1030.31 L1667.06,1030.16 L1667.85,1030.01 L1668.62,1029.86 L1669.38,1029.70 L1670.14,1029.55 L1670.88,1029.38 L1671.61,1029.22 L1672.34,1029.05 L1673.05,1028.88 L1673.76,1028.71 L1674.45,1028.53 L1675.14,1028.35 L1675.82,1028.17 L1676.49,1027.98 L1677.16,1027.79 L1677.81,1027.60 L1678.46,1027.41 L1679.10,1027.21 L1679.73,1027.01 L1680.35,1026.80 L1680.97,1026.59 L1681.58,1026.38 L1682.18,1026.17 L1682.78,1025.95 L1683.36,1025.74 L1683.94,1025.51 L1684.52,1025.29 L1685.09,1025.06 L1685.65,1024.83 L1686.20,1024.60 L1686.75,1024.36 L1687.29,1024.12 L1687.82,1023.88 L1688.35,1023.63 L1688.87,1023.38 L1689.38,1023.13 L1689.89,1022.88 L1690.39,1022.62 L1690.89,1022.36 L1691.38,1022.10 L1691.86,1021.84 L1692.34,1021.57 L1692.81,1021.30 L1693.28,1021.02 L1693.74,1020.75 L1694.19,1020.47 L1694.64,1020.19 L1695.08,1019.90 L1695.52,1019.62 L1695.95,1019.33 L1696.38,1019.03 L1696.80,1018.74 L1697.21,1018.44 L1697.62,1018.14 L1698.02,1017.84 L1698.42,1017.53 L1698.81,1017.23 L1699.20,1016.91 L1699.58,1016.60 L1699.96,1016.29 L1700.33,1015.97 L1700.69,1015.65 L1701.05,1015.32 L1701.41,1015.00 L1701.76,1014.67 L1702.10,1014.34 L1702.44,1014.00 L1702.77,1013.67 L1703.10,1013.33 L1703.42,1012.99 L1703.74,1012.65 L1704.05,1012.30 L1704.36,1011.95 L1704.66,1011.60 L1704.96,1011.25 L1705.25,1010.89 L1705.54,1010.53 L1705.82,1010.17 L1706.10,1009.81 L1706.37,1009.45 L1706.64,1009.08 L1706.90,1008.71 L1707.16,1008.34 L1707.41,1007.96 L1707.66,1007.59 L1707.90,1007.21 L1708.14,1006.83 L1708.37,1006.44 L1708.60,1006.06 L1708.82,1005.67 L1709.04,1005.28 L1709.25,1004.88 L1709.46,1004.49 L1709.66,1004.09 L1709.86,1003.69 L1710.05,1003.29 L1710.24,1002.88 L1710.42,1002.48 L1710.60,1002.07 L1710.78,1001.66 L1710.95,1001.24 L1711.11,1000.82 L1711.27,1000.40 L1711.42,999.98 L1711.57,999.56 L1711.72,999.13 L1711.86,998.70 L1711.99,998.27 L1712.12,997.84 L1712.25,997.40 L1712.37,996.96 L1712.49,996.52 L1712.60,996.07 L1712.70,995.62 L1712.81,995.17 L1712.90,994.72 L1713.00,994.26 L1713.08,993.80 L1713.17,993.33 L1713.24,992.87 L1713.32,992.39 L1713.39,991.92 L1713.45,991.44 L1713.51,990.95 L1713.56,990.46 L1713.61,989.97 L1713.66,989.47 L1713.70,988.96 L1713.73,988.44 L1713.76,987.92 L1713.79,987.39 L1713.81,986.84 L1713.83,986.28 L1713.84,985.70 L1713.85,985.08Z" fill="none" stroke="#000" stroke-width="2.2" />
<rect x="1584.65" y="975.1" width="22.6" height="18.4" rx="5" fill="none" stroke="#000" stroke-width="4.2" />
<circle cx="1595.95" cy="984.3" r="6.6" fill="none" stroke="#000" stroke-width="1.5"/>
<circle cx="1595.95" cy="984.3" r="3.2" fill="none" stroke="#000" stroke-width="1.8"/>
<line x1="1595.95" y1="1033.1" x2="1595.95" y2="1043.6" stroke="#000" stroke-width="1.4" />
<line x1="1614.55" y1="1047.9" x2="1577.15" y2="1047.9" stroke="#000" stroke-width="3.2" />
<circle cx="1730.65" cy="936.9" r="12.9" fill="#000" stroke="#000" stroke-width="1"/>
<circle cx="1730.65" cy="936.9" r="7.5" fill="none" stroke="#fff" stroke-width="1.6"/>
<circle cx="1730.65" cy="936.9" r="2.6" fill="#000" stroke="#000" stroke-width="1"/>
<polygon points="1732.95,947.6 1728.35,947.6 1728.35,953.6 1732.95,953.6" fill="#000"/>
<polygon points="1748.55,963.6 1722.55,963.6 1722.55,1010.1 1748.55,1010.1" fill="none" stroke="#000" stroke-width="2.8" />
<polygon points="1744.55,967.6 1727.55,967.6 1727.55,991.6 1744.55,991.6" fill="none" stroke="#000" stroke-width="2" />
<line x1="1736.05" y1="957.6" x2="1736.05" y2="1018.6" stroke="#000" stroke-width="2" />
<polygon points="1749.75,991.6 1721.55,991.6 1721.55,995.6 1749.75,995.6" fill="#000"/>
<polygon points="1749.75,1007.1 1721.55,1007.1 1721.55,1010.6 1749.75,1010.6" fill="#000"/>
<polygon points="1747.55,995.6 1723.55,995.6 1723.55,1007.1 1747.55,1007.1" fill="none" stroke="#000" stroke-width="1.8" />
<circle cx="1734.05" cy="1001.6" r="5.5" fill="none" stroke="#000" stroke-width="2.2"/>
<circle cx="1732.25" cy="958.1" r="2.6" fill="none" stroke="#000" stroke-width="2.2"/>
<polygon points="1741.55,1010.1 1729.05,1010.1 1729.05,1017.1 1741.55,1017.1" fill="none" stroke="#000" stroke-width="2" />
<polygon points="1720.05,967.9 1716.05,969.9 1716.05,974.9 1720.05,975.9" fill="#000" stroke="#000" stroke-width="1" />
<polygon points="1720.05,989.3 1716.05,991.3 1716.05,996.3 1720.05,997.3" fill="#000" stroke="#000" stroke-width="1" />
<path d="M1741.55,1016.6 C1740.72,1017.93 1739.05,1021.93 1736.55,1024.6 C1734.05,1027.27 1730.55,1030.1 1726.55,1032.6 C1722.55,1035.1 1714.88,1038.43 1712.55,1039.6" fill="none" stroke="#000" stroke-width="1.8" />
<path d="M1733.55,1016.6 C1732.38,1017.77 1729.38,1021.43 1726.55,1023.6 C1723.72,1025.77 1720.22,1027.77 1716.55,1029.6 C1712.88,1031.43 1706.55,1033.77 1704.55,1034.6" fill="none" stroke="#000" stroke-width="1.8" />
<polygon points="1746.35,1029.2 1703.55,1029.2 1703.55,1042.9 1746.35,1042.9" fill="none" stroke="#000" stroke-width="2.2" />
<line x1="1746.35" y1="1041.1" x2="1703.55" y2="1041.1" stroke="#000" stroke-width="2.6" />
<line x1="1735.55" y1="1031.6" x2="1728.55" y2="1035.6" stroke="#000" stroke-width="2" />
<line x1="1725.55" y1="1033.6" x2="1718.55" y2="1038.6" stroke="#000" stroke-width="2" />
</svg>
</body></html>
